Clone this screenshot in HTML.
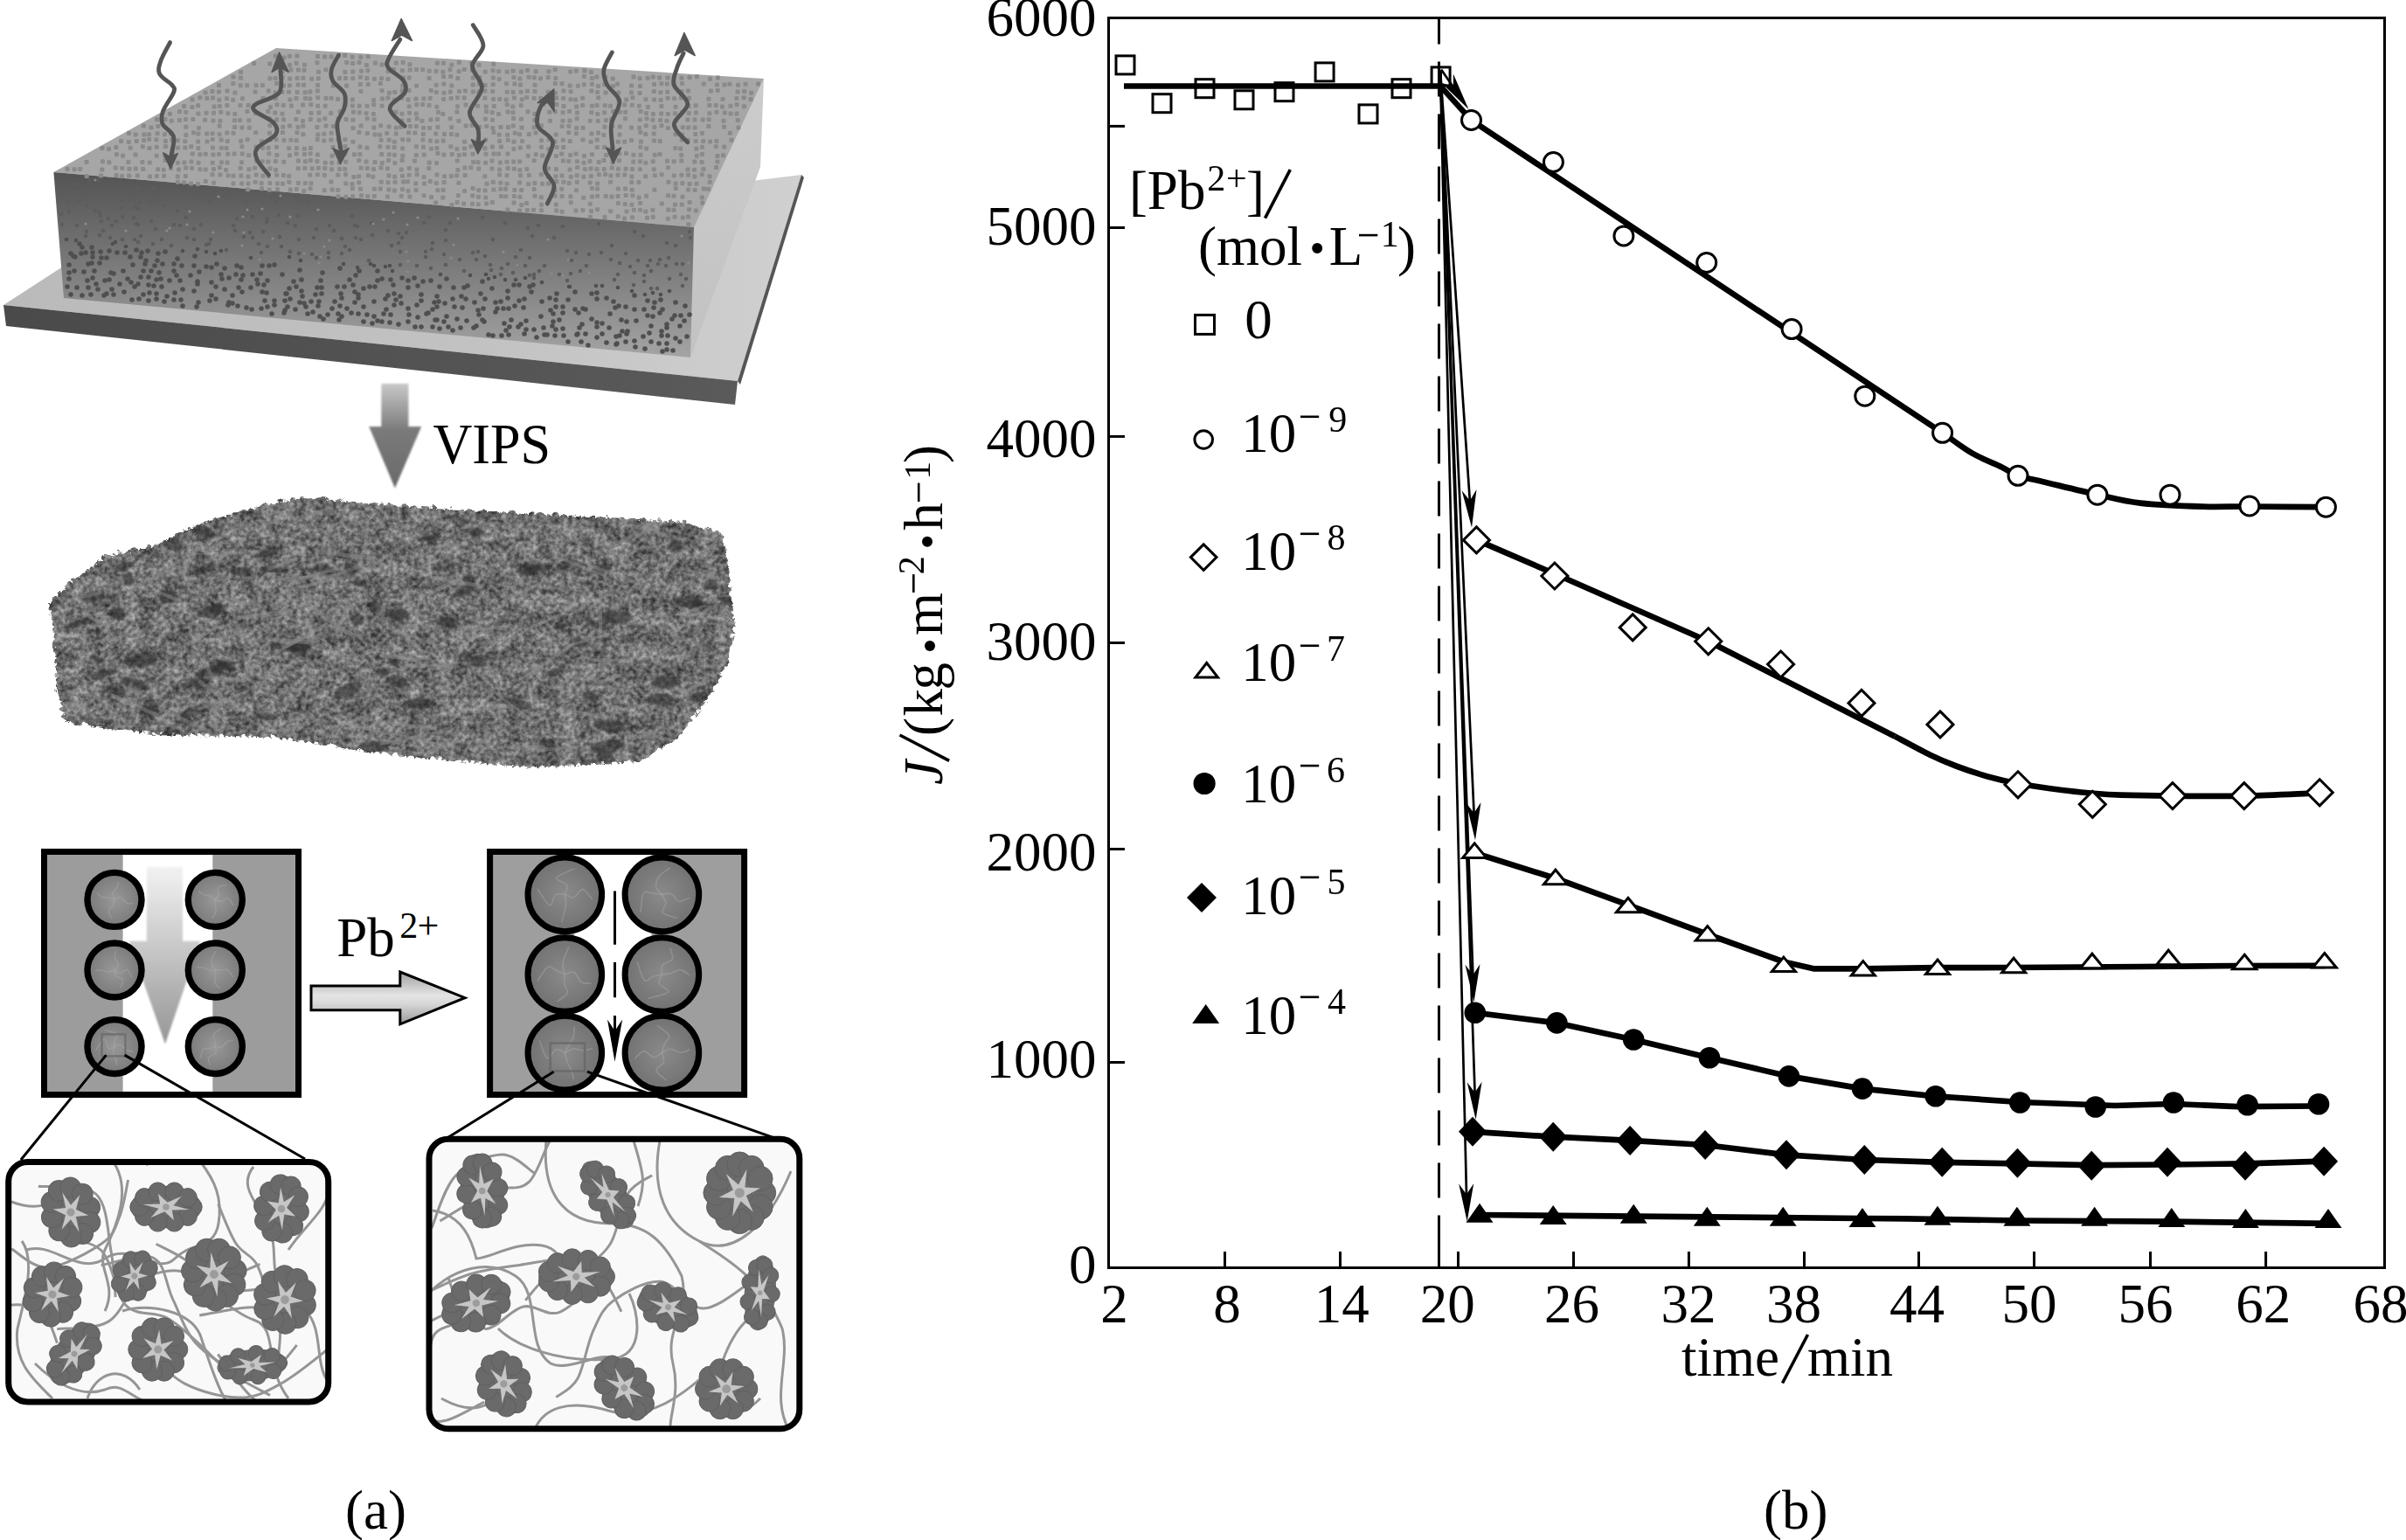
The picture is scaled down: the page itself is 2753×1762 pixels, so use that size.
<!DOCTYPE html>
<html><head><meta charset="utf-8"><style>html,body{margin:0;padding:0;background:#fff;}svg{display:block;}</style></head>
<body><svg width="2753" height="1762" viewBox="0 0 2753 1762">
<rect width="2753" height="1762" fill="#fff"/>
<defs>
<linearGradient id="plateTop" x1="0" y1="0" x2="1" y2="0"><stop offset="0" stop-color="#bababa"/><stop offset="0.6" stop-color="#c2c2c2"/><stop offset="1" stop-color="#d0d0d0"/></linearGradient>
<linearGradient id="plateFront" x1="0" y1="0" x2="1" y2="0"><stop offset="0" stop-color="#4a4a4a"/><stop offset="1" stop-color="#5a5a5a"/></linearGradient>
<linearGradient id="memFront" x1="0" y1="0" x2="0" y2="1"><stop offset="0" stop-color="#545454"/><stop offset="0.15" stop-color="#5e5e5e"/><stop offset="0.45" stop-color="#767676"/><stop offset="1" stop-color="#a4a4a4"/></linearGradient>
<linearGradient id="memSide" x1="0" y1="0" x2="0" y2="1"><stop offset="0" stop-color="#cccccc"/><stop offset="1" stop-color="#c2c2c2"/></linearGradient>
<linearGradient id="vipsArr" x1="0" y1="0" x2="0" y2="1"><stop offset="0" stop-color="#c8c8c8"/><stop offset="0.45" stop-color="#7a7a7a"/><stop offset="1" stop-color="#6a6a6a"/></linearGradient>
<linearGradient id="chanArr" x1="0" y1="0" x2="0" y2="1"><stop offset="0" stop-color="#f2f2f2"/><stop offset="0.5" stop-color="#c4c4c4"/><stop offset="1" stop-color="#959595"/></linearGradient>
<linearGradient id="pbArr" x1="0" y1="0" x2="0" y2="1"><stop offset="0" stop-color="#a0a0a0"/><stop offset="0.45" stop-color="#e4e4e4"/><stop offset="0.6" stop-color="#d8d8d8"/><stop offset="1" stop-color="#9a9a9a"/></linearGradient>
<radialGradient id="gel" cx="0.5" cy="0.5" r="0.5"><stop offset="0" stop-color="#989898"/><stop offset="1" stop-color="#7a7a7a"/></radialGradient><radialGradient id="gel2" cx="0.5" cy="0.5" r="0.5"><stop offset="0" stop-color="#8a8a8a"/><stop offset="1" stop-color="#727272"/></radialGradient>
<filter id="noise" x="0" y="0" width="100%" height="100%" color-interpolation-filters="sRGB"><feTurbulence type="fractalNoise" baseFrequency="0.09" numOctaves="3" seed="3"/><feColorMatrix type="matrix" values="0 0 0 0 0  0 0 0 0 0  0 0 0 0 0  0 0 0 -2.2 1.25"/></filter>
<filter id="grain" x="0" y="0" width="100%" height="100%" color-interpolation-filters="sRGB"><feTurbulence type="fractalNoise" baseFrequency="0.2" numOctaves="2" seed="5"/><feColorMatrix type="matrix" values="1.6 0 0 0 -0.3  1.6 0 0 0 -0.3  1.6 0 0 0 -0.3  0 0 0 0 1"/></filter>
<filter id="mottle" x="0" y="0" width="100%" height="100%" color-interpolation-filters="sRGB"><feTurbulence type="fractalNoise" baseFrequency="0.05" numOctaves="2" seed="11"/><feColorMatrix type="matrix" values="2.2 0 0 0 -0.6  2.2 0 0 0 -0.6  2.2 0 0 0 -0.6  0 0 0 0 1"/></filter>
<filter id="rough" x="-5%" y="-5%" width="110%" height="110%" color-interpolation-filters="sRGB"><feTurbulence type="turbulence" baseFrequency="0.12" numOctaves="1" seed="2" result="t"/><feDisplacementMap in="SourceGraphic" in2="t" scale="9" xChannelSelector="R" yChannelSelector="G"/></filter>
<filter id="blur07"><feGaussianBlur stdDeviation="0.7"/></filter>
<filter id="blur1"><feGaussianBlur stdDeviation="1"/></filter>
<clipPath id="spongeClip"><path id="spongeP" d="M52,687 L82,659 L117,634 L170,622 L229,594 L316,571 L344,566 L449,575 L554,582 L658,587 L781,594 L823,608 L830,645 L837,715 L830,757 L805,798 L774,840 L728,868 L606,875 L449,861 L309,840 L170,837 L72,823 L61,784 L58,715 Z"/></clipPath>
</defs>
<polygon points="4.0,349.0 75.0,303.0 917.0,200.0 844.0,436.0" fill="url(#plateTop)"/>
<polygon points="4.0,349.0 844.0,436.0 841.0,463.0 7.0,373.0" fill="url(#plateFront)"/>
<polygon points="917.0,200.0 920.0,203.0 847.0,440.0 844.0,436.0" fill="#555"/>
<polygon points="794.0,260.0 874.0,90.0 870.0,191.0 790.0,409.0" fill="url(#memSide)"/>
<polygon points="61.4,197.0 316.0,55.0 874.0,90.0 794.0,260.0" fill="#a6a6a6"/>
<polygon points="61.4,197.0 794.0,260.0 790.0,409.0 73.0,341.0" fill="url(#memFront)"/>
<g fill="#8a8a8a" filter="url(#blur07)"><rect x="312.8" y="61.5" width="5" height="5" rx="1.2"/><rect x="322.5" y="63.6" width="5" height="5" rx="1.2"/><rect x="328.8" y="61.7" width="5" height="5" rx="1.2"/><rect x="337.4" y="61.5" width="5" height="5" rx="1.2"/><rect x="360.9" y="62.1" width="5" height="5" rx="1.2"/><rect x="369.1" y="62.4" width="5" height="5" rx="1.2"/><rect x="376.6" y="62.5" width="5" height="5" rx="1.2"/><rect x="384.8" y="61.3" width="5" height="5" rx="1.2"/><rect x="392.1" y="61.1" width="5" height="5" rx="1.2"/><rect x="400.7" y="62.8" width="5" height="5" rx="1.2"/><rect x="410.3" y="63.0" width="5" height="5" rx="1.2"/><rect x="418.6" y="62.2" width="5" height="5" rx="1.2"/><rect x="288.1" y="70.0" width="5" height="5" rx="1.2"/><rect x="306.2" y="70.5" width="5" height="5" rx="1.2"/><rect x="328.9" y="71.9" width="5" height="5" rx="1.2"/><rect x="336.6" y="69.7" width="5" height="5" rx="1.2"/><rect x="346.0" y="71.8" width="5" height="5" rx="1.2"/><rect x="360.4" y="69.2" width="5" height="5" rx="1.2"/><rect x="394.2" y="69.1" width="5" height="5" rx="1.2"/><rect x="401.1" y="70.1" width="5" height="5" rx="1.2"/><rect x="408.5" y="69.0" width="5" height="5" rx="1.2"/><rect x="417.1" y="71.9" width="5" height="5" rx="1.2"/><rect x="426.9" y="69.6" width="5" height="5" rx="1.2"/><rect x="434.5" y="71.5" width="5" height="5" rx="1.2"/><rect x="440.1" y="70.4" width="5" height="5" rx="1.2"/><rect x="450.8" y="69.6" width="5" height="5" rx="1.2"/><rect x="458.7" y="69.1" width="5" height="5" rx="1.2"/><rect x="466.4" y="71.3" width="5" height="5" rx="1.2"/><rect x="497.9" y="69.8" width="5" height="5" rx="1.2"/><rect x="504.9" y="69.8" width="5" height="5" rx="1.2"/><rect x="514.3" y="71.7" width="5" height="5" rx="1.2"/><rect x="522.8" y="69.1" width="5" height="5" rx="1.2"/><rect x="537.2" y="69.8" width="5" height="5" rx="1.2"/><rect x="545.5" y="71.8" width="5" height="5" rx="1.2"/><rect x="562.3" y="70.8" width="5" height="5" rx="1.2"/><rect x="273.1" y="79.9" width="5" height="5" rx="1.2"/><rect x="320.5" y="79.7" width="5" height="5" rx="1.2"/><rect x="330.4" y="77.4" width="5" height="5" rx="1.2"/><rect x="338.8" y="77.6" width="5" height="5" rx="1.2"/><rect x="345.5" y="78.0" width="5" height="5" rx="1.2"/><rect x="362.0" y="79.7" width="5" height="5" rx="1.2"/><rect x="370.4" y="77.3" width="5" height="5" rx="1.2"/><rect x="392.3" y="80.0" width="5" height="5" rx="1.2"/><rect x="401.2" y="79.4" width="5" height="5" rx="1.2"/><rect x="411.0" y="78.7" width="5" height="5" rx="1.2"/><rect x="418.3" y="78.3" width="5" height="5" rx="1.2"/><rect x="441.8" y="79.0" width="5" height="5" rx="1.2"/><rect x="448.0" y="77.1" width="5" height="5" rx="1.2"/><rect x="457.8" y="78.3" width="5" height="5" rx="1.2"/><rect x="466.7" y="77.4" width="5" height="5" rx="1.2"/><rect x="474.0" y="77.1" width="5" height="5" rx="1.2"/><rect x="481.1" y="77.3" width="5" height="5" rx="1.2"/><rect x="488.7" y="78.8" width="5" height="5" rx="1.2"/><rect x="496.6" y="78.9" width="5" height="5" rx="1.2"/><rect x="504.4" y="79.8" width="5" height="5" rx="1.2"/><rect x="512.4" y="77.3" width="5" height="5" rx="1.2"/><rect x="522.6" y="79.3" width="5" height="5" rx="1.2"/><rect x="528.8" y="77.0" width="5" height="5" rx="1.2"/><rect x="537.7" y="78.1" width="5" height="5" rx="1.2"/><rect x="552.7" y="79.7" width="5" height="5" rx="1.2"/><rect x="561.6" y="78.2" width="5" height="5" rx="1.2"/><rect x="568.2" y="79.3" width="5" height="5" rx="1.2"/><rect x="577.7" y="79.8" width="5" height="5" rx="1.2"/><rect x="584.6" y="78.8" width="5" height="5" rx="1.2"/><rect x="593.9" y="79.4" width="5" height="5" rx="1.2"/><rect x="600.9" y="77.9" width="5" height="5" rx="1.2"/><rect x="610.7" y="79.3" width="5" height="5" rx="1.2"/><rect x="625.4" y="79.2" width="5" height="5" rx="1.2"/><rect x="632.7" y="77.3" width="5" height="5" rx="1.2"/><rect x="650.1" y="79.5" width="5" height="5" rx="1.2"/><rect x="656.8" y="78.7" width="5" height="5" rx="1.2"/><rect x="666.4" y="78.6" width="5" height="5" rx="1.2"/><rect x="673.9" y="79.9" width="5" height="5" rx="1.2"/><rect x="264.5" y="85.5" width="5" height="5" rx="1.2"/><rect x="273.0" y="86.6" width="5" height="5" rx="1.2"/><rect x="306.4" y="87.2" width="5" height="5" rx="1.2"/><rect x="312.6" y="86.9" width="5" height="5" rx="1.2"/><rect x="320.6" y="86.2" width="5" height="5" rx="1.2"/><rect x="329.2" y="87.4" width="5" height="5" rx="1.2"/><rect x="337.5" y="86.9" width="5" height="5" rx="1.2"/><rect x="344.4" y="86.8" width="5" height="5" rx="1.2"/><rect x="354.2" y="87.7" width="5" height="5" rx="1.2"/><rect x="361.7" y="87.2" width="5" height="5" rx="1.2"/><rect x="386.0" y="86.9" width="5" height="5" rx="1.2"/><rect x="392.9" y="86.9" width="5" height="5" rx="1.2"/><rect x="401.3" y="87.3" width="5" height="5" rx="1.2"/><rect x="409.9" y="85.8" width="5" height="5" rx="1.2"/><rect x="417.4" y="86.9" width="5" height="5" rx="1.2"/><rect x="426.0" y="87.8" width="5" height="5" rx="1.2"/><rect x="434.0" y="87.3" width="5" height="5" rx="1.2"/><rect x="441.5" y="87.9" width="5" height="5" rx="1.2"/><rect x="458.8" y="86.6" width="5" height="5" rx="1.2"/><rect x="465.7" y="86.6" width="5" height="5" rx="1.2"/><rect x="488.6" y="87.1" width="5" height="5" rx="1.2"/><rect x="505.1" y="85.2" width="5" height="5" rx="1.2"/><rect x="513.2" y="85.0" width="5" height="5" rx="1.2"/><rect x="521.3" y="87.1" width="5" height="5" rx="1.2"/><rect x="538.8" y="86.6" width="5" height="5" rx="1.2"/><rect x="546.4" y="86.2" width="5" height="5" rx="1.2"/><rect x="561.9" y="86.4" width="5" height="5" rx="1.2"/><rect x="568.7" y="87.9" width="5" height="5" rx="1.2"/><rect x="585.4" y="85.9" width="5" height="5" rx="1.2"/><rect x="592.4" y="87.5" width="5" height="5" rx="1.2"/><rect x="602.6" y="85.8" width="5" height="5" rx="1.2"/><rect x="608.8" y="86.3" width="5" height="5" rx="1.2"/><rect x="616.0" y="87.2" width="5" height="5" rx="1.2"/><rect x="624.7" y="85.9" width="5" height="5" rx="1.2"/><rect x="633.3" y="86.9" width="5" height="5" rx="1.2"/><rect x="665.9" y="85.0" width="5" height="5" rx="1.2"/><rect x="674.9" y="87.0" width="5" height="5" rx="1.2"/><rect x="680.3" y="85.4" width="5" height="5" rx="1.2"/><rect x="690.3" y="86.0" width="5" height="5" rx="1.2"/><rect x="698.7" y="87.4" width="5" height="5" rx="1.2"/><rect x="722.5" y="85.6" width="5" height="5" rx="1.2"/><rect x="729.6" y="87.2" width="5" height="5" rx="1.2"/><rect x="738.6" y="86.7" width="5" height="5" rx="1.2"/><rect x="744.7" y="85.4" width="5" height="5" rx="1.2"/><rect x="752.2" y="86.4" width="5" height="5" rx="1.2"/><rect x="761.5" y="86.5" width="5" height="5" rx="1.2"/><rect x="777.4" y="86.7" width="5" height="5" rx="1.2"/><rect x="786.5" y="86.1" width="5" height="5" rx="1.2"/><rect x="794.9" y="85.2" width="5" height="5" rx="1.2"/><rect x="810.0" y="87.8" width="5" height="5" rx="1.2"/><rect x="818.9" y="86.5" width="5" height="5" rx="1.2"/><rect x="248.0" y="95.1" width="5" height="5" rx="1.2"/><rect x="264.4" y="93.1" width="5" height="5" rx="1.2"/><rect x="272.7" y="95.2" width="5" height="5" rx="1.2"/><rect x="280.2" y="95.3" width="5" height="5" rx="1.2"/><rect x="290.6" y="95.2" width="5" height="5" rx="1.2"/><rect x="297.9" y="95.1" width="5" height="5" rx="1.2"/><rect x="314.2" y="93.0" width="5" height="5" rx="1.2"/><rect x="322.0" y="95.5" width="5" height="5" rx="1.2"/><rect x="328.9" y="95.2" width="5" height="5" rx="1.2"/><rect x="338.6" y="94.5" width="5" height="5" rx="1.2"/><rect x="345.1" y="94.7" width="5" height="5" rx="1.2"/><rect x="361.1" y="94.9" width="5" height="5" rx="1.2"/><rect x="378.8" y="95.4" width="5" height="5" rx="1.2"/><rect x="394.1" y="95.5" width="5" height="5" rx="1.2"/><rect x="409.8" y="93.9" width="5" height="5" rx="1.2"/><rect x="418.7" y="94.1" width="5" height="5" rx="1.2"/><rect x="432.8" y="93.0" width="5" height="5" rx="1.2"/><rect x="458.4" y="95.6" width="5" height="5" rx="1.2"/><rect x="474.1" y="95.7" width="5" height="5" rx="1.2"/><rect x="496.7" y="94.8" width="5" height="5" rx="1.2"/><rect x="505.4" y="93.6" width="5" height="5" rx="1.2"/><rect x="514.3" y="95.4" width="5" height="5" rx="1.2"/><rect x="538.7" y="94.6" width="5" height="5" rx="1.2"/><rect x="545.8" y="93.6" width="5" height="5" rx="1.2"/><rect x="552.5" y="95.1" width="5" height="5" rx="1.2"/><rect x="561.7" y="94.2" width="5" height="5" rx="1.2"/><rect x="577.1" y="93.3" width="5" height="5" rx="1.2"/><rect x="586.4" y="93.5" width="5" height="5" rx="1.2"/><rect x="593.0" y="94.6" width="5" height="5" rx="1.2"/><rect x="609.5" y="94.7" width="5" height="5" rx="1.2"/><rect x="632.8" y="93.1" width="5" height="5" rx="1.2"/><rect x="640.5" y="93.3" width="5" height="5" rx="1.2"/><rect x="649.7" y="95.6" width="5" height="5" rx="1.2"/><rect x="658.8" y="95.7" width="5" height="5" rx="1.2"/><rect x="665.8" y="94.2" width="5" height="5" rx="1.2"/><rect x="674.9" y="93.8" width="5" height="5" rx="1.2"/><rect x="681.9" y="95.9" width="5" height="5" rx="1.2"/><rect x="689.2" y="94.3" width="5" height="5" rx="1.2"/><rect x="698.9" y="96.0" width="5" height="5" rx="1.2"/><rect x="704.1" y="93.8" width="5" height="5" rx="1.2"/><rect x="720.1" y="95.4" width="5" height="5" rx="1.2"/><rect x="729.9" y="96.0" width="5" height="5" rx="1.2"/><rect x="746.0" y="93.9" width="5" height="5" rx="1.2"/><rect x="754.3" y="93.3" width="5" height="5" rx="1.2"/><rect x="760.8" y="93.4" width="5" height="5" rx="1.2"/><rect x="768.5" y="93.7" width="5" height="5" rx="1.2"/><rect x="778.0" y="93.0" width="5" height="5" rx="1.2"/><rect x="802.7" y="93.4" width="5" height="5" rx="1.2"/><rect x="817.9" y="94.4" width="5" height="5" rx="1.2"/><rect x="826.5" y="94.4" width="5" height="5" rx="1.2"/><rect x="832.4" y="93.7" width="5" height="5" rx="1.2"/><rect x="842.1" y="94.7" width="5" height="5" rx="1.2"/><rect x="850.6" y="93.8" width="5" height="5" rx="1.2"/><rect x="865.0" y="93.5" width="5" height="5" rx="1.2"/><rect x="232.6" y="103.5" width="5" height="5" rx="1.2"/><rect x="240.5" y="102.1" width="5" height="5" rx="1.2"/><rect x="248.0" y="102.6" width="5" height="5" rx="1.2"/><rect x="257.5" y="101.4" width="5" height="5" rx="1.2"/><rect x="266.4" y="103.6" width="5" height="5" rx="1.2"/><rect x="289.5" y="102.5" width="5" height="5" rx="1.2"/><rect x="304.7" y="101.5" width="5" height="5" rx="1.2"/><rect x="312.8" y="103.5" width="5" height="5" rx="1.2"/><rect x="320.3" y="103.1" width="5" height="5" rx="1.2"/><rect x="328.1" y="102.8" width="5" height="5" rx="1.2"/><rect x="337.6" y="103.1" width="5" height="5" rx="1.2"/><rect x="346.6" y="103.2" width="5" height="5" rx="1.2"/><rect x="352.4" y="102.5" width="5" height="5" rx="1.2"/><rect x="360.8" y="101.4" width="5" height="5" rx="1.2"/><rect x="410.3" y="102.0" width="5" height="5" rx="1.2"/><rect x="434.5" y="101.2" width="5" height="5" rx="1.2"/><rect x="442.9" y="103.8" width="5" height="5" rx="1.2"/><rect x="449.3" y="102.9" width="5" height="5" rx="1.2"/><rect x="457.6" y="101.2" width="5" height="5" rx="1.2"/><rect x="465.5" y="101.1" width="5" height="5" rx="1.2"/><rect x="490.7" y="101.1" width="5" height="5" rx="1.2"/><rect x="496.8" y="103.0" width="5" height="5" rx="1.2"/><rect x="505.6" y="103.8" width="5" height="5" rx="1.2"/><rect x="512.8" y="102.6" width="5" height="5" rx="1.2"/><rect x="522.9" y="101.9" width="5" height="5" rx="1.2"/><rect x="529.9" y="101.4" width="5" height="5" rx="1.2"/><rect x="538.9" y="102.5" width="5" height="5" rx="1.2"/><rect x="545.4" y="102.6" width="5" height="5" rx="1.2"/><rect x="552.4" y="101.4" width="5" height="5" rx="1.2"/><rect x="561.2" y="101.9" width="5" height="5" rx="1.2"/><rect x="577.8" y="102.7" width="5" height="5" rx="1.2"/><rect x="584.6" y="103.1" width="5" height="5" rx="1.2"/><rect x="593.6" y="102.8" width="5" height="5" rx="1.2"/><rect x="600.9" y="101.7" width="5" height="5" rx="1.2"/><rect x="609.5" y="102.1" width="5" height="5" rx="1.2"/><rect x="624.7" y="102.7" width="5" height="5" rx="1.2"/><rect x="632.9" y="104.0" width="5" height="5" rx="1.2"/><rect x="642.3" y="101.5" width="5" height="5" rx="1.2"/><rect x="650.6" y="102.3" width="5" height="5" rx="1.2"/><rect x="674.2" y="101.5" width="5" height="5" rx="1.2"/><rect x="681.1" y="103.0" width="5" height="5" rx="1.2"/><rect x="690.5" y="103.5" width="5" height="5" rx="1.2"/><rect x="705.4" y="103.4" width="5" height="5" rx="1.2"/><rect x="720.0" y="103.3" width="5" height="5" rx="1.2"/><rect x="729.5" y="103.9" width="5" height="5" rx="1.2"/><rect x="745.8" y="102.1" width="5" height="5" rx="1.2"/><rect x="753.4" y="103.2" width="5" height="5" rx="1.2"/><rect x="761.2" y="102.7" width="5" height="5" rx="1.2"/><rect x="777.5" y="102.3" width="5" height="5" rx="1.2"/><rect x="784.9" y="101.4" width="5" height="5" rx="1.2"/><rect x="810.9" y="101.6" width="5" height="5" rx="1.2"/><rect x="818.7" y="101.0" width="5" height="5" rx="1.2"/><rect x="841.6" y="102.6" width="5" height="5" rx="1.2"/><rect x="849.2" y="102.1" width="5" height="5" rx="1.2"/><rect x="857.1" y="103.8" width="5" height="5" rx="1.2"/><rect x="217.6" y="111.5" width="5" height="5" rx="1.2"/><rect x="226.4" y="109.2" width="5" height="5" rx="1.2"/><rect x="234.3" y="110.0" width="5" height="5" rx="1.2"/><rect x="241.1" y="109.5" width="5" height="5" rx="1.2"/><rect x="248.3" y="111.7" width="5" height="5" rx="1.2"/><rect x="257.0" y="110.3" width="5" height="5" rx="1.2"/><rect x="264.2" y="111.7" width="5" height="5" rx="1.2"/><rect x="274.9" y="110.3" width="5" height="5" rx="1.2"/><rect x="298.4" y="109.9" width="5" height="5" rx="1.2"/><rect x="312.7" y="110.2" width="5" height="5" rx="1.2"/><rect x="329.5" y="111.4" width="5" height="5" rx="1.2"/><rect x="336.5" y="110.1" width="5" height="5" rx="1.2"/><rect x="346.9" y="109.9" width="5" height="5" rx="1.2"/><rect x="352.3" y="110.6" width="5" height="5" rx="1.2"/><rect x="361.2" y="109.2" width="5" height="5" rx="1.2"/><rect x="370.5" y="110.1" width="5" height="5" rx="1.2"/><rect x="376.6" y="109.9" width="5" height="5" rx="1.2"/><rect x="384.1" y="111.0" width="5" height="5" rx="1.2"/><rect x="392.5" y="111.1" width="5" height="5" rx="1.2"/><rect x="400.8" y="111.5" width="5" height="5" rx="1.2"/><rect x="425.1" y="111.9" width="5" height="5" rx="1.2"/><rect x="434.9" y="110.5" width="5" height="5" rx="1.2"/><rect x="441.4" y="109.4" width="5" height="5" rx="1.2"/><rect x="448.8" y="111.7" width="5" height="5" rx="1.2"/><rect x="457.1" y="109.7" width="5" height="5" rx="1.2"/><rect x="464.6" y="111.6" width="5" height="5" rx="1.2"/><rect x="473.5" y="110.6" width="5" height="5" rx="1.2"/><rect x="482.3" y="110.2" width="5" height="5" rx="1.2"/><rect x="489.7" y="109.9" width="5" height="5" rx="1.2"/><rect x="505.0" y="111.0" width="5" height="5" rx="1.2"/><rect x="513.7" y="110.1" width="5" height="5" rx="1.2"/><rect x="520.9" y="109.2" width="5" height="5" rx="1.2"/><rect x="528.7" y="109.4" width="5" height="5" rx="1.2"/><rect x="552.4" y="109.8" width="5" height="5" rx="1.2"/><rect x="562.0" y="111.0" width="5" height="5" rx="1.2"/><rect x="569.2" y="111.0" width="5" height="5" rx="1.2"/><rect x="576.7" y="111.5" width="5" height="5" rx="1.2"/><rect x="585.9" y="109.5" width="5" height="5" rx="1.2"/><rect x="594.7" y="111.2" width="5" height="5" rx="1.2"/><rect x="600.1" y="109.1" width="5" height="5" rx="1.2"/><rect x="608.6" y="109.9" width="5" height="5" rx="1.2"/><rect x="616.1" y="109.9" width="5" height="5" rx="1.2"/><rect x="624.5" y="111.5" width="5" height="5" rx="1.2"/><rect x="634.1" y="109.8" width="5" height="5" rx="1.2"/><rect x="642.1" y="110.0" width="5" height="5" rx="1.2"/><rect x="650.5" y="111.3" width="5" height="5" rx="1.2"/><rect x="656.1" y="111.6" width="5" height="5" rx="1.2"/><rect x="664.1" y="109.7" width="5" height="5" rx="1.2"/><rect x="682.2" y="109.3" width="5" height="5" rx="1.2"/><rect x="705.3" y="111.8" width="5" height="5" rx="1.2"/><rect x="714.2" y="111.5" width="5" height="5" rx="1.2"/><rect x="721.4" y="109.2" width="5" height="5" rx="1.2"/><rect x="736.4" y="111.3" width="5" height="5" rx="1.2"/><rect x="746.1" y="111.4" width="5" height="5" rx="1.2"/><rect x="753.6" y="111.9" width="5" height="5" rx="1.2"/><rect x="761.6" y="109.7" width="5" height="5" rx="1.2"/><rect x="769.1" y="110.2" width="5" height="5" rx="1.2"/><rect x="776.9" y="109.4" width="5" height="5" rx="1.2"/><rect x="786.0" y="109.7" width="5" height="5" rx="1.2"/><rect x="808.4" y="110.7" width="5" height="5" rx="1.2"/><rect x="824.5" y="111.0" width="5" height="5" rx="1.2"/><rect x="840.3" y="109.9" width="5" height="5" rx="1.2"/><rect x="848.6" y="109.2" width="5" height="5" rx="1.2"/><rect x="856.6" y="111.1" width="5" height="5" rx="1.2"/><rect x="208.2" y="119.1" width="5" height="5" rx="1.2"/><rect x="217.3" y="119.9" width="5" height="5" rx="1.2"/><rect x="224.1" y="118.3" width="5" height="5" rx="1.2"/><rect x="242.6" y="119.4" width="5" height="5" rx="1.2"/><rect x="248.8" y="119.0" width="5" height="5" rx="1.2"/><rect x="257.3" y="118.0" width="5" height="5" rx="1.2"/><rect x="272.5" y="117.9" width="5" height="5" rx="1.2"/><rect x="281.7" y="118.0" width="5" height="5" rx="1.2"/><rect x="288.3" y="118.0" width="5" height="5" rx="1.2"/><rect x="306.9" y="119.9" width="5" height="5" rx="1.2"/><rect x="314.4" y="117.2" width="5" height="5" rx="1.2"/><rect x="321.8" y="117.9" width="5" height="5" rx="1.2"/><rect x="330.9" y="118.4" width="5" height="5" rx="1.2"/><rect x="344.1" y="117.6" width="5" height="5" rx="1.2"/><rect x="353.3" y="117.3" width="5" height="5" rx="1.2"/><rect x="361.1" y="118.7" width="5" height="5" rx="1.2"/><rect x="369.6" y="118.7" width="5" height="5" rx="1.2"/><rect x="392.8" y="117.3" width="5" height="5" rx="1.2"/><rect x="400.8" y="118.5" width="5" height="5" rx="1.2"/><rect x="408.7" y="118.7" width="5" height="5" rx="1.2"/><rect x="417.5" y="118.8" width="5" height="5" rx="1.2"/><rect x="425.2" y="117.2" width="5" height="5" rx="1.2"/><rect x="434.6" y="118.7" width="5" height="5" rx="1.2"/><rect x="465.7" y="119.3" width="5" height="5" rx="1.2"/><rect x="474.3" y="117.2" width="5" height="5" rx="1.2"/><rect x="481.1" y="117.0" width="5" height="5" rx="1.2"/><rect x="488.6" y="117.9" width="5" height="5" rx="1.2"/><rect x="497.3" y="119.7" width="5" height="5" rx="1.2"/><rect x="521.0" y="119.3" width="5" height="5" rx="1.2"/><rect x="530.5" y="117.4" width="5" height="5" rx="1.2"/><rect x="544.1" y="118.8" width="5" height="5" rx="1.2"/><rect x="553.6" y="119.4" width="5" height="5" rx="1.2"/><rect x="562.8" y="119.0" width="5" height="5" rx="1.2"/><rect x="577.7" y="117.3" width="5" height="5" rx="1.2"/><rect x="584.3" y="119.4" width="5" height="5" rx="1.2"/><rect x="593.7" y="117.9" width="5" height="5" rx="1.2"/><rect x="618.8" y="117.0" width="5" height="5" rx="1.2"/><rect x="634.4" y="117.1" width="5" height="5" rx="1.2"/><rect x="642.5" y="119.0" width="5" height="5" rx="1.2"/><rect x="657.2" y="119.6" width="5" height="5" rx="1.2"/><rect x="664.2" y="118.0" width="5" height="5" rx="1.2"/><rect x="674.7" y="118.8" width="5" height="5" rx="1.2"/><rect x="680.5" y="118.1" width="5" height="5" rx="1.2"/><rect x="689.7" y="118.2" width="5" height="5" rx="1.2"/><rect x="696.0" y="118.7" width="5" height="5" rx="1.2"/><rect x="712.1" y="117.4" width="5" height="5" rx="1.2"/><rect x="720.8" y="117.8" width="5" height="5" rx="1.2"/><rect x="728.8" y="118.7" width="5" height="5" rx="1.2"/><rect x="738.9" y="120.0" width="5" height="5" rx="1.2"/><rect x="754.3" y="118.9" width="5" height="5" rx="1.2"/><rect x="770.6" y="119.8" width="5" height="5" rx="1.2"/><rect x="785.5" y="118.9" width="5" height="5" rx="1.2"/><rect x="793.7" y="118.2" width="5" height="5" rx="1.2"/><rect x="809.4" y="118.1" width="5" height="5" rx="1.2"/><rect x="816.7" y="118.0" width="5" height="5" rx="1.2"/><rect x="824.0" y="119.6" width="5" height="5" rx="1.2"/><rect x="833.3" y="118.7" width="5" height="5" rx="1.2"/><rect x="840.5" y="117.2" width="5" height="5" rx="1.2"/><rect x="848.9" y="119.2" width="5" height="5" rx="1.2"/><rect x="192.0" y="127.8" width="5" height="5" rx="1.2"/><rect x="203.0" y="125.2" width="5" height="5" rx="1.2"/><rect x="210.2" y="126.0" width="5" height="5" rx="1.2"/><rect x="224.3" y="127.4" width="5" height="5" rx="1.2"/><rect x="233.6" y="126.8" width="5" height="5" rx="1.2"/><rect x="242.0" y="126.8" width="5" height="5" rx="1.2"/><rect x="250.2" y="125.8" width="5" height="5" rx="1.2"/><rect x="258.3" y="127.3" width="5" height="5" rx="1.2"/><rect x="266.3" y="127.9" width="5" height="5" rx="1.2"/><rect x="280.4" y="125.0" width="5" height="5" rx="1.2"/><rect x="290.0" y="127.3" width="5" height="5" rx="1.2"/><rect x="304.3" y="125.1" width="5" height="5" rx="1.2"/><rect x="312.2" y="126.5" width="5" height="5" rx="1.2"/><rect x="320.5" y="127.8" width="5" height="5" rx="1.2"/><rect x="338.8" y="125.5" width="5" height="5" rx="1.2"/><rect x="353.5" y="126.9" width="5" height="5" rx="1.2"/><rect x="362.4" y="126.4" width="5" height="5" rx="1.2"/><rect x="376.2" y="126.9" width="5" height="5" rx="1.2"/><rect x="386.6" y="125.2" width="5" height="5" rx="1.2"/><rect x="401.9" y="125.7" width="5" height="5" rx="1.2"/><rect x="408.8" y="126.3" width="5" height="5" rx="1.2"/><rect x="416.6" y="127.3" width="5" height="5" rx="1.2"/><rect x="424.9" y="128.0" width="5" height="5" rx="1.2"/><rect x="450.5" y="125.8" width="5" height="5" rx="1.2"/><rect x="457.5" y="127.7" width="5" height="5" rx="1.2"/><rect x="466.0" y="126.8" width="5" height="5" rx="1.2"/><rect x="473.7" y="127.6" width="5" height="5" rx="1.2"/><rect x="499.0" y="125.9" width="5" height="5" rx="1.2"/><rect x="504.3" y="127.9" width="5" height="5" rx="1.2"/><rect x="520.3" y="125.5" width="5" height="5" rx="1.2"/><rect x="554.1" y="125.1" width="5" height="5" rx="1.2"/><rect x="560.7" y="126.3" width="5" height="5" rx="1.2"/><rect x="568.1" y="128.0" width="5" height="5" rx="1.2"/><rect x="578.6" y="125.4" width="5" height="5" rx="1.2"/><rect x="584.4" y="126.3" width="5" height="5" rx="1.2"/><rect x="601.5" y="125.3" width="5" height="5" rx="1.2"/><rect x="609.5" y="127.8" width="5" height="5" rx="1.2"/><rect x="626.2" y="125.8" width="5" height="5" rx="1.2"/><rect x="632.8" y="125.2" width="5" height="5" rx="1.2"/><rect x="641.5" y="126.2" width="5" height="5" rx="1.2"/><rect x="649.1" y="125.0" width="5" height="5" rx="1.2"/><rect x="658.0" y="126.6" width="5" height="5" rx="1.2"/><rect x="674.2" y="126.2" width="5" height="5" rx="1.2"/><rect x="681.3" y="127.9" width="5" height="5" rx="1.2"/><rect x="689.2" y="126.2" width="5" height="5" rx="1.2"/><rect x="699.0" y="125.0" width="5" height="5" rx="1.2"/><rect x="706.8" y="125.8" width="5" height="5" rx="1.2"/><rect x="713.1" y="125.7" width="5" height="5" rx="1.2"/><rect x="730.7" y="125.1" width="5" height="5" rx="1.2"/><rect x="737.0" y="126.9" width="5" height="5" rx="1.2"/><rect x="744.9" y="127.9" width="5" height="5" rx="1.2"/><rect x="754.2" y="127.6" width="5" height="5" rx="1.2"/><rect x="761.8" y="128.0" width="5" height="5" rx="1.2"/><rect x="769.9" y="127.2" width="5" height="5" rx="1.2"/><rect x="778.1" y="126.2" width="5" height="5" rx="1.2"/><rect x="785.8" y="127.0" width="5" height="5" rx="1.2"/><rect x="793.9" y="126.6" width="5" height="5" rx="1.2"/><rect x="809.4" y="127.2" width="5" height="5" rx="1.2"/><rect x="817.4" y="125.7" width="5" height="5" rx="1.2"/><rect x="826.8" y="126.6" width="5" height="5" rx="1.2"/><rect x="833.6" y="127.4" width="5" height="5" rx="1.2"/><rect x="840.5" y="127.5" width="5" height="5" rx="1.2"/><rect x="176.9" y="134.2" width="5" height="5" rx="1.2"/><rect x="186.4" y="134.1" width="5" height="5" rx="1.2"/><rect x="193.7" y="135.8" width="5" height="5" rx="1.2"/><rect x="202.9" y="135.1" width="5" height="5" rx="1.2"/><rect x="210.0" y="134.0" width="5" height="5" rx="1.2"/><rect x="218.3" y="134.1" width="5" height="5" rx="1.2"/><rect x="232.1" y="134.8" width="5" height="5" rx="1.2"/><rect x="241.4" y="135.5" width="5" height="5" rx="1.2"/><rect x="249.4" y="135.7" width="5" height="5" rx="1.2"/><rect x="266.0" y="135.2" width="5" height="5" rx="1.2"/><rect x="272.1" y="135.0" width="5" height="5" rx="1.2"/><rect x="282.3" y="135.3" width="5" height="5" rx="1.2"/><rect x="305.7" y="133.2" width="5" height="5" rx="1.2"/><rect x="314.1" y="134.4" width="5" height="5" rx="1.2"/><rect x="322.1" y="134.3" width="5" height="5" rx="1.2"/><rect x="336.4" y="134.0" width="5" height="5" rx="1.2"/><rect x="344.0" y="136.0" width="5" height="5" rx="1.2"/><rect x="352.8" y="133.9" width="5" height="5" rx="1.2"/><rect x="362.6" y="134.7" width="5" height="5" rx="1.2"/><rect x="369.3" y="133.2" width="5" height="5" rx="1.2"/><rect x="384.8" y="133.6" width="5" height="5" rx="1.2"/><rect x="393.6" y="134.1" width="5" height="5" rx="1.2"/><rect x="401.5" y="134.8" width="5" height="5" rx="1.2"/><rect x="417.7" y="133.2" width="5" height="5" rx="1.2"/><rect x="425.6" y="134.2" width="5" height="5" rx="1.2"/><rect x="457.3" y="135.6" width="5" height="5" rx="1.2"/><rect x="465.3" y="134.9" width="5" height="5" rx="1.2"/><rect x="474.6" y="133.2" width="5" height="5" rx="1.2"/><rect x="480.5" y="135.8" width="5" height="5" rx="1.2"/><rect x="490.4" y="134.5" width="5" height="5" rx="1.2"/><rect x="498.0" y="133.9" width="5" height="5" rx="1.2"/><rect x="512.6" y="133.3" width="5" height="5" rx="1.2"/><rect x="522.4" y="135.9" width="5" height="5" rx="1.2"/><rect x="538.1" y="133.5" width="5" height="5" rx="1.2"/><rect x="552.9" y="133.7" width="5" height="5" rx="1.2"/><rect x="561.0" y="134.7" width="5" height="5" rx="1.2"/><rect x="585.2" y="133.1" width="5" height="5" rx="1.2"/><rect x="593.9" y="133.7" width="5" height="5" rx="1.2"/><rect x="609.3" y="135.0" width="5" height="5" rx="1.2"/><rect x="627.0" y="135.8" width="5" height="5" rx="1.2"/><rect x="641.5" y="135.8" width="5" height="5" rx="1.2"/><rect x="649.5" y="135.6" width="5" height="5" rx="1.2"/><rect x="657.6" y="133.3" width="5" height="5" rx="1.2"/><rect x="672.7" y="135.8" width="5" height="5" rx="1.2"/><rect x="681.8" y="135.9" width="5" height="5" rx="1.2"/><rect x="690.8" y="135.0" width="5" height="5" rx="1.2"/><rect x="697.0" y="134.3" width="5" height="5" rx="1.2"/><rect x="712.9" y="133.2" width="5" height="5" rx="1.2"/><rect x="729.8" y="134.4" width="5" height="5" rx="1.2"/><rect x="737.5" y="133.3" width="5" height="5" rx="1.2"/><rect x="744.4" y="134.7" width="5" height="5" rx="1.2"/><rect x="753.1" y="135.0" width="5" height="5" rx="1.2"/><rect x="760.5" y="135.8" width="5" height="5" rx="1.2"/><rect x="770.5" y="135.6" width="5" height="5" rx="1.2"/><rect x="784.4" y="134.5" width="5" height="5" rx="1.2"/><rect x="792.4" y="134.4" width="5" height="5" rx="1.2"/><rect x="801.6" y="134.5" width="5" height="5" rx="1.2"/><rect x="808.6" y="134.2" width="5" height="5" rx="1.2"/><rect x="825.5" y="135.7" width="5" height="5" rx="1.2"/><rect x="841.7" y="135.1" width="5" height="5" rx="1.2"/><rect x="161.9" y="141.6" width="5" height="5" rx="1.2"/><rect x="170.5" y="143.4" width="5" height="5" rx="1.2"/><rect x="178.2" y="142.0" width="5" height="5" rx="1.2"/><rect x="210.4" y="142.8" width="5" height="5" rx="1.2"/><rect x="224.9" y="143.9" width="5" height="5" rx="1.2"/><rect x="248.7" y="141.6" width="5" height="5" rx="1.2"/><rect x="266.1" y="143.1" width="5" height="5" rx="1.2"/><rect x="274.4" y="143.4" width="5" height="5" rx="1.2"/><rect x="282.8" y="143.5" width="5" height="5" rx="1.2"/><rect x="306.4" y="141.0" width="5" height="5" rx="1.2"/><rect x="321.3" y="142.8" width="5" height="5" rx="1.2"/><rect x="329.0" y="141.6" width="5" height="5" rx="1.2"/><rect x="338.5" y="142.9" width="5" height="5" rx="1.2"/><rect x="344.3" y="141.8" width="5" height="5" rx="1.2"/><rect x="360.4" y="143.0" width="5" height="5" rx="1.2"/><rect x="370.5" y="141.6" width="5" height="5" rx="1.2"/><rect x="378.9" y="142.1" width="5" height="5" rx="1.2"/><rect x="401.5" y="144.0" width="5" height="5" rx="1.2"/><rect x="410.5" y="141.5" width="5" height="5" rx="1.2"/><rect x="425.4" y="143.4" width="5" height="5" rx="1.2"/><rect x="433.1" y="141.3" width="5" height="5" rx="1.2"/><rect x="442.6" y="142.5" width="5" height="5" rx="1.2"/><rect x="450.8" y="143.7" width="5" height="5" rx="1.2"/><rect x="456.2" y="142.9" width="5" height="5" rx="1.2"/><rect x="466.9" y="142.1" width="5" height="5" rx="1.2"/><rect x="473.9" y="142.1" width="5" height="5" rx="1.2"/><rect x="482.0" y="143.7" width="5" height="5" rx="1.2"/><rect x="489.1" y="143.9" width="5" height="5" rx="1.2"/><rect x="498.5" y="143.1" width="5" height="5" rx="1.2"/><rect x="514.2" y="143.2" width="5" height="5" rx="1.2"/><rect x="530.7" y="141.4" width="5" height="5" rx="1.2"/><rect x="537.7" y="141.1" width="5" height="5" rx="1.2"/><rect x="546.2" y="142.9" width="5" height="5" rx="1.2"/><rect x="554.3" y="141.9" width="5" height="5" rx="1.2"/><rect x="561.3" y="143.9" width="5" height="5" rx="1.2"/><rect x="570.4" y="143.0" width="5" height="5" rx="1.2"/><rect x="578.9" y="143.1" width="5" height="5" rx="1.2"/><rect x="584.8" y="141.5" width="5" height="5" rx="1.2"/><rect x="594.5" y="143.4" width="5" height="5" rx="1.2"/><rect x="608.5" y="143.2" width="5" height="5" rx="1.2"/><rect x="616.9" y="141.2" width="5" height="5" rx="1.2"/><rect x="640.6" y="142.0" width="5" height="5" rx="1.2"/><rect x="648.3" y="141.8" width="5" height="5" rx="1.2"/><rect x="657.2" y="143.9" width="5" height="5" rx="1.2"/><rect x="664.6" y="143.7" width="5" height="5" rx="1.2"/><rect x="689.4" y="142.7" width="5" height="5" rx="1.2"/><rect x="698.3" y="141.8" width="5" height="5" rx="1.2"/><rect x="706.8" y="142.6" width="5" height="5" rx="1.2"/><rect x="720.1" y="143.5" width="5" height="5" rx="1.2"/><rect x="729.1" y="143.8" width="5" height="5" rx="1.2"/><rect x="736.7" y="141.2" width="5" height="5" rx="1.2"/><rect x="746.3" y="143.0" width="5" height="5" rx="1.2"/><rect x="754.4" y="141.3" width="5" height="5" rx="1.2"/><rect x="761.9" y="143.9" width="5" height="5" rx="1.2"/><rect x="770.1" y="143.3" width="5" height="5" rx="1.2"/><rect x="778.8" y="143.2" width="5" height="5" rx="1.2"/><rect x="785.2" y="143.4" width="5" height="5" rx="1.2"/><rect x="792.6" y="143.6" width="5" height="5" rx="1.2"/><rect x="808.4" y="142.0" width="5" height="5" rx="1.2"/><rect x="826.0" y="142.7" width="5" height="5" rx="1.2"/><rect x="842.4" y="143.5" width="5" height="5" rx="1.2"/><rect x="145.0" y="150.0" width="5" height="5" rx="1.2"/><rect x="152.7" y="151.4" width="5" height="5" rx="1.2"/><rect x="162.5" y="151.4" width="5" height="5" rx="1.2"/><rect x="168.1" y="151.3" width="5" height="5" rx="1.2"/><rect x="177.5" y="150.3" width="5" height="5" rx="1.2"/><rect x="185.9" y="151.2" width="5" height="5" rx="1.2"/><rect x="193.2" y="150.5" width="5" height="5" rx="1.2"/><rect x="210.4" y="151.9" width="5" height="5" rx="1.2"/><rect x="219.0" y="149.2" width="5" height="5" rx="1.2"/><rect x="224.4" y="150.4" width="5" height="5" rx="1.2"/><rect x="234.1" y="150.4" width="5" height="5" rx="1.2"/><rect x="240.6" y="150.2" width="5" height="5" rx="1.2"/><rect x="248.6" y="151.2" width="5" height="5" rx="1.2"/><rect x="257.3" y="149.6" width="5" height="5" rx="1.2"/><rect x="264.6" y="149.8" width="5" height="5" rx="1.2"/><rect x="290.2" y="149.2" width="5" height="5" rx="1.2"/><rect x="305.9" y="149.8" width="5" height="5" rx="1.2"/><rect x="320.9" y="149.1" width="5" height="5" rx="1.2"/><rect x="337.4" y="149.3" width="5" height="5" rx="1.2"/><rect x="344.5" y="151.3" width="5" height="5" rx="1.2"/><rect x="361.4" y="151.5" width="5" height="5" rx="1.2"/><rect x="368.3" y="150.7" width="5" height="5" rx="1.2"/><rect x="376.6" y="149.8" width="5" height="5" rx="1.2"/><rect x="408.4" y="149.0" width="5" height="5" rx="1.2"/><rect x="417.8" y="150.1" width="5" height="5" rx="1.2"/><rect x="426.5" y="151.4" width="5" height="5" rx="1.2"/><rect x="432.1" y="151.7" width="5" height="5" rx="1.2"/><rect x="440.2" y="150.0" width="5" height="5" rx="1.2"/><rect x="450.7" y="150.5" width="5" height="5" rx="1.2"/><rect x="465.1" y="149.3" width="5" height="5" rx="1.2"/><rect x="472.4" y="149.6" width="5" height="5" rx="1.2"/><rect x="481.8" y="150.9" width="5" height="5" rx="1.2"/><rect x="496.2" y="150.4" width="5" height="5" rx="1.2"/><rect x="506.0" y="151.1" width="5" height="5" rx="1.2"/><rect x="513.9" y="151.1" width="5" height="5" rx="1.2"/><rect x="520.4" y="151.7" width="5" height="5" rx="1.2"/><rect x="562.4" y="149.1" width="5" height="5" rx="1.2"/><rect x="568.7" y="151.8" width="5" height="5" rx="1.2"/><rect x="578.0" y="151.8" width="5" height="5" rx="1.2"/><rect x="586.8" y="149.8" width="5" height="5" rx="1.2"/><rect x="592.1" y="151.3" width="5" height="5" rx="1.2"/><rect x="602.9" y="151.1" width="5" height="5" rx="1.2"/><rect x="610.4" y="149.5" width="5" height="5" rx="1.2"/><rect x="633.7" y="151.5" width="5" height="5" rx="1.2"/><rect x="648.2" y="149.2" width="5" height="5" rx="1.2"/><rect x="656.9" y="150.2" width="5" height="5" rx="1.2"/><rect x="674.4" y="150.4" width="5" height="5" rx="1.2"/><rect x="682.0" y="149.6" width="5" height="5" rx="1.2"/><rect x="688.3" y="151.9" width="5" height="5" rx="1.2"/><rect x="706.5" y="151.5" width="5" height="5" rx="1.2"/><rect x="730.3" y="149.0" width="5" height="5" rx="1.2"/><rect x="736.3" y="151.1" width="5" height="5" rx="1.2"/><rect x="745.6" y="150.4" width="5" height="5" rx="1.2"/><rect x="770.5" y="151.2" width="5" height="5" rx="1.2"/><rect x="778.0" y="151.5" width="5" height="5" rx="1.2"/><rect x="793.3" y="151.1" width="5" height="5" rx="1.2"/><rect x="800.9" y="150.0" width="5" height="5" rx="1.2"/><rect x="832.8" y="149.7" width="5" height="5" rx="1.2"/><rect x="136.1" y="159.1" width="5" height="5" rx="1.2"/><rect x="144.8" y="159.9" width="5" height="5" rx="1.2"/><rect x="153.8" y="159.0" width="5" height="5" rx="1.2"/><rect x="162.1" y="157.9" width="5" height="5" rx="1.2"/><rect x="168.2" y="157.0" width="5" height="5" rx="1.2"/><rect x="176.4" y="157.3" width="5" height="5" rx="1.2"/><rect x="186.9" y="159.1" width="5" height="5" rx="1.2"/><rect x="194.3" y="157.5" width="5" height="5" rx="1.2"/><rect x="200.9" y="158.2" width="5" height="5" rx="1.2"/><rect x="209.3" y="159.2" width="5" height="5" rx="1.2"/><rect x="224.1" y="159.5" width="5" height="5" rx="1.2"/><rect x="234.6" y="159.4" width="5" height="5" rx="1.2"/><rect x="240.8" y="157.0" width="5" height="5" rx="1.2"/><rect x="250.7" y="157.5" width="5" height="5" rx="1.2"/><rect x="257.8" y="159.0" width="5" height="5" rx="1.2"/><rect x="273.1" y="159.0" width="5" height="5" rx="1.2"/><rect x="280.7" y="157.2" width="5" height="5" rx="1.2"/><rect x="297.1" y="159.2" width="5" height="5" rx="1.2"/><rect x="306.4" y="157.8" width="5" height="5" rx="1.2"/><rect x="313.6" y="157.3" width="5" height="5" rx="1.2"/><rect x="322.4" y="157.9" width="5" height="5" rx="1.2"/><rect x="330.3" y="157.7" width="5" height="5" rx="1.2"/><rect x="336.7" y="158.2" width="5" height="5" rx="1.2"/><rect x="360.7" y="157.1" width="5" height="5" rx="1.2"/><rect x="368.3" y="158.4" width="5" height="5" rx="1.2"/><rect x="376.3" y="157.4" width="5" height="5" rx="1.2"/><rect x="384.5" y="157.7" width="5" height="5" rx="1.2"/><rect x="392.4" y="157.2" width="5" height="5" rx="1.2"/><rect x="401.4" y="159.8" width="5" height="5" rx="1.2"/><rect x="433.6" y="157.7" width="5" height="5" rx="1.2"/><rect x="442.6" y="157.6" width="5" height="5" rx="1.2"/><rect x="448.8" y="159.8" width="5" height="5" rx="1.2"/><rect x="458.2" y="157.2" width="5" height="5" rx="1.2"/><rect x="465.0" y="157.6" width="5" height="5" rx="1.2"/><rect x="481.4" y="157.5" width="5" height="5" rx="1.2"/><rect x="490.0" y="158.5" width="5" height="5" rx="1.2"/><rect x="497.4" y="159.2" width="5" height="5" rx="1.2"/><rect x="504.7" y="158.5" width="5" height="5" rx="1.2"/><rect x="529.1" y="159.7" width="5" height="5" rx="1.2"/><rect x="544.2" y="157.7" width="5" height="5" rx="1.2"/><rect x="553.3" y="157.4" width="5" height="5" rx="1.2"/><rect x="569.2" y="159.0" width="5" height="5" rx="1.2"/><rect x="578.8" y="157.7" width="5" height="5" rx="1.2"/><rect x="585.5" y="159.8" width="5" height="5" rx="1.2"/><rect x="595.0" y="158.9" width="5" height="5" rx="1.2"/><rect x="617.0" y="158.2" width="5" height="5" rx="1.2"/><rect x="626.0" y="157.1" width="5" height="5" rx="1.2"/><rect x="632.5" y="159.5" width="5" height="5" rx="1.2"/><rect x="641.8" y="157.8" width="5" height="5" rx="1.2"/><rect x="649.7" y="159.1" width="5" height="5" rx="1.2"/><rect x="664.4" y="157.4" width="5" height="5" rx="1.2"/><rect x="673.7" y="159.7" width="5" height="5" rx="1.2"/><rect x="680.7" y="157.5" width="5" height="5" rx="1.2"/><rect x="704.8" y="159.8" width="5" height="5" rx="1.2"/><rect x="712.2" y="159.7" width="5" height="5" rx="1.2"/><rect x="720.1" y="157.9" width="5" height="5" rx="1.2"/><rect x="730.9" y="159.6" width="5" height="5" rx="1.2"/><rect x="746.0" y="158.5" width="5" height="5" rx="1.2"/><rect x="752.7" y="159.0" width="5" height="5" rx="1.2"/><rect x="777.7" y="157.5" width="5" height="5" rx="1.2"/><rect x="784.8" y="157.7" width="5" height="5" rx="1.2"/><rect x="793.6" y="159.0" width="5" height="5" rx="1.2"/><rect x="802.2" y="158.9" width="5" height="5" rx="1.2"/><rect x="810.0" y="159.4" width="5" height="5" rx="1.2"/><rect x="817.4" y="159.0" width="5" height="5" rx="1.2"/><rect x="834.4" y="157.7" width="5" height="5" rx="1.2"/><rect x="114.5" y="166.9" width="5" height="5" rx="1.2"/><rect x="122.1" y="167.9" width="5" height="5" rx="1.2"/><rect x="130.3" y="165.9" width="5" height="5" rx="1.2"/><rect x="146.6" y="166.8" width="5" height="5" rx="1.2"/><rect x="160.8" y="165.2" width="5" height="5" rx="1.2"/><rect x="168.5" y="167.1" width="5" height="5" rx="1.2"/><rect x="176.7" y="165.8" width="5" height="5" rx="1.2"/><rect x="187.0" y="165.1" width="5" height="5" rx="1.2"/><rect x="194.8" y="167.9" width="5" height="5" rx="1.2"/><rect x="201.0" y="166.6" width="5" height="5" rx="1.2"/><rect x="209.3" y="166.4" width="5" height="5" rx="1.2"/><rect x="216.2" y="165.3" width="5" height="5" rx="1.2"/><rect x="224.3" y="166.9" width="5" height="5" rx="1.2"/><rect x="241.0" y="166.5" width="5" height="5" rx="1.2"/><rect x="250.8" y="166.7" width="5" height="5" rx="1.2"/><rect x="256.5" y="167.1" width="5" height="5" rx="1.2"/><rect x="274.4" y="165.3" width="5" height="5" rx="1.2"/><rect x="290.4" y="165.7" width="5" height="5" rx="1.2"/><rect x="298.0" y="166.7" width="5" height="5" rx="1.2"/><rect x="304.6" y="166.7" width="5" height="5" rx="1.2"/><rect x="313.9" y="165.7" width="5" height="5" rx="1.2"/><rect x="328.1" y="167.2" width="5" height="5" rx="1.2"/><rect x="336.9" y="166.9" width="5" height="5" rx="1.2"/><rect x="345.8" y="167.7" width="5" height="5" rx="1.2"/><rect x="352.9" y="167.0" width="5" height="5" rx="1.2"/><rect x="378.4" y="165.9" width="5" height="5" rx="1.2"/><rect x="386.2" y="165.2" width="5" height="5" rx="1.2"/><rect x="392.3" y="165.1" width="5" height="5" rx="1.2"/><rect x="409.4" y="165.6" width="5" height="5" rx="1.2"/><rect x="417.5" y="166.6" width="5" height="5" rx="1.2"/><rect x="432.3" y="165.2" width="5" height="5" rx="1.2"/><rect x="441.5" y="165.8" width="5" height="5" rx="1.2"/><rect x="448.7" y="166.0" width="5" height="5" rx="1.2"/><rect x="458.1" y="167.3" width="5" height="5" rx="1.2"/><rect x="473.9" y="165.3" width="5" height="5" rx="1.2"/><rect x="481.9" y="165.8" width="5" height="5" rx="1.2"/><rect x="490.9" y="167.7" width="5" height="5" rx="1.2"/><rect x="497.4" y="166.9" width="5" height="5" rx="1.2"/><rect x="513.3" y="165.3" width="5" height="5" rx="1.2"/><rect x="520.3" y="167.9" width="5" height="5" rx="1.2"/><rect x="528.9" y="167.3" width="5" height="5" rx="1.2"/><rect x="536.3" y="165.2" width="5" height="5" rx="1.2"/><rect x="545.6" y="167.5" width="5" height="5" rx="1.2"/><rect x="552.5" y="167.3" width="5" height="5" rx="1.2"/><rect x="561.0" y="165.4" width="5" height="5" rx="1.2"/><rect x="570.9" y="165.4" width="5" height="5" rx="1.2"/><rect x="585.4" y="167.9" width="5" height="5" rx="1.2"/><rect x="592.9" y="166.4" width="5" height="5" rx="1.2"/><rect x="602.2" y="165.4" width="5" height="5" rx="1.2"/><rect x="617.0" y="165.7" width="5" height="5" rx="1.2"/><rect x="625.4" y="168.0" width="5" height="5" rx="1.2"/><rect x="634.6" y="166.0" width="5" height="5" rx="1.2"/><rect x="642.2" y="166.0" width="5" height="5" rx="1.2"/><rect x="680.8" y="166.1" width="5" height="5" rx="1.2"/><rect x="689.1" y="166.1" width="5" height="5" rx="1.2"/><rect x="696.7" y="167.7" width="5" height="5" rx="1.2"/><rect x="730.4" y="165.8" width="5" height="5" rx="1.2"/><rect x="737.1" y="167.5" width="5" height="5" rx="1.2"/><rect x="770.2" y="167.0" width="5" height="5" rx="1.2"/><rect x="776.1" y="167.6" width="5" height="5" rx="1.2"/><rect x="794.3" y="167.6" width="5" height="5" rx="1.2"/><rect x="801.0" y="165.7" width="5" height="5" rx="1.2"/><rect x="816.7" y="165.2" width="5" height="5" rx="1.2"/><rect x="826.2" y="165.6" width="5" height="5" rx="1.2"/><rect x="131.0" y="174.3" width="5" height="5" rx="1.2"/><rect x="138.1" y="175.8" width="5" height="5" rx="1.2"/><rect x="152.6" y="174.6" width="5" height="5" rx="1.2"/><rect x="176.6" y="175.7" width="5" height="5" rx="1.2"/><rect x="186.3" y="175.6" width="5" height="5" rx="1.2"/><rect x="194.8" y="173.6" width="5" height="5" rx="1.2"/><rect x="217.7" y="173.4" width="5" height="5" rx="1.2"/><rect x="226.4" y="174.3" width="5" height="5" rx="1.2"/><rect x="232.8" y="173.8" width="5" height="5" rx="1.2"/><rect x="241.5" y="174.4" width="5" height="5" rx="1.2"/><rect x="248.0" y="174.0" width="5" height="5" rx="1.2"/><rect x="258.2" y="173.7" width="5" height="5" rx="1.2"/><rect x="265.6" y="173.5" width="5" height="5" rx="1.2"/><rect x="274.7" y="173.6" width="5" height="5" rx="1.2"/><rect x="282.2" y="175.2" width="5" height="5" rx="1.2"/><rect x="305.3" y="173.3" width="5" height="5" rx="1.2"/><rect x="314.4" y="175.0" width="5" height="5" rx="1.2"/><rect x="329.0" y="175.3" width="5" height="5" rx="1.2"/><rect x="336.6" y="173.5" width="5" height="5" rx="1.2"/><rect x="345.9" y="173.9" width="5" height="5" rx="1.2"/><rect x="352.7" y="173.3" width="5" height="5" rx="1.2"/><rect x="360.9" y="174.5" width="5" height="5" rx="1.2"/><rect x="377.5" y="175.8" width="5" height="5" rx="1.2"/><rect x="384.6" y="174.8" width="5" height="5" rx="1.2"/><rect x="392.5" y="173.2" width="5" height="5" rx="1.2"/><rect x="402.9" y="174.2" width="5" height="5" rx="1.2"/><rect x="409.3" y="174.1" width="5" height="5" rx="1.2"/><rect x="434.2" y="174.1" width="5" height="5" rx="1.2"/><rect x="442.8" y="174.2" width="5" height="5" rx="1.2"/><rect x="448.9" y="174.7" width="5" height="5" rx="1.2"/><rect x="458.2" y="175.8" width="5" height="5" rx="1.2"/><rect x="473.8" y="175.0" width="5" height="5" rx="1.2"/><rect x="482.8" y="174.6" width="5" height="5" rx="1.2"/><rect x="498.4" y="173.1" width="5" height="5" rx="1.2"/><rect x="505.4" y="174.5" width="5" height="5" rx="1.2"/><rect x="514.7" y="174.0" width="5" height="5" rx="1.2"/><rect x="522.8" y="174.9" width="5" height="5" rx="1.2"/><rect x="529.0" y="174.2" width="5" height="5" rx="1.2"/><rect x="538.4" y="173.8" width="5" height="5" rx="1.2"/><rect x="553.6" y="173.8" width="5" height="5" rx="1.2"/><rect x="562.5" y="173.5" width="5" height="5" rx="1.2"/><rect x="568.1" y="173.6" width="5" height="5" rx="1.2"/><rect x="578.4" y="173.4" width="5" height="5" rx="1.2"/><rect x="601.7" y="175.8" width="5" height="5" rx="1.2"/><rect x="610.8" y="174.3" width="5" height="5" rx="1.2"/><rect x="618.2" y="175.6" width="5" height="5" rx="1.2"/><rect x="633.8" y="175.9" width="5" height="5" rx="1.2"/><rect x="640.2" y="173.4" width="5" height="5" rx="1.2"/><rect x="650.1" y="174.9" width="5" height="5" rx="1.2"/><rect x="656.5" y="173.5" width="5" height="5" rx="1.2"/><rect x="666.0" y="175.9" width="5" height="5" rx="1.2"/><rect x="674.9" y="174.3" width="5" height="5" rx="1.2"/><rect x="691.0" y="175.1" width="5" height="5" rx="1.2"/><rect x="696.5" y="173.5" width="5" height="5" rx="1.2"/><rect x="706.2" y="173.2" width="5" height="5" rx="1.2"/><rect x="714.0" y="173.1" width="5" height="5" rx="1.2"/><rect x="722.4" y="174.7" width="5" height="5" rx="1.2"/><rect x="730.6" y="174.8" width="5" height="5" rx="1.2"/><rect x="746.7" y="174.7" width="5" height="5" rx="1.2"/><rect x="752.5" y="174.1" width="5" height="5" rx="1.2"/><rect x="777.2" y="175.0" width="5" height="5" rx="1.2"/><rect x="794.9" y="175.8" width="5" height="5" rx="1.2"/><rect x="800.9" y="174.1" width="5" height="5" rx="1.2"/><rect x="818.5" y="176.0" width="5" height="5" rx="1.2"/><rect x="825.0" y="175.3" width="5" height="5" rx="1.2"/><rect x="96.6" y="183.0" width="5" height="5" rx="1.2"/><rect x="115.0" y="182.3" width="5" height="5" rx="1.2"/><rect x="122.4" y="183.3" width="5" height="5" rx="1.2"/><rect x="144.4" y="183.0" width="5" height="5" rx="1.2"/><rect x="160.4" y="182.9" width="5" height="5" rx="1.2"/><rect x="168.7" y="183.4" width="5" height="5" rx="1.2"/><rect x="186.7" y="181.1" width="5" height="5" rx="1.2"/><rect x="201.0" y="183.8" width="5" height="5" rx="1.2"/><rect x="208.4" y="183.4" width="5" height="5" rx="1.2"/><rect x="216.6" y="182.5" width="5" height="5" rx="1.2"/><rect x="224.5" y="183.8" width="5" height="5" rx="1.2"/><rect x="240.7" y="183.7" width="5" height="5" rx="1.2"/><rect x="250.9" y="183.3" width="5" height="5" rx="1.2"/><rect x="257.6" y="183.6" width="5" height="5" rx="1.2"/><rect x="274.0" y="183.2" width="5" height="5" rx="1.2"/><rect x="290.8" y="181.5" width="5" height="5" rx="1.2"/><rect x="297.7" y="182.2" width="5" height="5" rx="1.2"/><rect x="304.4" y="182.4" width="5" height="5" rx="1.2"/><rect x="312.8" y="182.1" width="5" height="5" rx="1.2"/><rect x="322.3" y="182.8" width="5" height="5" rx="1.2"/><rect x="338.9" y="181.4" width="5" height="5" rx="1.2"/><rect x="346.9" y="182.2" width="5" height="5" rx="1.2"/><rect x="352.9" y="181.1" width="5" height="5" rx="1.2"/><rect x="360.4" y="181.9" width="5" height="5" rx="1.2"/><rect x="369.7" y="183.8" width="5" height="5" rx="1.2"/><rect x="377.1" y="183.8" width="5" height="5" rx="1.2"/><rect x="385.6" y="183.6" width="5" height="5" rx="1.2"/><rect x="393.1" y="182.8" width="5" height="5" rx="1.2"/><rect x="408.2" y="181.0" width="5" height="5" rx="1.2"/><rect x="416.6" y="182.5" width="5" height="5" rx="1.2"/><rect x="426.5" y="183.0" width="5" height="5" rx="1.2"/><rect x="434.8" y="184.0" width="5" height="5" rx="1.2"/><rect x="442.1" y="181.0" width="5" height="5" rx="1.2"/><rect x="449.3" y="183.9" width="5" height="5" rx="1.2"/><rect x="457.7" y="181.0" width="5" height="5" rx="1.2"/><rect x="472.0" y="181.6" width="5" height="5" rx="1.2"/><rect x="488.8" y="183.6" width="5" height="5" rx="1.2"/><rect x="497.0" y="183.9" width="5" height="5" rx="1.2"/><rect x="520.8" y="181.4" width="5" height="5" rx="1.2"/><rect x="539.0" y="182.9" width="5" height="5" rx="1.2"/><rect x="544.5" y="183.2" width="5" height="5" rx="1.2"/><rect x="553.1" y="183.7" width="5" height="5" rx="1.2"/><rect x="560.4" y="181.5" width="5" height="5" rx="1.2"/><rect x="569.8" y="183.4" width="5" height="5" rx="1.2"/><rect x="577.5" y="182.7" width="5" height="5" rx="1.2"/><rect x="585.2" y="182.6" width="5" height="5" rx="1.2"/><rect x="592.2" y="182.3" width="5" height="5" rx="1.2"/><rect x="608.7" y="181.3" width="5" height="5" rx="1.2"/><rect x="641.8" y="181.5" width="5" height="5" rx="1.2"/><rect x="648.2" y="182.0" width="5" height="5" rx="1.2"/><rect x="657.9" y="182.3" width="5" height="5" rx="1.2"/><rect x="665.5" y="183.8" width="5" height="5" rx="1.2"/><rect x="672.5" y="181.9" width="5" height="5" rx="1.2"/><rect x="682.7" y="183.1" width="5" height="5" rx="1.2"/><rect x="688.5" y="181.1" width="5" height="5" rx="1.2"/><rect x="698.5" y="182.9" width="5" height="5" rx="1.2"/><rect x="705.9" y="181.2" width="5" height="5" rx="1.2"/><rect x="722.2" y="182.5" width="5" height="5" rx="1.2"/><rect x="730.0" y="182.3" width="5" height="5" rx="1.2"/><rect x="736.3" y="183.7" width="5" height="5" rx="1.2"/><rect x="744.7" y="182.2" width="5" height="5" rx="1.2"/><rect x="761.0" y="181.8" width="5" height="5" rx="1.2"/><rect x="768.7" y="182.2" width="5" height="5" rx="1.2"/><rect x="777.3" y="181.5" width="5" height="5" rx="1.2"/><rect x="792.3" y="182.5" width="5" height="5" rx="1.2"/><rect x="800.6" y="183.0" width="5" height="5" rx="1.2"/><rect x="818.4" y="182.4" width="5" height="5" rx="1.2"/><rect x="74.6" y="190.9" width="5" height="5" rx="1.2"/><rect x="82.6" y="191.2" width="5" height="5" rx="1.2"/><rect x="89.1" y="191.0" width="5" height="5" rx="1.2"/><rect x="114.4" y="191.6" width="5" height="5" rx="1.2"/><rect x="129.7" y="189.6" width="5" height="5" rx="1.2"/><rect x="137.4" y="190.0" width="5" height="5" rx="1.2"/><rect x="145.5" y="190.8" width="5" height="5" rx="1.2"/><rect x="152.8" y="190.5" width="5" height="5" rx="1.2"/><rect x="161.3" y="191.0" width="5" height="5" rx="1.2"/><rect x="178.1" y="191.3" width="5" height="5" rx="1.2"/><rect x="184.7" y="191.8" width="5" height="5" rx="1.2"/><rect x="193.1" y="189.9" width="5" height="5" rx="1.2"/><rect x="202.1" y="191.5" width="5" height="5" rx="1.2"/><rect x="210.2" y="189.6" width="5" height="5" rx="1.2"/><rect x="217.1" y="189.9" width="5" height="5" rx="1.2"/><rect x="226.3" y="191.2" width="5" height="5" rx="1.2"/><rect x="232.7" y="191.4" width="5" height="5" rx="1.2"/><rect x="242.0" y="190.9" width="5" height="5" rx="1.2"/><rect x="248.8" y="189.2" width="5" height="5" rx="1.2"/><rect x="256.1" y="191.9" width="5" height="5" rx="1.2"/><rect x="272.7" y="190.0" width="5" height="5" rx="1.2"/><rect x="282.4" y="191.2" width="5" height="5" rx="1.2"/><rect x="289.1" y="189.8" width="5" height="5" rx="1.2"/><rect x="306.6" y="190.3" width="5" height="5" rx="1.2"/><rect x="312.9" y="191.9" width="5" height="5" rx="1.2"/><rect x="338.7" y="190.3" width="5" height="5" rx="1.2"/><rect x="346.3" y="190.1" width="5" height="5" rx="1.2"/><rect x="354.7" y="190.3" width="5" height="5" rx="1.2"/><rect x="361.8" y="189.8" width="5" height="5" rx="1.2"/><rect x="369.2" y="190.1" width="5" height="5" rx="1.2"/><rect x="377.1" y="191.3" width="5" height="5" rx="1.2"/><rect x="386.0" y="190.9" width="5" height="5" rx="1.2"/><rect x="392.1" y="191.0" width="5" height="5" rx="1.2"/><rect x="410.7" y="189.7" width="5" height="5" rx="1.2"/><rect x="417.7" y="190.0" width="5" height="5" rx="1.2"/><rect x="425.0" y="190.9" width="5" height="5" rx="1.2"/><rect x="433.5" y="189.4" width="5" height="5" rx="1.2"/><rect x="440.9" y="190.2" width="5" height="5" rx="1.2"/><rect x="456.7" y="191.6" width="5" height="5" rx="1.2"/><rect x="465.8" y="190.1" width="5" height="5" rx="1.2"/><rect x="474.4" y="191.4" width="5" height="5" rx="1.2"/><rect x="488.2" y="190.1" width="5" height="5" rx="1.2"/><rect x="521.3" y="192.0" width="5" height="5" rx="1.2"/><rect x="529.4" y="189.6" width="5" height="5" rx="1.2"/><rect x="536.3" y="189.3" width="5" height="5" rx="1.2"/><rect x="545.3" y="190.5" width="5" height="5" rx="1.2"/><rect x="560.5" y="190.5" width="5" height="5" rx="1.2"/><rect x="569.1" y="191.6" width="5" height="5" rx="1.2"/><rect x="578.6" y="190.1" width="5" height="5" rx="1.2"/><rect x="585.8" y="190.7" width="5" height="5" rx="1.2"/><rect x="592.3" y="191.9" width="5" height="5" rx="1.2"/><rect x="600.3" y="191.0" width="5" height="5" rx="1.2"/><rect x="625.1" y="190.2" width="5" height="5" rx="1.2"/><rect x="634.0" y="191.0" width="5" height="5" rx="1.2"/><rect x="649.4" y="191.5" width="5" height="5" rx="1.2"/><rect x="658.2" y="189.1" width="5" height="5" rx="1.2"/><rect x="666.9" y="191.0" width="5" height="5" rx="1.2"/><rect x="673.5" y="190.4" width="5" height="5" rx="1.2"/><rect x="680.5" y="190.9" width="5" height="5" rx="1.2"/><rect x="688.8" y="190.9" width="5" height="5" rx="1.2"/><rect x="697.8" y="189.5" width="5" height="5" rx="1.2"/><rect x="704.9" y="190.7" width="5" height="5" rx="1.2"/><rect x="713.5" y="190.8" width="5" height="5" rx="1.2"/><rect x="720.9" y="191.0" width="5" height="5" rx="1.2"/><rect x="729.9" y="191.3" width="5" height="5" rx="1.2"/><rect x="745.7" y="191.3" width="5" height="5" rx="1.2"/><rect x="762.0" y="189.3" width="5" height="5" rx="1.2"/><rect x="784.5" y="191.5" width="5" height="5" rx="1.2"/><rect x="792.0" y="191.7" width="5" height="5" rx="1.2"/><rect x="802.5" y="191.1" width="5" height="5" rx="1.2"/><rect x="817.0" y="189.1" width="5" height="5" rx="1.2"/><rect x="96.7" y="199.1" width="5" height="5" rx="1.2"/><rect x="113.1" y="198.5" width="5" height="5" rx="1.2"/><rect x="130.6" y="198.1" width="5" height="5" rx="1.2"/><rect x="137.0" y="199.2" width="5" height="5" rx="1.2"/><rect x="145.2" y="198.6" width="5" height="5" rx="1.2"/><rect x="154.8" y="198.4" width="5" height="5" rx="1.2"/><rect x="169.1" y="199.4" width="5" height="5" rx="1.2"/><rect x="176.8" y="198.9" width="5" height="5" rx="1.2"/><rect x="185.1" y="198.7" width="5" height="5" rx="1.2"/><rect x="200.8" y="199.5" width="5" height="5" rx="1.2"/><rect x="209.8" y="198.9" width="5" height="5" rx="1.2"/><rect x="240.6" y="197.3" width="5" height="5" rx="1.2"/><rect x="249.5" y="197.4" width="5" height="5" rx="1.2"/><rect x="258.6" y="198.2" width="5" height="5" rx="1.2"/><rect x="264.5" y="198.7" width="5" height="5" rx="1.2"/><rect x="273.4" y="198.6" width="5" height="5" rx="1.2"/><rect x="281.5" y="199.5" width="5" height="5" rx="1.2"/><rect x="290.8" y="197.6" width="5" height="5" rx="1.2"/><rect x="298.3" y="198.7" width="5" height="5" rx="1.2"/><rect x="304.7" y="199.3" width="5" height="5" rx="1.2"/><rect x="314.2" y="197.7" width="5" height="5" rx="1.2"/><rect x="321.9" y="198.1" width="5" height="5" rx="1.2"/><rect x="328.2" y="198.9" width="5" height="5" rx="1.2"/><rect x="352.2" y="197.7" width="5" height="5" rx="1.2"/><rect x="360.8" y="197.3" width="5" height="5" rx="1.2"/><rect x="368.8" y="197.9" width="5" height="5" rx="1.2"/><rect x="384.3" y="197.7" width="5" height="5" rx="1.2"/><rect x="393.0" y="197.3" width="5" height="5" rx="1.2"/><rect x="402.3" y="200.0" width="5" height="5" rx="1.2"/><rect x="408.1" y="199.3" width="5" height="5" rx="1.2"/><rect x="418.8" y="198.2" width="5" height="5" rx="1.2"/><rect x="424.2" y="199.8" width="5" height="5" rx="1.2"/><rect x="442.5" y="198.4" width="5" height="5" rx="1.2"/><rect x="449.2" y="199.7" width="5" height="5" rx="1.2"/><rect x="458.0" y="198.7" width="5" height="5" rx="1.2"/><rect x="465.7" y="197.7" width="5" height="5" rx="1.2"/><rect x="474.6" y="197.2" width="5" height="5" rx="1.2"/><rect x="482.6" y="199.9" width="5" height="5" rx="1.2"/><rect x="497.4" y="197.4" width="5" height="5" rx="1.2"/><rect x="506.1" y="199.2" width="5" height="5" rx="1.2"/><rect x="513.9" y="199.0" width="5" height="5" rx="1.2"/><rect x="520.1" y="198.3" width="5" height="5" rx="1.2"/><rect x="529.8" y="198.0" width="5" height="5" rx="1.2"/><rect x="552.3" y="199.2" width="5" height="5" rx="1.2"/><rect x="569.1" y="197.5" width="5" height="5" rx="1.2"/><rect x="577.5" y="198.2" width="5" height="5" rx="1.2"/><rect x="593.1" y="198.3" width="5" height="5" rx="1.2"/><rect x="602.9" y="198.0" width="5" height="5" rx="1.2"/><rect x="616.8" y="197.3" width="5" height="5" rx="1.2"/><rect x="625.3" y="199.6" width="5" height="5" rx="1.2"/><rect x="633.3" y="199.3" width="5" height="5" rx="1.2"/><rect x="640.5" y="198.6" width="5" height="5" rx="1.2"/><rect x="650.8" y="199.7" width="5" height="5" rx="1.2"/><rect x="657.7" y="198.2" width="5" height="5" rx="1.2"/><rect x="665.3" y="199.7" width="5" height="5" rx="1.2"/><rect x="673.8" y="199.1" width="5" height="5" rx="1.2"/><rect x="682.8" y="197.3" width="5" height="5" rx="1.2"/><rect x="690.1" y="197.1" width="5" height="5" rx="1.2"/><rect x="696.4" y="198.4" width="5" height="5" rx="1.2"/><rect x="704.5" y="197.7" width="5" height="5" rx="1.2"/><rect x="712.3" y="197.6" width="5" height="5" rx="1.2"/><rect x="720.4" y="199.5" width="5" height="5" rx="1.2"/><rect x="736.1" y="199.2" width="5" height="5" rx="1.2"/><rect x="746.8" y="198.2" width="5" height="5" rx="1.2"/><rect x="754.6" y="197.3" width="5" height="5" rx="1.2"/><rect x="768.8" y="198.5" width="5" height="5" rx="1.2"/><rect x="777.3" y="197.8" width="5" height="5" rx="1.2"/><rect x="784.9" y="197.8" width="5" height="5" rx="1.2"/><rect x="792.3" y="199.4" width="5" height="5" rx="1.2"/><rect x="800.7" y="197.3" width="5" height="5" rx="1.2"/><rect x="809.5" y="199.2" width="5" height="5" rx="1.2"/><rect x="200.9" y="205.8" width="5" height="5" rx="1.2"/><rect x="208.0" y="206.3" width="5" height="5" rx="1.2"/><rect x="216.0" y="207.6" width="5" height="5" rx="1.2"/><rect x="224.0" y="207.9" width="5" height="5" rx="1.2"/><rect x="232.8" y="205.1" width="5" height="5" rx="1.2"/><rect x="242.1" y="206.7" width="5" height="5" rx="1.2"/><rect x="264.4" y="207.5" width="5" height="5" rx="1.2"/><rect x="274.1" y="207.4" width="5" height="5" rx="1.2"/><rect x="281.6" y="207.4" width="5" height="5" rx="1.2"/><rect x="289.6" y="205.8" width="5" height="5" rx="1.2"/><rect x="296.6" y="207.1" width="5" height="5" rx="1.2"/><rect x="306.3" y="206.9" width="5" height="5" rx="1.2"/><rect x="314.8" y="207.4" width="5" height="5" rx="1.2"/><rect x="321.0" y="207.8" width="5" height="5" rx="1.2"/><rect x="328.3" y="206.0" width="5" height="5" rx="1.2"/><rect x="338.8" y="206.9" width="5" height="5" rx="1.2"/><rect x="346.8" y="207.3" width="5" height="5" rx="1.2"/><rect x="353.4" y="207.3" width="5" height="5" rx="1.2"/><rect x="376.4" y="205.4" width="5" height="5" rx="1.2"/><rect x="393.3" y="207.4" width="5" height="5" rx="1.2"/><rect x="400.5" y="207.9" width="5" height="5" rx="1.2"/><rect x="408.2" y="206.4" width="5" height="5" rx="1.2"/><rect x="433.8" y="205.7" width="5" height="5" rx="1.2"/><rect x="441.5" y="206.2" width="5" height="5" rx="1.2"/><rect x="449.5" y="206.0" width="5" height="5" rx="1.2"/><rect x="459.0" y="205.6" width="5" height="5" rx="1.2"/><rect x="464.0" y="205.3" width="5" height="5" rx="1.2"/><rect x="473.3" y="207.5" width="5" height="5" rx="1.2"/><rect x="482.9" y="207.5" width="5" height="5" rx="1.2"/><rect x="489.7" y="205.0" width="5" height="5" rx="1.2"/><rect x="496.8" y="206.9" width="5" height="5" rx="1.2"/><rect x="505.6" y="206.1" width="5" height="5" rx="1.2"/><rect x="522.4" y="206.8" width="5" height="5" rx="1.2"/><rect x="554.5" y="207.7" width="5" height="5" rx="1.2"/><rect x="561.7" y="206.1" width="5" height="5" rx="1.2"/><rect x="570.3" y="206.8" width="5" height="5" rx="1.2"/><rect x="577.6" y="207.8" width="5" height="5" rx="1.2"/><rect x="592.1" y="206.4" width="5" height="5" rx="1.2"/><rect x="602.2" y="207.9" width="5" height="5" rx="1.2"/><rect x="609.4" y="206.9" width="5" height="5" rx="1.2"/><rect x="618.1" y="207.8" width="5" height="5" rx="1.2"/><rect x="625.0" y="207.6" width="5" height="5" rx="1.2"/><rect x="634.4" y="205.1" width="5" height="5" rx="1.2"/><rect x="642.4" y="205.7" width="5" height="5" rx="1.2"/><rect x="648.7" y="207.1" width="5" height="5" rx="1.2"/><rect x="657.8" y="206.0" width="5" height="5" rx="1.2"/><rect x="672.7" y="206.5" width="5" height="5" rx="1.2"/><rect x="681.0" y="207.4" width="5" height="5" rx="1.2"/><rect x="696.1" y="205.8" width="5" height="5" rx="1.2"/><rect x="720.2" y="206.0" width="5" height="5" rx="1.2"/><rect x="728.4" y="205.9" width="5" height="5" rx="1.2"/><rect x="762.4" y="205.7" width="5" height="5" rx="1.2"/><rect x="770.6" y="207.5" width="5" height="5" rx="1.2"/><rect x="778.3" y="207.3" width="5" height="5" rx="1.2"/><rect x="786.5" y="208.0" width="5" height="5" rx="1.2"/><rect x="794.5" y="207.8" width="5" height="5" rx="1.2"/><rect x="809.7" y="205.8" width="5" height="5" rx="1.2"/><rect x="281.1" y="214.2" width="5" height="5" rx="1.2"/><rect x="297.1" y="213.3" width="5" height="5" rx="1.2"/><rect x="305.6" y="214.7" width="5" height="5" rx="1.2"/><rect x="314.9" y="214.2" width="5" height="5" rx="1.2"/><rect x="329.8" y="214.6" width="5" height="5" rx="1.2"/><rect x="336.8" y="213.9" width="5" height="5" rx="1.2"/><rect x="345.3" y="215.9" width="5" height="5" rx="1.2"/><rect x="352.6" y="213.2" width="5" height="5" rx="1.2"/><rect x="368.7" y="215.3" width="5" height="5" rx="1.2"/><rect x="377.6" y="214.6" width="5" height="5" rx="1.2"/><rect x="384.2" y="215.0" width="5" height="5" rx="1.2"/><rect x="400.9" y="213.2" width="5" height="5" rx="1.2"/><rect x="410.0" y="213.7" width="5" height="5" rx="1.2"/><rect x="425.9" y="213.8" width="5" height="5" rx="1.2"/><rect x="432.7" y="213.6" width="5" height="5" rx="1.2"/><rect x="442.4" y="214.4" width="5" height="5" rx="1.2"/><rect x="449.0" y="215.4" width="5" height="5" rx="1.2"/><rect x="458.0" y="214.2" width="5" height="5" rx="1.2"/><rect x="464.6" y="215.9" width="5" height="5" rx="1.2"/><rect x="473.6" y="214.9" width="5" height="5" rx="1.2"/><rect x="498.3" y="215.2" width="5" height="5" rx="1.2"/><rect x="504.7" y="215.1" width="5" height="5" rx="1.2"/><rect x="529.1" y="216.0" width="5" height="5" rx="1.2"/><rect x="538.6" y="213.1" width="5" height="5" rx="1.2"/><rect x="545.2" y="215.3" width="5" height="5" rx="1.2"/><rect x="552.6" y="215.4" width="5" height="5" rx="1.2"/><rect x="562.3" y="214.5" width="5" height="5" rx="1.2"/><rect x="570.3" y="213.7" width="5" height="5" rx="1.2"/><rect x="576.0" y="213.8" width="5" height="5" rx="1.2"/><rect x="586.3" y="214.9" width="5" height="5" rx="1.2"/><rect x="594.2" y="215.0" width="5" height="5" rx="1.2"/><rect x="608.6" y="213.9" width="5" height="5" rx="1.2"/><rect x="632.4" y="215.3" width="5" height="5" rx="1.2"/><rect x="640.3" y="213.8" width="5" height="5" rx="1.2"/><rect x="656.9" y="215.2" width="5" height="5" rx="1.2"/><rect x="674.9" y="213.0" width="5" height="5" rx="1.2"/><rect x="681.0" y="213.6" width="5" height="5" rx="1.2"/><rect x="704.8" y="213.6" width="5" height="5" rx="1.2"/><rect x="713.1" y="213.4" width="5" height="5" rx="1.2"/><rect x="720.8" y="214.7" width="5" height="5" rx="1.2"/><rect x="746.4" y="214.7" width="5" height="5" rx="1.2"/><rect x="770.7" y="213.1" width="5" height="5" rx="1.2"/><rect x="785.1" y="214.5" width="5" height="5" rx="1.2"/><rect x="792.6" y="214.9" width="5" height="5" rx="1.2"/><rect x="802.9" y="213.6" width="5" height="5" rx="1.2"/><rect x="808.1" y="213.8" width="5" height="5" rx="1.2"/><rect x="384.4" y="222.3" width="5" height="5" rx="1.2"/><rect x="393.3" y="222.7" width="5" height="5" rx="1.2"/><rect x="401.2" y="222.3" width="5" height="5" rx="1.2"/><rect x="410.9" y="221.3" width="5" height="5" rx="1.2"/><rect x="418.2" y="222.2" width="5" height="5" rx="1.2"/><rect x="425.8" y="222.1" width="5" height="5" rx="1.2"/><rect x="440.9" y="222.4" width="5" height="5" rx="1.2"/><rect x="456.7" y="221.8" width="5" height="5" rx="1.2"/><rect x="466.4" y="222.4" width="5" height="5" rx="1.2"/><rect x="482.6" y="221.3" width="5" height="5" rx="1.2"/><rect x="491.0" y="223.1" width="5" height="5" rx="1.2"/><rect x="504.2" y="223.4" width="5" height="5" rx="1.2"/><rect x="521.8" y="221.3" width="5" height="5" rx="1.2"/><rect x="538.2" y="221.4" width="5" height="5" rx="1.2"/><rect x="545.0" y="222.7" width="5" height="5" rx="1.2"/><rect x="553.3" y="223.4" width="5" height="5" rx="1.2"/><rect x="570.9" y="222.0" width="5" height="5" rx="1.2"/><rect x="576.3" y="222.2" width="5" height="5" rx="1.2"/><rect x="585.9" y="222.0" width="5" height="5" rx="1.2"/><rect x="592.4" y="222.7" width="5" height="5" rx="1.2"/><rect x="609.5" y="221.8" width="5" height="5" rx="1.2"/><rect x="616.8" y="223.3" width="5" height="5" rx="1.2"/><rect x="632.5" y="221.6" width="5" height="5" rx="1.2"/><rect x="640.6" y="222.0" width="5" height="5" rx="1.2"/><rect x="650.3" y="222.2" width="5" height="5" rx="1.2"/><rect x="665.3" y="223.8" width="5" height="5" rx="1.2"/><rect x="674.9" y="222.6" width="5" height="5" rx="1.2"/><rect x="681.1" y="221.8" width="5" height="5" rx="1.2"/><rect x="690.7" y="222.1" width="5" height="5" rx="1.2"/><rect x="697.4" y="222.6" width="5" height="5" rx="1.2"/><rect x="704.5" y="222.0" width="5" height="5" rx="1.2"/><rect x="713.6" y="221.0" width="5" height="5" rx="1.2"/><rect x="721.3" y="221.2" width="5" height="5" rx="1.2"/><rect x="728.6" y="223.5" width="5" height="5" rx="1.2"/><rect x="737.0" y="221.7" width="5" height="5" rx="1.2"/><rect x="762.0" y="221.3" width="5" height="5" rx="1.2"/><rect x="768.5" y="221.8" width="5" height="5" rx="1.2"/><rect x="778.5" y="222.8" width="5" height="5" rx="1.2"/><rect x="800.8" y="223.5" width="5" height="5" rx="1.2"/><rect x="496.2" y="229.4" width="5" height="5" rx="1.2"/><rect x="514.5" y="231.9" width="5" height="5" rx="1.2"/><rect x="520.7" y="229.1" width="5" height="5" rx="1.2"/><rect x="528.2" y="230.6" width="5" height="5" rx="1.2"/><rect x="538.0" y="230.7" width="5" height="5" rx="1.2"/><rect x="544.9" y="231.2" width="5" height="5" rx="1.2"/><rect x="554.1" y="230.4" width="5" height="5" rx="1.2"/><rect x="560.9" y="229.1" width="5" height="5" rx="1.2"/><rect x="585.5" y="229.5" width="5" height="5" rx="1.2"/><rect x="594.2" y="232.0" width="5" height="5" rx="1.2"/><rect x="600.0" y="230.1" width="5" height="5" rx="1.2"/><rect x="617.0" y="231.7" width="5" height="5" rx="1.2"/><rect x="633.8" y="231.5" width="5" height="5" rx="1.2"/><rect x="650.8" y="229.3" width="5" height="5" rx="1.2"/><rect x="672.8" y="230.7" width="5" height="5" rx="1.2"/><rect x="704.8" y="230.1" width="5" height="5" rx="1.2"/><rect x="712.7" y="231.1" width="5" height="5" rx="1.2"/><rect x="720.3" y="231.8" width="5" height="5" rx="1.2"/><rect x="730.1" y="230.0" width="5" height="5" rx="1.2"/><rect x="754.8" y="230.6" width="5" height="5" rx="1.2"/><rect x="770.0" y="231.5" width="5" height="5" rx="1.2"/><rect x="777.7" y="231.5" width="5" height="5" rx="1.2"/><rect x="786.6" y="229.1" width="5" height="5" rx="1.2"/><rect x="801.3" y="229.6" width="5" height="5" rx="1.2"/><rect x="578.4" y="237.4" width="5" height="5" rx="1.2"/><rect x="592.1" y="238.5" width="5" height="5" rx="1.2"/><rect x="600.8" y="238.1" width="5" height="5" rx="1.2"/><rect x="608.0" y="237.8" width="5" height="5" rx="1.2"/><rect x="617.0" y="238.2" width="5" height="5" rx="1.2"/><rect x="634.2" y="238.5" width="5" height="5" rx="1.2"/><rect x="640.7" y="239.7" width="5" height="5" rx="1.2"/><rect x="656.4" y="238.5" width="5" height="5" rx="1.2"/><rect x="664.4" y="238.0" width="5" height="5" rx="1.2"/><rect x="674.0" y="238.9" width="5" height="5" rx="1.2"/><rect x="681.1" y="237.2" width="5" height="5" rx="1.2"/><rect x="696.2" y="239.3" width="5" height="5" rx="1.2"/><rect x="714.5" y="239.5" width="5" height="5" rx="1.2"/><rect x="722.8" y="237.8" width="5" height="5" rx="1.2"/><rect x="730.0" y="237.7" width="5" height="5" rx="1.2"/><rect x="736.3" y="239.4" width="5" height="5" rx="1.2"/><rect x="744.4" y="237.8" width="5" height="5" rx="1.2"/><rect x="762.3" y="237.6" width="5" height="5" rx="1.2"/><rect x="768.5" y="237.7" width="5" height="5" rx="1.2"/><rect x="786.0" y="237.3" width="5" height="5" rx="1.2"/><rect x="793.8" y="238.6" width="5" height="5" rx="1.2"/><rect x="672.9" y="245.8" width="5" height="5" rx="1.2"/><rect x="689.5" y="246.1" width="5" height="5" rx="1.2"/><rect x="704.7" y="245.2" width="5" height="5" rx="1.2"/><rect x="712.1" y="247.6" width="5" height="5" rx="1.2"/><rect x="721.0" y="246.3" width="5" height="5" rx="1.2"/><rect x="738.0" y="246.8" width="5" height="5" rx="1.2"/><rect x="744.7" y="245.8" width="5" height="5" rx="1.2"/><rect x="761.7" y="247.8" width="5" height="5" rx="1.2"/><rect x="769.6" y="245.8" width="5" height="5" rx="1.2"/><rect x="778.8" y="246.5" width="5" height="5" rx="1.2"/><rect x="785.1" y="245.6" width="5" height="5" rx="1.2"/><rect x="785.3" y="254.3" width="5" height="5" rx="1.2"/></g>
<g filter="url(#blur07)"><circle cx="88" cy="211" r="2.3" fill="#5c5c5c"/><circle cx="102" cy="206" r="2.3" fill="#5c5c5c"/><circle cx="109" cy="206" r="1.6" fill="#8a8a8a"/><circle cx="113" cy="207" r="2.3" fill="#5c5c5c"/><circle cx="89" cy="218" r="2.3" fill="#5c5c5c"/><circle cx="156" cy="215" r="2.3" fill="#5c5c5c"/><circle cx="159" cy="216" r="2.3" fill="#5c5c5c"/><circle cx="176" cy="215" r="2.3" fill="#5c5c5c"/><circle cx="204" cy="218" r="2.3" fill="#5c5c5c"/><circle cx="68" cy="225" r="2.3" fill="#5c5c5c"/><circle cx="90" cy="222" r="2.3" fill="#5c5c5c"/><circle cx="99" cy="225" r="2.3" fill="#5c5c5c"/><circle cx="127" cy="224" r="2.3" fill="#5c5c5c"/><circle cx="152" cy="226" r="2.3" fill="#5c5c5c"/><circle cx="207" cy="222" r="2.3" fill="#5c5c5c"/><circle cx="230" cy="226" r="2.3" fill="#5c5c5c"/><circle cx="243" cy="224" r="2.3" fill="#5c5c5c"/><circle cx="250" cy="225" r="1.6" fill="#8a8a8a"/><circle cx="260" cy="226" r="2.3" fill="#5c5c5c"/><circle cx="311" cy="226" r="2.3" fill="#5c5c5c"/><circle cx="321" cy="224" r="1.6" fill="#8a8a8a"/><circle cx="77" cy="232" r="2.3" fill="#5c5c5c"/><circle cx="90" cy="230" r="2.3" fill="#5c5c5c"/><circle cx="99" cy="235" r="2.3" fill="#5c5c5c"/><circle cx="140" cy="230" r="2.3" fill="#5c5c5c"/><circle cx="160" cy="232" r="2.3" fill="#5c5c5c"/><circle cx="172" cy="232" r="2.3" fill="#5c5c5c"/><circle cx="182" cy="229" r="2.3" fill="#5c5c5c"/><circle cx="188" cy="235" r="2.3" fill="#5c5c5c"/><circle cx="239" cy="231" r="2.3" fill="#5c5c5c"/><circle cx="283" cy="232" r="2.3" fill="#5c5c5c"/><circle cx="316" cy="231" r="2.3" fill="#5c5c5c"/><circle cx="342" cy="230" r="2.3" fill="#5c5c5c"/><circle cx="352" cy="232" r="2.3" fill="#5c5c5c"/><circle cx="79" cy="242" r="2.3" fill="#5c5c5c"/><circle cx="109" cy="241" r="2.3" fill="#5c5c5c"/><circle cx="114" cy="243" r="2.3" fill="#5c5c5c"/><circle cx="138" cy="238" r="2.3" fill="#5c5c5c"/><circle cx="155" cy="237" r="2.3" fill="#5c5c5c"/><circle cx="158" cy="239" r="2.3" fill="#5c5c5c"/><circle cx="203" cy="241" r="2.3" fill="#5c5c5c"/><circle cx="217" cy="242" r="1.6" fill="#8a8a8a"/><circle cx="283" cy="240" r="1.6" fill="#8a8a8a"/><circle cx="300" cy="239" r="1.6" fill="#8a8a8a"/><circle cx="364" cy="240" r="1.6" fill="#8a8a8a"/><circle cx="450" cy="243" r="1.6" fill="#8a8a8a"/><circle cx="70" cy="245" r="2.3" fill="#5c5c5c"/><circle cx="115" cy="247" r="2.3" fill="#5c5c5c"/><circle cx="124" cy="250" r="2.3" fill="#5c5c5c"/><circle cx="140" cy="248" r="2.3" fill="#5c5c5c"/><circle cx="153" cy="249" r="2.3" fill="#5c5c5c"/><circle cx="213" cy="249" r="2.3" fill="#5c5c5c"/><circle cx="271" cy="250" r="2.3" fill="#5c5c5c"/><circle cx="278" cy="248" r="1.6" fill="#8a8a8a"/><circle cx="289" cy="248" r="2.3" fill="#5c5c5c"/><circle cx="306" cy="250" r="2.3" fill="#5c5c5c"/><circle cx="319" cy="246" r="2.3" fill="#5c5c5c"/><circle cx="332" cy="248" r="1.6" fill="#8a8a8a"/><circle cx="341" cy="247" r="2.3" fill="#5c5c5c"/><circle cx="403" cy="247" r="2.3" fill="#5c5c5c"/><circle cx="439" cy="251" r="1.6" fill="#8a8a8a"/><circle cx="478" cy="249" r="1.6" fill="#8a8a8a"/><circle cx="491" cy="248" r="2.3" fill="#5c5c5c"/><circle cx="524" cy="250" r="1.6" fill="#8a8a8a"/><circle cx="552" cy="249" r="2.3" fill="#5c5c5c"/><circle cx="71" cy="257" r="2.3" fill="#5c5c5c"/><circle cx="88" cy="258" r="2.3" fill="#5c5c5c"/><circle cx="98" cy="256" r="1.6" fill="#8a8a8a"/><circle cx="116" cy="253" r="2.3" fill="#5c5c5c"/><circle cx="128" cy="258" r="2.3" fill="#5c5c5c"/><circle cx="133" cy="253" r="2.3" fill="#5c5c5c"/><circle cx="156" cy="256" r="2.3" fill="#5c5c5c"/><circle cx="158" cy="257" r="2.3" fill="#5c5c5c"/><circle cx="173" cy="253" r="2.3" fill="#5c5c5c"/><circle cx="199" cy="257" r="2.3" fill="#5c5c5c"/><circle cx="206" cy="258" r="2.3" fill="#5c5c5c"/><circle cx="214" cy="257" r="1.6" fill="#8a8a8a"/><circle cx="230" cy="257" r="2.3" fill="#5c5c5c"/><circle cx="267" cy="258" r="2.3" fill="#5c5c5c"/><circle cx="305" cy="254" r="2.3" fill="#5c5c5c"/><circle cx="329" cy="255" r="2.3" fill="#5c5c5c"/><circle cx="338" cy="258" r="2.3" fill="#5c5c5c"/><circle cx="377" cy="258" r="2.3" fill="#5c5c5c"/><circle cx="406" cy="258" r="2.3" fill="#5c5c5c"/><circle cx="409" cy="259" r="2.3" fill="#5c5c5c"/><circle cx="425" cy="255" r="2.3" fill="#5c5c5c"/><circle cx="427" cy="256" r="1.6" fill="#8a8a8a"/><circle cx="466" cy="257" r="1.6" fill="#8a8a8a"/><circle cx="485" cy="255" r="2.3" fill="#5c5c5c"/><circle cx="515" cy="255" r="2.3" fill="#5c5c5c"/><circle cx="578" cy="255" r="2.3" fill="#5c5c5c"/><circle cx="616" cy="258" r="2.3" fill="#5c5c5c"/><circle cx="644" cy="259" r="2.3" fill="#5c5c5c"/><circle cx="685" cy="256" r="2.3" fill="#5c5c5c"/><circle cx="99" cy="265" r="2.3" fill="#5c5c5c"/><circle cx="118" cy="264" r="2.3" fill="#5c5c5c"/><circle cx="144" cy="264" r="1.6" fill="#8a8a8a"/><circle cx="178" cy="262" r="2.3" fill="#5c5c5c"/><circle cx="191" cy="264" r="1.6" fill="#8a8a8a"/><circle cx="194" cy="261" r="1.6" fill="#8a8a8a"/><circle cx="222" cy="262" r="2.3" fill="#5c5c5c"/><circle cx="244" cy="266" r="1.6" fill="#8a8a8a"/><circle cx="269" cy="264" r="2.3" fill="#5c5c5c"/><circle cx="279" cy="266" r="1.6" fill="#8a8a8a"/><circle cx="286" cy="266" r="2.3" fill="#5c5c5c"/><circle cx="301" cy="265" r="2.3" fill="#5c5c5c"/><circle cx="362" cy="262" r="2.3" fill="#5c5c5c"/><circle cx="382" cy="264" r="2.3" fill="#5c5c5c"/><circle cx="444" cy="264" r="2.3" fill="#5c5c5c"/><circle cx="456" cy="267" r="2.3" fill="#5c5c5c"/><circle cx="465" cy="266" r="2.3" fill="#5c5c5c"/><circle cx="510" cy="263" r="2.3" fill="#5c5c5c"/><circle cx="604" cy="261" r="2.3" fill="#5c5c5c"/><circle cx="726" cy="265" r="2.3" fill="#5c5c5c"/><circle cx="789" cy="265" r="2.3" fill="#5c5c5c"/><circle cx="76" cy="274" r="2.3" fill="#505050"/><circle cx="87" cy="275" r="2.3" fill="#505050"/><circle cx="98" cy="270" r="2.3" fill="#5c5c5c"/><circle cx="114" cy="269" r="2.3" fill="#5c5c5c"/><circle cx="126" cy="272" r="2.3" fill="#5c5c5c"/><circle cx="140" cy="274" r="2.3" fill="#5c5c5c"/><circle cx="154" cy="274" r="2.3" fill="#5c5c5c"/><circle cx="161" cy="270" r="2.3" fill="#5c5c5c"/><circle cx="185" cy="274" r="2.3" fill="#5c5c5c"/><circle cx="214" cy="272" r="2.3" fill="#5c5c5c"/><circle cx="222" cy="274" r="2.3" fill="#5c5c5c"/><circle cx="241" cy="274" r="2.3" fill="#5c5c5c"/><circle cx="279" cy="271" r="2.3" fill="#5c5c5c"/><circle cx="289" cy="272" r="2.3" fill="#5c5c5c"/><circle cx="312" cy="273" r="1.6" fill="#8a8a8a"/><circle cx="320" cy="271" r="2.3" fill="#5c5c5c"/><circle cx="342" cy="274" r="2.3" fill="#5c5c5c"/><circle cx="359" cy="272" r="2.3" fill="#5c5c5c"/><circle cx="377" cy="275" r="1.6" fill="#8a8a8a"/><circle cx="391" cy="273" r="2.3" fill="#5c5c5c"/><circle cx="407" cy="272" r="2.3" fill="#5c5c5c"/><circle cx="413" cy="274" r="2.3" fill="#5c5c5c"/><circle cx="426" cy="269" r="2.3" fill="#5c5c5c"/><circle cx="460" cy="272" r="2.3" fill="#5c5c5c"/><circle cx="510" cy="275" r="2.3" fill="#5c5c5c"/><circle cx="564" cy="274" r="2.3" fill="#5c5c5c"/><circle cx="609" cy="270" r="2.3" fill="#5c5c5c"/><circle cx="627" cy="274" r="1.6" fill="#8a8a8a"/><circle cx="634" cy="272" r="2.3" fill="#5c5c5c"/><circle cx="736" cy="270" r="2.3" fill="#5c5c5c"/><circle cx="780" cy="270" r="1.6" fill="#8a8a8a"/><circle cx="790" cy="272" r="2.3" fill="#5c5c5c"/><circle cx="91" cy="279" r="2.8" fill="#505050"/><circle cx="94" cy="283" r="2.8" fill="#505050"/><circle cx="105" cy="283" r="2.8" fill="#505050"/><circle cx="129" cy="279" r="2.3" fill="#505050"/><circle cx="132" cy="277" r="2.3" fill="#505050"/><circle cx="144" cy="282" r="2.3" fill="#505050"/><circle cx="158" cy="277" r="2.3" fill="#5c5c5c"/><circle cx="175" cy="279" r="2.3" fill="#5c5c5c"/><circle cx="196" cy="281" r="2.3" fill="#5c5c5c"/><circle cx="236" cy="280" r="2.3" fill="#5c5c5c"/><circle cx="239" cy="279" r="2.3" fill="#5c5c5c"/><circle cx="277" cy="281" r="1.6" fill="#8a8a8a"/><circle cx="296" cy="279" r="2.3" fill="#5c5c5c"/><circle cx="306" cy="282" r="2.3" fill="#5c5c5c"/><circle cx="322" cy="282" r="2.3" fill="#5c5c5c"/><circle cx="371" cy="282" r="1.6" fill="#8a8a8a"/><circle cx="395" cy="282" r="2.3" fill="#5c5c5c"/><circle cx="448" cy="281" r="2.3" fill="#5c5c5c"/><circle cx="456" cy="278" r="2.3" fill="#5c5c5c"/><circle cx="495" cy="278" r="2.3" fill="#5c5c5c"/><circle cx="519" cy="280" r="1.6" fill="#8a8a8a"/><circle cx="700" cy="281" r="2.3" fill="#5c5c5c"/><circle cx="763" cy="278" r="2.3" fill="#5c5c5c"/><circle cx="773" cy="281" r="2.3" fill="#5c5c5c"/><circle cx="81" cy="290" r="2.8" fill="#505050"/><circle cx="93" cy="290" r="2.8" fill="#505050"/><circle cx="98" cy="289" r="2.8" fill="#505050"/><circle cx="106" cy="289" r="2.8" fill="#505050"/><circle cx="115" cy="288" r="2.8" fill="#505050"/><circle cx="125" cy="287" r="2.8" fill="#505050"/><circle cx="134" cy="289" r="2.8" fill="#505050"/><circle cx="143" cy="289" r="2.8" fill="#505050"/><circle cx="156" cy="286" r="2.8" fill="#505050"/><circle cx="162" cy="289" r="2.8" fill="#505050"/><circle cx="169" cy="287" r="2.8" fill="#505050"/><circle cx="181" cy="290" r="2.8" fill="#505050"/><circle cx="189" cy="288" r="2.8" fill="#505050"/><circle cx="209" cy="287" r="2.3" fill="#505050"/><circle cx="226" cy="285" r="2.3" fill="#505050"/><circle cx="236" cy="288" r="2.3" fill="#505050"/><circle cx="246" cy="290" r="2.3" fill="#505050"/><circle cx="253" cy="287" r="2.3" fill="#505050"/><circle cx="259" cy="286" r="2.3" fill="#5c5c5c"/><circle cx="299" cy="289" r="2.3" fill="#5c5c5c"/><circle cx="332" cy="288" r="2.3" fill="#5c5c5c"/><circle cx="342" cy="290" r="2.3" fill="#5c5c5c"/><circle cx="348" cy="290" r="1.6" fill="#8a8a8a"/><circle cx="357" cy="291" r="2.3" fill="#5c5c5c"/><circle cx="376" cy="289" r="2.3" fill="#5c5c5c"/><circle cx="391" cy="290" r="2.3" fill="#5c5c5c"/><circle cx="400" cy="286" r="2.3" fill="#5c5c5c"/><circle cx="458" cy="288" r="2.3" fill="#5c5c5c"/><circle cx="465" cy="288" r="1.6" fill="#8a8a8a"/><circle cx="487" cy="288" r="2.3" fill="#5c5c5c"/><circle cx="494" cy="285" r="2.3" fill="#5c5c5c"/><circle cx="508" cy="291" r="2.3" fill="#5c5c5c"/><circle cx="541" cy="289" r="2.3" fill="#5c5c5c"/><circle cx="547" cy="288" r="2.3" fill="#5c5c5c"/><circle cx="576" cy="288" r="1.6" fill="#8a8a8a"/><circle cx="596" cy="286" r="2.3" fill="#5c5c5c"/><circle cx="649" cy="287" r="2.3" fill="#5c5c5c"/><circle cx="659" cy="289" r="2.3" fill="#5c5c5c"/><circle cx="674" cy="291" r="2.3" fill="#5c5c5c"/><circle cx="688" cy="289" r="2.3" fill="#5c5c5c"/><circle cx="716" cy="290" r="2.3" fill="#5c5c5c"/><circle cx="84" cy="293" r="2.8" fill="#505050"/><circle cx="86" cy="294" r="2.8" fill="#505050"/><circle cx="106" cy="294" r="2.8" fill="#505050"/><circle cx="116" cy="295" r="2.8" fill="#505050"/><circle cx="122" cy="295" r="2.8" fill="#505050"/><circle cx="149" cy="294" r="2.8" fill="#505050"/><circle cx="161" cy="294" r="2.8" fill="#505050"/><circle cx="167" cy="298" r="2.8" fill="#505050"/><circle cx="180" cy="298" r="2.8" fill="#505050"/><circle cx="203" cy="296" r="2.8" fill="#505050"/><circle cx="223" cy="293" r="2.8" fill="#505050"/><circle cx="287" cy="295" r="2.3" fill="#505050"/><circle cx="297" cy="297" r="1.6" fill="#8a8a8a"/><circle cx="331" cy="294" r="2.3" fill="#505050"/><circle cx="344" cy="298" r="2.3" fill="#505050"/><circle cx="362" cy="295" r="2.3" fill="#5c5c5c"/><circle cx="367" cy="294" r="1.6" fill="#8a8a8a"/><circle cx="376" cy="295" r="2.3" fill="#5c5c5c"/><circle cx="422" cy="298" r="2.3" fill="#5c5c5c"/><circle cx="467" cy="299" r="1.6" fill="#8a8a8a"/><circle cx="487" cy="294" r="2.3" fill="#5c5c5c"/><circle cx="516" cy="295" r="1.6" fill="#8a8a8a"/><circle cx="526" cy="297" r="2.3" fill="#5c5c5c"/><circle cx="545" cy="297" r="2.3" fill="#5c5c5c"/><circle cx="555" cy="293" r="2.3" fill="#5c5c5c"/><circle cx="590" cy="294" r="2.3" fill="#5c5c5c"/><circle cx="606" cy="295" r="2.3" fill="#5c5c5c"/><circle cx="650" cy="297" r="1.6" fill="#8a8a8a"/><circle cx="654" cy="298" r="2.3" fill="#5c5c5c"/><circle cx="699" cy="297" r="2.3" fill="#5c5c5c"/><circle cx="730" cy="298" r="2.3" fill="#5c5c5c"/><circle cx="744" cy="298" r="2.3" fill="#5c5c5c"/><circle cx="755" cy="297" r="2.3" fill="#5c5c5c"/><circle cx="765" cy="295" r="2.3" fill="#5c5c5c"/><circle cx="79" cy="303" r="2.8" fill="#505050"/><circle cx="101" cy="302" r="2.8" fill="#505050"/><circle cx="105" cy="301" r="2.8" fill="#505050"/><circle cx="114" cy="301" r="2.8" fill="#505050"/><circle cx="152" cy="303" r="2.8" fill="#505050"/><circle cx="166" cy="302" r="2.8" fill="#505050"/><circle cx="177" cy="304" r="2.8" fill="#505050"/><circle cx="186" cy="302" r="2.8" fill="#505050"/><circle cx="199" cy="302" r="2.8" fill="#505050"/><circle cx="208" cy="304" r="2.8" fill="#505050"/><circle cx="222" cy="304" r="2.8" fill="#505050"/><circle cx="236" cy="305" r="2.8" fill="#505050"/><circle cx="242" cy="306" r="2.8" fill="#505050"/><circle cx="248" cy="302" r="2.8" fill="#505050"/><circle cx="257" cy="307" r="2.8" fill="#505050"/><circle cx="271" cy="304" r="2.8" fill="#505050"/><circle cx="276" cy="306" r="2.8" fill="#505050"/><circle cx="300" cy="304" r="2.8" fill="#505050"/><circle cx="308" cy="304" r="2.8" fill="#505050"/><circle cx="314" cy="303" r="2.8" fill="#505050"/><circle cx="365" cy="301" r="1.6" fill="#8a8a8a"/><circle cx="389" cy="307" r="2.8" fill="#505050"/><circle cx="393" cy="302" r="2.3" fill="#505050"/><circle cx="409" cy="306" r="2.3" fill="#505050"/><circle cx="424" cy="302" r="2.3" fill="#505050"/><circle cx="428" cy="304" r="2.3" fill="#505050"/><circle cx="441" cy="305" r="2.3" fill="#505050"/><circle cx="446" cy="304" r="2.3" fill="#505050"/><circle cx="458" cy="303" r="2.3" fill="#5c5c5c"/><circle cx="477" cy="304" r="2.3" fill="#5c5c5c"/><circle cx="493" cy="307" r="2.3" fill="#5c5c5c"/><circle cx="510" cy="303" r="2.3" fill="#5c5c5c"/><circle cx="561" cy="303" r="2.3" fill="#5c5c5c"/><circle cx="574" cy="307" r="2.3" fill="#5c5c5c"/><circle cx="581" cy="302" r="2.3" fill="#5c5c5c"/><circle cx="592" cy="303" r="1.6" fill="#8a8a8a"/><circle cx="601" cy="304" r="2.3" fill="#5c5c5c"/><circle cx="623" cy="304" r="2.3" fill="#5c5c5c"/><circle cx="671" cy="304" r="2.3" fill="#5c5c5c"/><circle cx="709" cy="301" r="2.3" fill="#5c5c5c"/><circle cx="721" cy="305" r="2.3" fill="#5c5c5c"/><circle cx="741" cy="304" r="2.3" fill="#5c5c5c"/><circle cx="753" cy="302" r="2.3" fill="#5c5c5c"/><circle cx="762" cy="304" r="2.3" fill="#5c5c5c"/><circle cx="774" cy="302" r="2.3" fill="#5c5c5c"/><circle cx="781" cy="302" r="2.3" fill="#5c5c5c"/><circle cx="788" cy="301" r="1.6" fill="#8a8a8a"/><circle cx="79" cy="312" r="2.8" fill="#505050"/><circle cx="85" cy="310" r="2.8" fill="#505050"/><circle cx="96" cy="311" r="2.8" fill="#505050"/><circle cx="108" cy="310" r="2.8" fill="#505050"/><circle cx="127" cy="312" r="2.8" fill="#505050"/><circle cx="130" cy="313" r="2.8" fill="#505050"/><circle cx="141" cy="310" r="2.8" fill="#505050"/><circle cx="164" cy="310" r="2.8" fill="#505050"/><circle cx="173" cy="310" r="2.8" fill="#505050"/><circle cx="182" cy="312" r="2.8" fill="#505050"/><circle cx="199" cy="310" r="2.8" fill="#505050"/><circle cx="202" cy="315" r="2.8" fill="#505050"/><circle cx="218" cy="315" r="2.8" fill="#505050"/><circle cx="228" cy="311" r="2.8" fill="#505050"/><circle cx="253" cy="314" r="2.8" fill="#505050"/><circle cx="270" cy="314" r="2.8" fill="#505050"/><circle cx="278" cy="315" r="2.8" fill="#505050"/><circle cx="289" cy="314" r="2.8" fill="#505050"/><circle cx="298" cy="313" r="2.8" fill="#505050"/><circle cx="323" cy="314" r="2.8" fill="#505050"/><circle cx="343" cy="309" r="2.8" fill="#505050"/><circle cx="369" cy="312" r="2.8" fill="#505050"/><circle cx="407" cy="315" r="2.8" fill="#505050"/><circle cx="411" cy="310" r="2.8" fill="#505050"/><circle cx="432" cy="310" r="2.8" fill="#505050"/><circle cx="449" cy="310" r="2.3" fill="#505050"/><circle cx="466" cy="311" r="1.6" fill="#8a8a8a"/><circle cx="504" cy="314" r="2.3" fill="#505050"/><circle cx="531" cy="310" r="2.3" fill="#5c5c5c"/><circle cx="538" cy="315" r="2.3" fill="#505050"/><circle cx="556" cy="314" r="2.3" fill="#505050"/><circle cx="562" cy="309" r="2.3" fill="#5c5c5c"/><circle cx="573" cy="314" r="2.3" fill="#5c5c5c"/><circle cx="587" cy="312" r="2.3" fill="#5c5c5c"/><circle cx="606" cy="315" r="2.3" fill="#5c5c5c"/><circle cx="611" cy="314" r="2.3" fill="#5c5c5c"/><circle cx="617" cy="310" r="2.3" fill="#5c5c5c"/><circle cx="631" cy="313" r="1.6" fill="#8a8a8a"/><circle cx="640" cy="314" r="2.3" fill="#5c5c5c"/><circle cx="644" cy="315" r="1.6" fill="#8a8a8a"/><circle cx="653" cy="313" r="2.3" fill="#5c5c5c"/><circle cx="664" cy="310" r="2.3" fill="#5c5c5c"/><circle cx="674" cy="312" r="1.6" fill="#8a8a8a"/><circle cx="707" cy="314" r="2.3" fill="#5c5c5c"/><circle cx="726" cy="312" r="2.3" fill="#5c5c5c"/><circle cx="737" cy="315" r="2.3" fill="#5c5c5c"/><circle cx="745" cy="310" r="2.3" fill="#5c5c5c"/><circle cx="779" cy="314" r="2.3" fill="#5c5c5c"/><circle cx="79" cy="319" r="2.8" fill="#505050"/><circle cx="100" cy="321" r="2.8" fill="#505050"/><circle cx="106" cy="318" r="2.8" fill="#505050"/><circle cx="120" cy="321" r="2.8" fill="#505050"/><circle cx="125" cy="320" r="2.8" fill="#505050"/><circle cx="146" cy="319" r="2.8" fill="#505050"/><circle cx="150" cy="323" r="2.8" fill="#505050"/><circle cx="161" cy="317" r="2.8" fill="#505050"/><circle cx="170" cy="317" r="2.8" fill="#505050"/><circle cx="179" cy="320" r="2.8" fill="#505050"/><circle cx="184" cy="319" r="2.8" fill="#505050"/><circle cx="194" cy="321" r="2.8" fill="#505050"/><circle cx="206" cy="321" r="2.8" fill="#505050"/><circle cx="226" cy="322" r="2.8" fill="#505050"/><circle cx="242" cy="323" r="2.8" fill="#505050"/><circle cx="254" cy="319" r="2.8" fill="#505050"/><circle cx="262" cy="318" r="2.8" fill="#505050"/><circle cx="276" cy="320" r="2.8" fill="#505050"/><circle cx="294" cy="320" r="2.8" fill="#505050"/><circle cx="306" cy="321" r="2.8" fill="#505050"/><circle cx="336" cy="322" r="2.8" fill="#505050"/><circle cx="345" cy="320" r="2.8" fill="#505050"/><circle cx="367" cy="321" r="2.8" fill="#505050"/><circle cx="400" cy="320" r="2.8" fill="#505050"/><circle cx="432" cy="321" r="2.8" fill="#505050"/><circle cx="437" cy="319" r="2.8" fill="#505050"/><circle cx="447" cy="320" r="2.8" fill="#505050"/><circle cx="460" cy="318" r="2.8" fill="#505050"/><circle cx="467" cy="321" r="2.8" fill="#505050"/><circle cx="474" cy="318" r="2.8" fill="#505050"/><circle cx="484" cy="322" r="2.8" fill="#505050"/><circle cx="493" cy="321" r="2.8" fill="#505050"/><circle cx="511" cy="319" r="2.8" fill="#505050"/><circle cx="552" cy="322" r="2.8" fill="#505050"/><circle cx="559" cy="319" r="2.3" fill="#505050"/><circle cx="566" cy="317" r="2.3" fill="#505050"/><circle cx="578" cy="320" r="2.3" fill="#505050"/><circle cx="590" cy="320" r="2.3" fill="#505050"/><circle cx="601" cy="318" r="2.3" fill="#505050"/><circle cx="611" cy="318" r="2.3" fill="#5c5c5c"/><circle cx="620" cy="323" r="2.3" fill="#505050"/><circle cx="649" cy="321" r="2.3" fill="#5c5c5c"/><circle cx="703" cy="320" r="2.3" fill="#5c5c5c"/><circle cx="737" cy="322" r="2.3" fill="#5c5c5c"/><circle cx="766" cy="319" r="2.3" fill="#5c5c5c"/><circle cx="785" cy="319" r="2.3" fill="#5c5c5c"/><circle cx="77" cy="328" r="2.8" fill="#505050"/><circle cx="88" cy="329" r="2.8" fill="#505050"/><circle cx="101" cy="329" r="2.8" fill="#505050"/><circle cx="110" cy="325" r="2.8" fill="#505050"/><circle cx="112" cy="331" r="2.8" fill="#505050"/><circle cx="128" cy="331" r="2.8" fill="#505050"/><circle cx="137" cy="325" r="2.8" fill="#505050"/><circle cx="154" cy="328" r="2.8" fill="#505050"/><circle cx="158" cy="325" r="2.8" fill="#505050"/><circle cx="170" cy="326" r="2.8" fill="#505050"/><circle cx="176" cy="327" r="2.8" fill="#505050"/><circle cx="185" cy="328" r="2.8" fill="#505050"/><circle cx="209" cy="331" r="2.8" fill="#505050"/><circle cx="226" cy="325" r="2.8" fill="#505050"/><circle cx="247" cy="328" r="2.8" fill="#505050"/><circle cx="257" cy="331" r="2.8" fill="#505050"/><circle cx="273" cy="329" r="2.8" fill="#505050"/><circle cx="287" cy="329" r="2.8" fill="#505050"/><circle cx="295" cy="325" r="2.8" fill="#505050"/><circle cx="302" cy="326" r="2.8" fill="#505050"/><circle cx="331" cy="330" r="2.8" fill="#505050"/><circle cx="339" cy="328" r="2.8" fill="#505050"/><circle cx="363" cy="329" r="2.8" fill="#505050"/><circle cx="368" cy="329" r="2.8" fill="#505050"/><circle cx="386" cy="328" r="2.8" fill="#505050"/><circle cx="394" cy="328" r="2.8" fill="#505050"/><circle cx="404" cy="326" r="2.8" fill="#505050"/><circle cx="416" cy="330" r="2.8" fill="#505050"/><circle cx="423" cy="328" r="2.8" fill="#505050"/><circle cx="429" cy="328" r="2.8" fill="#505050"/><circle cx="450" cy="326" r="2.8" fill="#505050"/><circle cx="467" cy="329" r="2.8" fill="#505050"/><circle cx="478" cy="327" r="2.8" fill="#505050"/><circle cx="503" cy="328" r="2.8" fill="#505050"/><circle cx="519" cy="329" r="2.8" fill="#505050"/><circle cx="531" cy="329" r="2.8" fill="#505050"/><circle cx="535" cy="327" r="2.8" fill="#505050"/><circle cx="563" cy="330" r="2.8" fill="#505050"/><circle cx="588" cy="326" r="2.8" fill="#505050"/><circle cx="594" cy="326" r="2.8" fill="#505050"/><circle cx="606" cy="328" r="2.8" fill="#505050"/><circle cx="610" cy="326" r="2.8" fill="#505050"/><circle cx="651" cy="328" r="2.3" fill="#505050"/><circle cx="652" cy="328" r="2.3" fill="#505050"/><circle cx="682" cy="327" r="2.3" fill="#505050"/><circle cx="689" cy="327" r="2.3" fill="#505050"/><circle cx="707" cy="329" r="2.3" fill="#505050"/><circle cx="725" cy="326" r="2.3" fill="#5c5c5c"/><circle cx="745" cy="330" r="2.3" fill="#5c5c5c"/><circle cx="752" cy="330" r="2.3" fill="#5c5c5c"/><circle cx="781" cy="327" r="2.3" fill="#5c5c5c"/><circle cx="81" cy="337" r="2.8" fill="#505050"/><circle cx="94" cy="338" r="2.8" fill="#505050"/><circle cx="104" cy="337" r="2.8" fill="#505050"/><circle cx="119" cy="338" r="2.8" fill="#505050"/><circle cx="122" cy="336" r="2.8" fill="#505050"/><circle cx="130" cy="337" r="2.8" fill="#505050"/><circle cx="142" cy="334" r="2.8" fill="#505050"/><circle cx="164" cy="337" r="2.8" fill="#505050"/><circle cx="171" cy="335" r="2.8" fill="#505050"/><circle cx="179" cy="336" r="2.8" fill="#505050"/><circle cx="191" cy="339" r="2.8" fill="#505050"/><circle cx="200" cy="335" r="2.8" fill="#505050"/><circle cx="222" cy="333" r="2.8" fill="#505050"/><circle cx="242" cy="338" r="2.8" fill="#505050"/><circle cx="266" cy="338" r="2.8" fill="#505050"/><circle cx="277" cy="334" r="2.8" fill="#505050"/><circle cx="300" cy="334" r="2.8" fill="#505050"/><circle cx="305" cy="335" r="2.8" fill="#505050"/><circle cx="327" cy="336" r="2.8" fill="#505050"/><circle cx="328" cy="336" r="2.8" fill="#505050"/><circle cx="345" cy="333" r="2.8" fill="#505050"/><circle cx="346" cy="339" r="2.8" fill="#505050"/><circle cx="361" cy="337" r="2.8" fill="#505050"/><circle cx="368" cy="336" r="2.8" fill="#505050"/><circle cx="390" cy="336" r="2.8" fill="#505050"/><circle cx="406" cy="334" r="2.8" fill="#505050"/><circle cx="410" cy="337" r="2.8" fill="#505050"/><circle cx="444" cy="338" r="2.8" fill="#505050"/><circle cx="451" cy="336" r="2.8" fill="#505050"/><circle cx="458" cy="339" r="2.8" fill="#505050"/><circle cx="482" cy="337" r="2.8" fill="#505050"/><circle cx="500" cy="339" r="2.8" fill="#505050"/><circle cx="528" cy="339" r="2.8" fill="#505050"/><circle cx="550" cy="336" r="2.8" fill="#505050"/><circle cx="581" cy="333" r="2.8" fill="#505050"/><circle cx="608" cy="334" r="2.8" fill="#505050"/><circle cx="637" cy="336" r="2.8" fill="#505050"/><circle cx="658" cy="334" r="2.8" fill="#505050"/><circle cx="677" cy="336" r="2.8" fill="#505050"/><circle cx="683" cy="335" r="2.8" fill="#505050"/><circle cx="723" cy="333" r="2.3" fill="#505050"/><circle cx="726" cy="338" r="2.8" fill="#505050"/><circle cx="738" cy="337" r="2.3" fill="#505050"/><circle cx="747" cy="335" r="2.3" fill="#505050"/><circle cx="756" cy="337" r="2.3" fill="#505050"/><circle cx="766" cy="333" r="2.3" fill="#505050"/><circle cx="151" cy="343" r="2.8" fill="#505050"/><circle cx="159" cy="342" r="2.8" fill="#505050"/><circle cx="170" cy="344" r="2.8" fill="#505050"/><circle cx="179" cy="342" r="2.8" fill="#505050"/><circle cx="188" cy="345" r="2.8" fill="#505050"/><circle cx="199" cy="343" r="2.8" fill="#505050"/><circle cx="207" cy="343" r="2.8" fill="#505050"/><circle cx="227" cy="346" r="2.8" fill="#505050"/><circle cx="240" cy="344" r="2.8" fill="#505050"/><circle cx="247" cy="342" r="2.8" fill="#505050"/><circle cx="262" cy="346" r="2.8" fill="#505050"/><circle cx="266" cy="347" r="2.8" fill="#505050"/><circle cx="303" cy="344" r="2.8" fill="#505050"/><circle cx="314" cy="344" r="2.8" fill="#505050"/><circle cx="326" cy="344" r="2.8" fill="#505050"/><circle cx="332" cy="342" r="2.8" fill="#505050"/><circle cx="343" cy="346" r="2.8" fill="#505050"/><circle cx="348" cy="347" r="2.8" fill="#505050"/><circle cx="356" cy="345" r="2.8" fill="#505050"/><circle cx="365" cy="345" r="2.8" fill="#505050"/><circle cx="383" cy="345" r="2.8" fill="#505050"/><circle cx="391" cy="341" r="2.8" fill="#505050"/><circle cx="406" cy="346" r="2.8" fill="#505050"/><circle cx="410" cy="341" r="2.8" fill="#505050"/><circle cx="428" cy="345" r="2.8" fill="#505050"/><circle cx="441" cy="342" r="2.8" fill="#505050"/><circle cx="453" cy="343" r="2.8" fill="#505050"/><circle cx="459" cy="347" r="2.8" fill="#505050"/><circle cx="482" cy="344" r="2.8" fill="#505050"/><circle cx="497" cy="346" r="2.8" fill="#505050"/><circle cx="502" cy="345" r="2.8" fill="#505050"/><circle cx="509" cy="347" r="2.8" fill="#505050"/><circle cx="518" cy="342" r="2.8" fill="#505050"/><circle cx="533" cy="342" r="2.8" fill="#505050"/><circle cx="543" cy="346" r="2.8" fill="#505050"/><circle cx="555" cy="342" r="2.8" fill="#505050"/><circle cx="567" cy="346" r="2.8" fill="#505050"/><circle cx="573" cy="345" r="2.8" fill="#505050"/><circle cx="581" cy="341" r="2.8" fill="#505050"/><circle cx="594" cy="344" r="2.8" fill="#505050"/><circle cx="600" cy="342" r="2.8" fill="#505050"/><circle cx="620" cy="345" r="2.8" fill="#505050"/><circle cx="629" cy="341" r="2.8" fill="#505050"/><circle cx="636" cy="343" r="2.8" fill="#505050"/><circle cx="650" cy="343" r="2.8" fill="#505050"/><circle cx="683" cy="342" r="2.8" fill="#505050"/><circle cx="694" cy="341" r="2.8" fill="#505050"/><circle cx="702" cy="345" r="2.8" fill="#505050"/><circle cx="741" cy="344" r="2.8" fill="#505050"/><circle cx="749" cy="346" r="2.8" fill="#505050"/><circle cx="756" cy="343" r="2.8" fill="#505050"/><circle cx="773" cy="346" r="2.8" fill="#505050"/><circle cx="209" cy="350" r="2.8" fill="#505050"/><circle cx="225" cy="351" r="2.8" fill="#505050"/><circle cx="261" cy="349" r="2.8" fill="#505050"/><circle cx="272" cy="350" r="2.8" fill="#505050"/><circle cx="282" cy="352" r="2.8" fill="#505050"/><circle cx="288" cy="354" r="2.8" fill="#505050"/><circle cx="299" cy="353" r="2.8" fill="#505050"/><circle cx="306" cy="351" r="2.8" fill="#505050"/><circle cx="314" cy="349" r="2.8" fill="#505050"/><circle cx="326" cy="355" r="2.8" fill="#505050"/><circle cx="329" cy="351" r="2.8" fill="#505050"/><circle cx="338" cy="354" r="2.8" fill="#505050"/><circle cx="350" cy="351" r="2.8" fill="#505050"/><circle cx="364" cy="350" r="2.8" fill="#505050"/><circle cx="380" cy="353" r="2.8" fill="#505050"/><circle cx="389" cy="350" r="2.8" fill="#505050"/><circle cx="397" cy="353" r="2.8" fill="#505050"/><circle cx="416" cy="351" r="2.8" fill="#505050"/><circle cx="442" cy="354" r="2.8" fill="#505050"/><circle cx="451" cy="349" r="2.8" fill="#505050"/><circle cx="467" cy="353" r="2.8" fill="#505050"/><circle cx="477" cy="349" r="2.8" fill="#505050"/><circle cx="495" cy="354" r="2.8" fill="#505050"/><circle cx="500" cy="351" r="2.8" fill="#505050"/><circle cx="520" cy="351" r="2.8" fill="#505050"/><circle cx="529" cy="352" r="2.8" fill="#505050"/><circle cx="547" cy="355" r="2.8" fill="#505050"/><circle cx="553" cy="353" r="2.8" fill="#505050"/><circle cx="569" cy="353" r="2.8" fill="#505050"/><circle cx="576" cy="353" r="2.8" fill="#505050"/><circle cx="582" cy="353" r="2.8" fill="#505050"/><circle cx="589" cy="350" r="2.8" fill="#505050"/><circle cx="599" cy="352" r="2.8" fill="#505050"/><circle cx="630" cy="355" r="2.8" fill="#505050"/><circle cx="636" cy="351" r="2.8" fill="#505050"/><circle cx="644" cy="351" r="2.8" fill="#505050"/><circle cx="658" cy="354" r="2.8" fill="#505050"/><circle cx="667" cy="353" r="2.8" fill="#505050"/><circle cx="670" cy="354" r="2.8" fill="#505050"/><circle cx="704" cy="352" r="2.8" fill="#505050"/><circle cx="708" cy="350" r="2.8" fill="#505050"/><circle cx="716" cy="351" r="2.8" fill="#505050"/><circle cx="726" cy="354" r="2.8" fill="#505050"/><circle cx="737" cy="354" r="2.8" fill="#505050"/><circle cx="748" cy="352" r="2.8" fill="#505050"/><circle cx="758" cy="354" r="2.8" fill="#505050"/><circle cx="784" cy="350" r="2.8" fill="#505050"/><circle cx="311" cy="359" r="2.8" fill="#505050"/><circle cx="325" cy="358" r="2.8" fill="#505050"/><circle cx="352" cy="359" r="2.8" fill="#505050"/><circle cx="358" cy="357" r="2.8" fill="#505050"/><circle cx="366" cy="362" r="2.8" fill="#505050"/><circle cx="375" cy="360" r="2.8" fill="#505050"/><circle cx="387" cy="359" r="2.8" fill="#505050"/><circle cx="391" cy="362" r="2.8" fill="#505050"/><circle cx="402" cy="358" r="2.8" fill="#505050"/><circle cx="410" cy="359" r="2.8" fill="#505050"/><circle cx="420" cy="360" r="2.8" fill="#505050"/><circle cx="428" cy="362" r="2.8" fill="#505050"/><circle cx="439" cy="359" r="2.8" fill="#505050"/><circle cx="447" cy="360" r="2.8" fill="#505050"/><circle cx="468" cy="360" r="2.8" fill="#505050"/><circle cx="478" cy="363" r="2.8" fill="#505050"/><circle cx="488" cy="359" r="2.8" fill="#505050"/><circle cx="490" cy="358" r="2.8" fill="#505050"/><circle cx="511" cy="362" r="2.8" fill="#505050"/><circle cx="548" cy="360" r="2.8" fill="#505050"/><circle cx="567" cy="357" r="2.8" fill="#505050"/><circle cx="619" cy="362" r="2.8" fill="#505050"/><circle cx="633" cy="359" r="2.8" fill="#505050"/><circle cx="644" cy="358" r="2.8" fill="#505050"/><circle cx="662" cy="358" r="2.8" fill="#505050"/><circle cx="698" cy="359" r="2.8" fill="#505050"/><circle cx="741" cy="361" r="2.8" fill="#505050"/><circle cx="747" cy="362" r="2.8" fill="#505050"/><circle cx="755" cy="358" r="2.8" fill="#505050"/><circle cx="772" cy="361" r="2.8" fill="#505050"/><circle cx="779" cy="361" r="2.8" fill="#505050"/><circle cx="789" cy="360" r="2.8" fill="#505050"/><circle cx="370" cy="365" r="2.8" fill="#505050"/><circle cx="388" cy="366" r="2.8" fill="#505050"/><circle cx="416" cy="368" r="2.8" fill="#505050"/><circle cx="426" cy="370" r="2.8" fill="#505050"/><circle cx="432" cy="367" r="2.8" fill="#505050"/><circle cx="437" cy="368" r="2.8" fill="#505050"/><circle cx="446" cy="369" r="2.8" fill="#505050"/><circle cx="456" cy="371" r="2.8" fill="#505050"/><circle cx="467" cy="368" r="2.8" fill="#505050"/><circle cx="498" cy="366" r="2.8" fill="#505050"/><circle cx="500" cy="366" r="2.8" fill="#505050"/><circle cx="508" cy="368" r="2.8" fill="#505050"/><circle cx="523" cy="365" r="2.8" fill="#505050"/><circle cx="534" cy="367" r="2.8" fill="#505050"/><circle cx="552" cy="366" r="2.8" fill="#505050"/><circle cx="554" cy="368" r="2.8" fill="#505050"/><circle cx="577" cy="370" r="2.8" fill="#505050"/><circle cx="585" cy="366" r="2.8" fill="#505050"/><circle cx="596" cy="371" r="2.8" fill="#505050"/><circle cx="602" cy="367" r="2.8" fill="#505050"/><circle cx="633" cy="368" r="2.8" fill="#505050"/><circle cx="640" cy="366" r="2.8" fill="#505050"/><circle cx="666" cy="371" r="2.8" fill="#505050"/><circle cx="677" cy="365" r="2.8" fill="#505050"/><circle cx="683" cy="369" r="2.8" fill="#505050"/><circle cx="689" cy="370" r="2.8" fill="#505050"/><circle cx="711" cy="366" r="2.8" fill="#505050"/><circle cx="717" cy="368" r="2.8" fill="#505050"/><circle cx="728" cy="367" r="2.8" fill="#505050"/><circle cx="763" cy="371" r="2.8" fill="#505050"/><circle cx="769" cy="365" r="2.8" fill="#505050"/><circle cx="783" cy="367" r="2.8" fill="#505050"/><circle cx="475" cy="374" r="2.8" fill="#505050"/><circle cx="482" cy="374" r="2.8" fill="#505050"/><circle cx="495" cy="374" r="2.8" fill="#505050"/><circle cx="503" cy="376" r="2.8" fill="#505050"/><circle cx="513" cy="374" r="2.8" fill="#505050"/><circle cx="518" cy="378" r="2.8" fill="#505050"/><circle cx="527" cy="375" r="2.8" fill="#505050"/><circle cx="542" cy="375" r="2.8" fill="#505050"/><circle cx="545" cy="373" r="2.8" fill="#505050"/><circle cx="579" cy="378" r="2.8" fill="#505050"/><circle cx="583" cy="374" r="2.8" fill="#505050"/><circle cx="593" cy="374" r="2.8" fill="#505050"/><circle cx="602" cy="377" r="2.8" fill="#505050"/><circle cx="611" cy="377" r="2.8" fill="#505050"/><circle cx="622" cy="375" r="2.8" fill="#505050"/><circle cx="632" cy="373" r="2.8" fill="#505050"/><circle cx="636" cy="377" r="2.8" fill="#505050"/><circle cx="644" cy="376" r="2.8" fill="#505050"/><circle cx="663" cy="375" r="2.8" fill="#505050"/><circle cx="683" cy="374" r="2.8" fill="#505050"/><circle cx="697" cy="375" r="2.8" fill="#505050"/><circle cx="712" cy="379" r="2.8" fill="#505050"/><circle cx="718" cy="379" r="2.8" fill="#505050"/><circle cx="745" cy="373" r="2.8" fill="#505050"/><circle cx="757" cy="379" r="2.8" fill="#505050"/><circle cx="763" cy="375" r="2.8" fill="#505050"/><circle cx="778" cy="373" r="2.8" fill="#505050"/><circle cx="559" cy="383" r="2.8" fill="#505050"/><circle cx="564" cy="384" r="2.8" fill="#505050"/><circle cx="574" cy="384" r="2.8" fill="#505050"/><circle cx="582" cy="383" r="2.8" fill="#505050"/><circle cx="600" cy="382" r="2.8" fill="#505050"/><circle cx="614" cy="386" r="2.8" fill="#505050"/><circle cx="623" cy="383" r="2.8" fill="#505050"/><circle cx="626" cy="383" r="2.8" fill="#505050"/><circle cx="635" cy="384" r="2.8" fill="#505050"/><circle cx="645" cy="384" r="2.8" fill="#505050"/><circle cx="660" cy="383" r="2.8" fill="#505050"/><circle cx="661" cy="382" r="2.8" fill="#505050"/><circle cx="670" cy="382" r="2.8" fill="#505050"/><circle cx="683" cy="386" r="2.8" fill="#505050"/><circle cx="689" cy="382" r="2.8" fill="#505050"/><circle cx="705" cy="385" r="2.8" fill="#505050"/><circle cx="709" cy="384" r="2.8" fill="#505050"/><circle cx="717" cy="382" r="2.8" fill="#505050"/><circle cx="736" cy="385" r="2.8" fill="#505050"/><circle cx="743" cy="381" r="2.8" fill="#505050"/><circle cx="757" cy="384" r="2.8" fill="#505050"/><circle cx="764" cy="384" r="2.8" fill="#505050"/><circle cx="773" cy="387" r="2.8" fill="#505050"/><circle cx="786" cy="385" r="2.8" fill="#505050"/><circle cx="650" cy="391" r="2.8" fill="#505050"/><circle cx="665" cy="391" r="2.8" fill="#505050"/><circle cx="673" cy="395" r="2.8" fill="#505050"/><circle cx="694" cy="392" r="2.8" fill="#505050"/><circle cx="705" cy="394" r="2.8" fill="#505050"/><circle cx="706" cy="393" r="2.8" fill="#505050"/><circle cx="716" cy="391" r="2.8" fill="#505050"/><circle cx="726" cy="390" r="2.8" fill="#505050"/><circle cx="745" cy="391" r="2.8" fill="#505050"/><circle cx="754" cy="393" r="2.8" fill="#505050"/><circle cx="763" cy="393" r="2.8" fill="#505050"/><circle cx="778" cy="391" r="2.8" fill="#505050"/><circle cx="727" cy="397" r="2.8" fill="#505050"/><circle cx="738" cy="399" r="2.8" fill="#505050"/><circle cx="758" cy="402" r="2.8" fill="#505050"/><circle cx="763" cy="400" r="2.8" fill="#505050"/><circle cx="770" cy="401" r="2.8" fill="#505050"/></g>
<path d="M194.6,48.6 C192.8,52.1 185.9,63.8 183.9,69.8 C181.9,75.8 180.4,79.8 182.6,84.5 C184.8,89.2 194.5,94.2 197.2,97.8 C199.9,101.3 200.4,100.9 198.6,105.8 C196.8,110.7 188.7,121.0 186.6,127.0 C184.5,133.0 183.9,136.8 185.9,141.7 C187.9,146.6 196.9,150.2 198.6,156.3 C200.3,162.4 196.3,174.4 195.9,178.0" fill="none" stroke="#555" stroke-width="4.8" stroke-linecap="round" stroke-linejoin="round"/>
<polygon points="195.2,193.0 186.7,174.9 195.0,179.7 203.2,175.6" fill="#555" stroke="#555" stroke-width="1.5" stroke-linejoin="round"/>
<path d="M307.6,200.2 C305.4,197.3 296.5,188.0 294.3,182.9 C292.1,177.8 290.8,174.5 294.3,169.6 C297.9,164.7 312.5,158.5 315.6,153.6 C318.7,148.7 317.0,144.7 313.0,140.3 C309.0,135.9 295.0,130.5 291.7,127.0 C288.4,123.5 288.4,122.6 293.0,119.1 C297.6,115.6 315.0,112.3 319.6,105.8 C324.2,99.3 320.7,84.3 320.9,80.0" fill="none" stroke="#555" stroke-width="4.8" stroke-linecap="round" stroke-linejoin="round"/>
<polygon points="319.6,60.0 311.0,82.5 320.4,76.9 330.2,82.5" fill="#555" stroke="#555" stroke-width="1.5" stroke-linejoin="round"/>
<path d="M387.4,63.2 C386.1,65.9 380.5,74.3 379.4,79.2 C378.3,84.1 378.4,87.8 380.8,92.5 C383.2,97.2 391.9,102.0 394.1,107.1 C396.3,112.2 395.4,117.5 394.1,123.0 C392.8,128.5 387.2,134.8 386.1,140.3 C385.0,145.9 386.7,151.0 387.4,156.3 C388.1,161.6 389.7,169.4 390.1,172.0" fill="none" stroke="#555" stroke-width="4.8" stroke-linecap="round" stroke-linejoin="round"/>
<polygon points="389.4,187.5 381.0,169.6 389.9,174.1 399.1,169.6" fill="#555" stroke="#555" stroke-width="1.5" stroke-linejoin="round"/>
<path d="M463.2,144.3 C460.8,141.9 451.2,133.7 448.6,129.7 C446.0,125.7 444.9,124.4 447.3,120.4 C449.7,116.4 460.8,110.5 463.2,105.8 C465.6,101.1 465.0,97.2 461.9,92.5 C458.8,87.8 447.5,82.0 444.6,77.8 C441.7,73.6 442.4,72.7 444.6,67.2 C446.8,61.7 455.7,48.7 457.9,45.0" fill="none" stroke="#555" stroke-width="4.8" stroke-linecap="round" stroke-linejoin="round"/>
<polygon points="459.2,21.5 448.3,46.5 459.7,40.2 471.5,46.5" fill="#555" stroke="#555" stroke-width="1.5" stroke-linejoin="round"/>
<path d="M541.3,28.7 C543.2,32.6 553.1,44.3 553.0,52.1 C552.9,59.9 540.8,67.5 540.5,75.5 C540.2,83.5 551.9,91.6 551.4,100.4 C550.9,109.2 538.2,120.7 537.4,128.5 C536.6,136.3 545.1,141.6 546.8,147.2 C548.5,152.8 547.4,159.5 547.5,162.0" fill="none" stroke="#555" stroke-width="4.8" stroke-linecap="round" stroke-linejoin="round"/>
<polygon points="546.8,176.0 539.4,159.6 547.4,163.7 555.7,159.6" fill="#555" stroke="#555" stroke-width="1.5" stroke-linejoin="round"/>
<path d="M626.3,232.9 C627.6,229.5 634.5,219.3 634.0,212.6 C633.5,205.8 623.4,200.7 623.1,192.4 C622.9,184.1 633.8,170.8 632.5,162.7 C631.2,154.6 617.6,150.8 615.3,144.0 C613.0,137.2 615.9,127.5 618.5,122.2 C621.1,116.9 628.8,113.7 630.9,112.0" fill="none" stroke="#555" stroke-width="4.8" stroke-linecap="round" stroke-linejoin="round"/>
<polygon points="633.8,102.0 615.3,117.5 627.0,117.4 634.1,127.5" fill="#555" stroke="#555" stroke-width="1.5" stroke-linejoin="round"/>
<path d="M700.3,59.9 C698.7,63.3 691.8,73.9 690.9,80.1 C690.0,86.3 691.8,91.3 694.8,97.3 C697.8,103.3 708.1,108.5 708.9,116.0 C709.7,123.5 700.8,133.5 699.5,142.5 C698.2,151.5 700.8,165.4 701.1,170.0" fill="none" stroke="#555" stroke-width="4.8" stroke-linecap="round" stroke-linejoin="round"/>
<polygon points="701.8,187.0 693.8,169.0 702.1,173.5 710.7,169.0" fill="#555" stroke="#555" stroke-width="1.5" stroke-linejoin="round"/>
<path d="M786.8,162.8 C784.2,159.4 771.2,149.8 771.2,142.5 C771.2,135.2 786.8,126.6 786.8,119.1 C786.8,111.6 773.3,104.0 771.2,97.3 C769.1,90.5 772.5,84.6 774.3,78.6 C776.1,72.5 780.8,63.9 782.1,61.0" fill="none" stroke="#555" stroke-width="4.8" stroke-linecap="round" stroke-linejoin="round"/>
<polygon points="782.9,37.5 772.2,63.5 783.5,57.0 795.2,63.5" fill="#555" stroke="#555" stroke-width="1.5" stroke-linejoin="round"/>
<polygon points="436.3,439.0 467.4,439.0 467.4,488.0 482.2,488.0 451.9,558.5 422.2,488.0 436.3,488.0" fill="url(#vipsArr)" filter="url(#blur1)"/>
<text x="495.5" y="529.5" font-family="Liberation Serif" font-size="65" textLength="134.5" lengthAdjust="spacingAndGlyphs">VIPS</text>
<mask id="spongeMask" maskUnits="userSpaceOnUse" x="0" y="540" width="900" height="360"><path d="M52,687 L82,659 L117,634 L170,622 L229,594 L316,571 L344,566 L449,575 L554,582 L658,587 L781,594 L823,608 L830,645 L837,715 L830,757 L805,798 L774,840 L728,868 L606,875 L449,861 L309,840 L170,837 L72,823 L61,784 L58,715 Z" fill="#fff" filter="url(#rough)"/></mask>
<g mask="url(#spongeMask)">
<rect x="40" y="555" width="810" height="335" fill="#626262"/>
<g>
<rect x="40" y="555" width="810" height="335" filter="url(#grain)" opacity="0.42"/>
<rect x="40" y="555" width="810" height="335" filter="url(#mottle)" opacity="0.18"/>
<g filter="url(#blur1)"><ellipse cx="376" cy="654" rx="19.0" ry="5.4" transform="rotate(17 376 654)" fill="#2a2a2a" opacity="0.55"/><ellipse cx="252" cy="762" rx="16.4" ry="4.7" transform="rotate(-12 252 762)" fill="#2a2a2a" opacity="0.55"/><ellipse cx="121" cy="770" rx="11.7" ry="4.0" transform="rotate(-9 121 770)" fill="#2a2a2a" opacity="0.55"/><ellipse cx="304" cy="634" rx="14.3" ry="3.8" transform="rotate(-14 304 634)" fill="#2a2a2a" opacity="0.55"/><ellipse cx="337" cy="867" rx="15.9" ry="4.1" transform="rotate(17 337 867)" fill="#2a2a2a" opacity="0.55"/><ellipse cx="787" cy="689" rx="17.2" ry="6.1" transform="rotate(3 787 689)" fill="#2a2a2a" opacity="0.55"/><ellipse cx="761" cy="781" rx="15.1" ry="7.7" transform="rotate(-2 761 781)" fill="#2a2a2a" opacity="0.55"/><ellipse cx="137" cy="602" rx="16.1" ry="5.3" transform="rotate(19 137 602)" fill="#2a2a2a" opacity="0.55"/><ellipse cx="813" cy="669" rx="8.8" ry="5.9" transform="rotate(-24 813 669)" fill="#2a2a2a" opacity="0.55"/><ellipse cx="134" cy="620" rx="10.2" ry="5.2" transform="rotate(-15 134 620)" fill="#2a2a2a" opacity="0.55"/><ellipse cx="591" cy="805" rx="17.7" ry="5.7" transform="rotate(13 591 805)" fill="#2a2a2a" opacity="0.55"/><ellipse cx="676" cy="797" rx="10.4" ry="5.9" transform="rotate(16 676 797)" fill="#2a2a2a" opacity="0.55"/><ellipse cx="247" cy="697" rx="6.2" ry="6.0" transform="rotate(-19 247 697)" fill="#2a2a2a" opacity="0.55"/><ellipse cx="402" cy="651" rx="7.6" ry="7.4" transform="rotate(-9 402 651)" fill="#2a2a2a" opacity="0.55"/><ellipse cx="802" cy="799" rx="14.2" ry="5.4" transform="rotate(7 802 799)" fill="#2a2a2a" opacity="0.55"/><ellipse cx="687" cy="651" rx="13.6" ry="4.3" transform="rotate(-16 687 651)" fill="#2a2a2a" opacity="0.55"/><ellipse cx="225" cy="813" rx="19.1" ry="5.2" transform="rotate(-16 225 813)" fill="#2a2a2a" opacity="0.55"/><ellipse cx="193" cy="683" rx="11.2" ry="7.4" transform="rotate(1 193 683)" fill="#2a2a2a" opacity="0.55"/><ellipse cx="438" cy="769" rx="8.5" ry="4.9" transform="rotate(-3 438 769)" fill="#2a2a2a" opacity="0.55"/><ellipse cx="106" cy="683" rx="14.0" ry="6.0" transform="rotate(-12 106 683)" fill="#2a2a2a" opacity="0.55"/><ellipse cx="111" cy="754" rx="8.2" ry="3.0" transform="rotate(23 111 754)" fill="#2a2a2a" opacity="0.55"/><ellipse cx="626" cy="853" rx="10.5" ry="6.9" transform="rotate(18 626 853)" fill="#2a2a2a" opacity="0.55"/><ellipse cx="545" cy="609" rx="9.8" ry="4.9" transform="rotate(-3 545 609)" fill="#2a2a2a" opacity="0.55"/><ellipse cx="502" cy="650" rx="9.1" ry="3.1" transform="rotate(-5 502 650)" fill="#2a2a2a" opacity="0.55"/><ellipse cx="147" cy="663" rx="6.3" ry="7.2" transform="rotate(-14 147 663)" fill="#2a2a2a" opacity="0.55"/><ellipse cx="451" cy="756" rx="6.6" ry="5.7" transform="rotate(15 451 756)" fill="#2a2a2a" opacity="0.55"/><ellipse cx="241" cy="770" rx="16.1" ry="5.8" transform="rotate(-7 241 770)" fill="#2a2a2a" opacity="0.55"/><ellipse cx="454" cy="780" rx="12.1" ry="6.7" transform="rotate(12 454 780)" fill="#2a2a2a" opacity="0.55"/><ellipse cx="641" cy="717" rx="8.0" ry="3.9" transform="rotate(-10 641 717)" fill="#2a2a2a" opacity="0.55"/><ellipse cx="493" cy="616" rx="10.3" ry="3.7" transform="rotate(2 493 616)" fill="#2a2a2a" opacity="0.55"/><ellipse cx="212" cy="822" rx="6.9" ry="4.8" transform="rotate(12 212 822)" fill="#2a2a2a" opacity="0.55"/><ellipse cx="705" cy="706" rx="19.2" ry="7.4" transform="rotate(3 705 706)" fill="#2a2a2a" opacity="0.55"/><ellipse cx="313" cy="652" rx="15.6" ry="3.3" transform="rotate(7 313 652)" fill="#2a2a2a" opacity="0.55"/><ellipse cx="234" cy="651" rx="14.6" ry="5.0" transform="rotate(-22 234 651)" fill="#2a2a2a" opacity="0.55"/><ellipse cx="171" cy="813" rx="11.4" ry="6.9" transform="rotate(6 171 813)" fill="#2a2a2a" opacity="0.55"/><ellipse cx="57" cy="692" rx="14.4" ry="4.2" transform="rotate(-18 57 692)" fill="#2a2a2a" opacity="0.55"/><ellipse cx="835" cy="688" rx="15.2" ry="5.2" transform="rotate(24 835 688)" fill="#2a2a2a" opacity="0.55"/><ellipse cx="232" cy="608" rx="15.1" ry="6.5" transform="rotate(17 232 608)" fill="#2a2a2a" opacity="0.55"/><ellipse cx="141" cy="648" rx="12.6" ry="4.4" transform="rotate(-19 141 648)" fill="#2a2a2a" opacity="0.55"/><ellipse cx="165" cy="612" rx="12.0" ry="3.7" transform="rotate(-24 165 612)" fill="#2a2a2a" opacity="0.55"/><ellipse cx="129" cy="790" rx="15.0" ry="4.7" transform="rotate(15 129 790)" fill="#2a2a2a" opacity="0.55"/><ellipse cx="90" cy="713" rx="19.1" ry="3.3" transform="rotate(-18 90 713)" fill="#2a2a2a" opacity="0.55"/><ellipse cx="429" cy="695" rx="7.0" ry="7.2" transform="rotate(15 429 695)" fill="#2a2a2a" opacity="0.55"/><ellipse cx="512" cy="712" rx="13.8" ry="5.5" transform="rotate(3 512 712)" fill="#2a2a2a" opacity="0.55"/><ellipse cx="305" cy="820" rx="13.3" ry="4.2" transform="rotate(4 305 820)" fill="#2a2a2a" opacity="0.55"/><ellipse cx="662" cy="735" rx="10.5" ry="5.7" transform="rotate(10 662 735)" fill="#2a2a2a" opacity="0.55"/><ellipse cx="197" cy="839" rx="11.7" ry="5.1" transform="rotate(1 197 839)" fill="#2a2a2a" opacity="0.55"/><ellipse cx="648" cy="646" rx="8.6" ry="5.4" transform="rotate(-24 648 646)" fill="#2a2a2a" opacity="0.55"/><ellipse cx="394" cy="635" rx="8.8" ry="4.8" transform="rotate(20 394 635)" fill="#2a2a2a" opacity="0.55"/><ellipse cx="532" cy="676" rx="14.9" ry="5.5" transform="rotate(-25 532 676)" fill="#2a2a2a" opacity="0.55"/><ellipse cx="398" cy="790" rx="17.3" ry="7.8" transform="rotate(-24 398 790)" fill="#2a2a2a" opacity="0.55"/><ellipse cx="456" cy="703" rx="12.2" ry="7.1" transform="rotate(-3 456 703)" fill="#2a2a2a" opacity="0.55"/><ellipse cx="479" cy="805" rx="18.2" ry="5.9" transform="rotate(1 479 805)" fill="#2a2a2a" opacity="0.55"/><ellipse cx="134" cy="702" rx="8.7" ry="6.9" transform="rotate(9 134 702)" fill="#2a2a2a" opacity="0.55"/><ellipse cx="161" cy="756" rx="18.2" ry="7.2" transform="rotate(-6 161 756)" fill="#2a2a2a" opacity="0.55"/><ellipse cx="341" cy="743" rx="11.9" ry="7.9" transform="rotate(18 341 743)" fill="#2a2a2a" opacity="0.55"/><ellipse cx="752" cy="870" rx="7.5" ry="7.7" transform="rotate(-7 752 870)" fill="#2a2a2a" opacity="0.55"/><ellipse cx="259" cy="762" rx="11.6" ry="4.0" transform="rotate(24 259 762)" fill="#2a2a2a" opacity="0.55"/><ellipse cx="198" cy="623" rx="11.5" ry="7.1" transform="rotate(15 198 623)" fill="#2a2a2a" opacity="0.55"/><ellipse cx="409" cy="709" rx="8.0" ry="7.0" transform="rotate(13 409 709)" fill="#2a2a2a" opacity="0.55"/><ellipse cx="225" cy="781" rx="18.5" ry="4.8" transform="rotate(-13 225 781)" fill="#2a2a2a" opacity="0.55"/><ellipse cx="636" cy="768" rx="11.5" ry="3.0" transform="rotate(-9 636 768)" fill="#2a2a2a" opacity="0.55"/><ellipse cx="604" cy="651" rx="12.7" ry="6.9" transform="rotate(-8 604 651)" fill="#2a2a2a" opacity="0.55"/><ellipse cx="153" cy="782" rx="15.6" ry="6.0" transform="rotate(20 153 782)" fill="#2a2a2a" opacity="0.55"/><ellipse cx="345" cy="738" rx="12.3" ry="7.3" transform="rotate(-8 345 738)" fill="#2a2a2a" opacity="0.55"/><ellipse cx="243" cy="699" rx="17.5" ry="6.7" transform="rotate(-16 243 699)" fill="#2a2a2a" opacity="0.55"/><ellipse cx="692" cy="867" rx="10.7" ry="6.9" transform="rotate(10 692 867)" fill="#2a2a2a" opacity="0.55"/><ellipse cx="536" cy="663" rx="6.0" ry="7.3" transform="rotate(-8 536 663)" fill="#2a2a2a" opacity="0.55"/><ellipse cx="697" cy="831" rx="18.0" ry="6.7" transform="rotate(11 697 831)" fill="#2a2a2a" opacity="0.55"/><ellipse cx="695" cy="854" rx="18.9" ry="7.4" transform="rotate(-9 695 854)" fill="#2a2a2a" opacity="0.55"/><ellipse cx="773" cy="625" rx="8.6" ry="7.3" transform="rotate(2 773 625)" fill="#2a2a2a" opacity="0.55"/><ellipse cx="799" cy="689" rx="6.9" ry="3.7" transform="rotate(19 799 689)" fill="#2a2a2a" opacity="0.55"/><ellipse cx="685" cy="716" rx="15.2" ry="3.2" transform="rotate(22 685 716)" fill="#2a2a2a" opacity="0.55"/><ellipse cx="276" cy="654" rx="12.8" ry="5.4" transform="rotate(-1 276 654)" fill="#2a2a2a" opacity="0.55"/><ellipse cx="616" cy="650" rx="17.1" ry="4.6" transform="rotate(-5 616 650)" fill="#2a2a2a" opacity="0.55"/><ellipse cx="755" cy="800" rx="16.2" ry="7.0" transform="rotate(-4 755 800)" fill="#2a2a2a" opacity="0.55"/><ellipse cx="325" cy="741" rx="17.9" ry="3.9" transform="rotate(10 325 741)" fill="#2a2a2a" opacity="0.55"/><ellipse cx="425" cy="855" rx="15.9" ry="7.6" transform="rotate(-4 425 855)" fill="#2a2a2a" opacity="0.55"/><ellipse cx="415" cy="667" rx="8.9" ry="4.6" transform="rotate(-14 415 667)" fill="#2a2a2a" opacity="0.55"/><ellipse cx="543" cy="754" rx="16.3" ry="6.8" transform="rotate(24 543 754)" fill="#2a2a2a" opacity="0.55"/></g>
<line x1="467" y1="762" x2="513" y2="761" stroke="#8e8e8e" stroke-width="3.6" opacity="0.45" stroke-linecap="round"/><line x1="314" y1="732" x2="356" y2="735" stroke="#8e8e8e" stroke-width="5.0" opacity="0.45" stroke-linecap="round"/><line x1="510" y1="867" x2="545" y2="873" stroke="#8e8e8e" stroke-width="3.9" opacity="0.45" stroke-linecap="round"/><line x1="413" y1="656" x2="471" y2="618" stroke="#8e8e8e" stroke-width="4.0" opacity="0.45" stroke-linecap="round"/><line x1="325" y1="676" x2="391" y2="661" stroke="#8e8e8e" stroke-width="3.8" opacity="0.45" stroke-linecap="round"/><line x1="571" y1="746" x2="567" y2="774" stroke="#8e8e8e" stroke-width="3.0" opacity="0.45" stroke-linecap="round"/><line x1="460" y1="668" x2="472" y2="700" stroke="#8e8e8e" stroke-width="3.7" opacity="0.45" stroke-linecap="round"/><line x1="559" y1="787" x2="608" y2="824" stroke="#8e8e8e" stroke-width="3.1" opacity="0.45" stroke-linecap="round"/><line x1="574" y1="689" x2="619" y2="667" stroke="#8e8e8e" stroke-width="3.5" opacity="0.45" stroke-linecap="round"/><line x1="584" y1="855" x2="622" y2="855" stroke="#8e8e8e" stroke-width="4.5" opacity="0.45" stroke-linecap="round"/><line x1="334" y1="665" x2="385" y2="651" stroke="#8e8e8e" stroke-width="4.3" opacity="0.45" stroke-linecap="round"/><line x1="489" y1="862" x2="523" y2="848" stroke="#8e8e8e" stroke-width="4.8" opacity="0.45" stroke-linecap="round"/><line x1="722" y1="607" x2="749" y2="596" stroke="#8e8e8e" stroke-width="4.4" opacity="0.45" stroke-linecap="round"/><line x1="184" y1="811" x2="241" y2="838" stroke="#8e8e8e" stroke-width="4.6" opacity="0.45" stroke-linecap="round"/><line x1="258" y1="851" x2="285" y2="847" stroke="#8e8e8e" stroke-width="4.6" opacity="0.45" stroke-linecap="round"/><line x1="651" y1="739" x2="696" y2="725" stroke="#8e8e8e" stroke-width="3.1" opacity="0.45" stroke-linecap="round"/><line x1="618" y1="858" x2="661" y2="855" stroke="#8e8e8e" stroke-width="3.8" opacity="0.45" stroke-linecap="round"/><line x1="779" y1="650" x2="822" y2="662" stroke="#8e8e8e" stroke-width="3.6" opacity="0.45" stroke-linecap="round"/><line x1="150" y1="783" x2="144" y2="798" stroke="#8e8e8e" stroke-width="4.6" opacity="0.45" stroke-linecap="round"/><line x1="450" y1="839" x2="507" y2="853" stroke="#8e8e8e" stroke-width="3.2" opacity="0.45" stroke-linecap="round"/><line x1="146" y1="617" x2="197" y2="632" stroke="#8e8e8e" stroke-width="3.8" opacity="0.45" stroke-linecap="round"/><line x1="338" y1="831" x2="322" y2="863" stroke="#8e8e8e" stroke-width="3.8" opacity="0.45" stroke-linecap="round"/><line x1="678" y1="648" x2="722" y2="664" stroke="#8e8e8e" stroke-width="4.4" opacity="0.45" stroke-linecap="round"/><line x1="124" y1="846" x2="145" y2="856" stroke="#8e8e8e" stroke-width="4.2" opacity="0.45" stroke-linecap="round"/><line x1="228" y1="811" x2="283" y2="791" stroke="#8e8e8e" stroke-width="3.8" opacity="0.45" stroke-linecap="round"/><line x1="726" y1="655" x2="734" y2="677" stroke="#8e8e8e" stroke-width="3.3" opacity="0.45" stroke-linecap="round"/><line x1="458" y1="725" x2="479" y2="739" stroke="#8e8e8e" stroke-width="4.0" opacity="0.45" stroke-linecap="round"/><line x1="269" y1="707" x2="334" y2="700" stroke="#8e8e8e" stroke-width="4.8" opacity="0.45" stroke-linecap="round"/><line x1="366" y1="829" x2="370" y2="843" stroke="#8e8e8e" stroke-width="3.2" opacity="0.45" stroke-linecap="round"/><line x1="742" y1="840" x2="741" y2="876" stroke="#8e8e8e" stroke-width="4.8" opacity="0.45" stroke-linecap="round"/><line x1="618" y1="590" x2="674" y2="631" stroke="#8e8e8e" stroke-width="3.0" opacity="0.45" stroke-linecap="round"/><line x1="611" y1="765" x2="617" y2="776" stroke="#8e8e8e" stroke-width="4.4" opacity="0.45" stroke-linecap="round"/><line x1="652" y1="681" x2="651" y2="698" stroke="#8e8e8e" stroke-width="3.5" opacity="0.45" stroke-linecap="round"/><line x1="767" y1="594" x2="798" y2="600" stroke="#8e8e8e" stroke-width="3.2" opacity="0.45" stroke-linecap="round"/><line x1="357" y1="669" x2="413" y2="647" stroke="#8e8e8e" stroke-width="4.3" opacity="0.45" stroke-linecap="round"/><line x1="380" y1="603" x2="368" y2="628" stroke="#8e8e8e" stroke-width="3.4" opacity="0.45" stroke-linecap="round"/><line x1="802" y1="635" x2="819" y2="621" stroke="#8e8e8e" stroke-width="4.8" opacity="0.45" stroke-linecap="round"/><line x1="267" y1="687" x2="304" y2="694" stroke="#8e8e8e" stroke-width="3.9" opacity="0.45" stroke-linecap="round"/><line x1="564" y1="667" x2="590" y2="673" stroke="#8e8e8e" stroke-width="3.0" opacity="0.45" stroke-linecap="round"/><line x1="393" y1="827" x2="441" y2="839" stroke="#8e8e8e" stroke-width="3.4" opacity="0.45" stroke-linecap="round"/><line x1="363" y1="631" x2="428" y2="639" stroke="#8e8e8e" stroke-width="4.3" opacity="0.45" stroke-linecap="round"/><line x1="320" y1="789" x2="354" y2="789" stroke="#8e8e8e" stroke-width="4.6" opacity="0.45" stroke-linecap="round"/><line x1="247" y1="801" x2="246" y2="830" stroke="#8e8e8e" stroke-width="3.2" opacity="0.45" stroke-linecap="round"/><line x1="546" y1="812" x2="585" y2="808" stroke="#8e8e8e" stroke-width="4.1" opacity="0.45" stroke-linecap="round"/><line x1="819" y1="826" x2="813" y2="858" stroke="#8e8e8e" stroke-width="3.4" opacity="0.45" stroke-linecap="round"/><line x1="604" y1="773" x2="656" y2="736" stroke="#8e8e8e" stroke-width="3.7" opacity="0.45" stroke-linecap="round"/><line x1="322" y1="662" x2="383" y2="658" stroke="#8e8e8e" stroke-width="3.2" opacity="0.45" stroke-linecap="round"/><line x1="489" y1="767" x2="514" y2="761" stroke="#8e8e8e" stroke-width="4.1" opacity="0.45" stroke-linecap="round"/><line x1="117" y1="865" x2="111" y2="888" stroke="#8e8e8e" stroke-width="4.8" opacity="0.45" stroke-linecap="round"/><line x1="398" y1="695" x2="385" y2="723" stroke="#8e8e8e" stroke-width="4.3" opacity="0.45" stroke-linecap="round"/><line x1="444" y1="719" x2="500" y2="738" stroke="#8e8e8e" stroke-width="3.6" opacity="0.45" stroke-linecap="round"/><line x1="375" y1="606" x2="410" y2="585" stroke="#8e8e8e" stroke-width="3.7" opacity="0.45" stroke-linecap="round"/><line x1="309" y1="651" x2="339" y2="639" stroke="#8e8e8e" stroke-width="3.9" opacity="0.45" stroke-linecap="round"/><line x1="481" y1="679" x2="474" y2="719" stroke="#8e8e8e" stroke-width="3.0" opacity="0.45" stroke-linecap="round"/><line x1="831" y1="797" x2="862" y2="794" stroke="#8e8e8e" stroke-width="4.5" opacity="0.45" stroke-linecap="round"/><line x1="668" y1="752" x2="697" y2="759" stroke="#8e8e8e" stroke-width="3.3" opacity="0.45" stroke-linecap="round"/><line x1="99" y1="737" x2="163" y2="722" stroke="#8e8e8e" stroke-width="3.2" opacity="0.45" stroke-linecap="round"/><line x1="740" y1="838" x2="773" y2="849" stroke="#8e8e8e" stroke-width="3.9" opacity="0.45" stroke-linecap="round"/><line x1="742" y1="603" x2="771" y2="586" stroke="#8e8e8e" stroke-width="4.5" opacity="0.45" stroke-linecap="round"/><line x1="234" y1="775" x2="279" y2="779" stroke="#8e8e8e" stroke-width="4.1" opacity="0.45" stroke-linecap="round"/><line x1="492" y1="679" x2="526" y2="662" stroke="#8e8e8e" stroke-width="4.6" opacity="0.45" stroke-linecap="round"/><line x1="233" y1="755" x2="244" y2="776" stroke="#8e8e8e" stroke-width="4.5" opacity="0.45" stroke-linecap="round"/><line x1="159" y1="669" x2="201" y2="650" stroke="#8e8e8e" stroke-width="3.9" opacity="0.45" stroke-linecap="round"/><line x1="229" y1="780" x2="271" y2="811" stroke="#8e8e8e" stroke-width="4.6" opacity="0.45" stroke-linecap="round"/><line x1="541" y1="750" x2="562" y2="744" stroke="#8e8e8e" stroke-width="3.1" opacity="0.45" stroke-linecap="round"/><line x1="132" y1="821" x2="132" y2="836" stroke="#8e8e8e" stroke-width="3.8" opacity="0.45" stroke-linecap="round"/><line x1="263" y1="718" x2="290" y2="738" stroke="#8e8e8e" stroke-width="3.3" opacity="0.45" stroke-linecap="round"/><line x1="634" y1="636" x2="687" y2="657" stroke="#8e8e8e" stroke-width="4.0" opacity="0.45" stroke-linecap="round"/><line x1="638" y1="812" x2="698" y2="821" stroke="#8e8e8e" stroke-width="4.5" opacity="0.45" stroke-linecap="round"/><line x1="353" y1="693" x2="404" y2="728" stroke="#8e8e8e" stroke-width="4.8" opacity="0.45" stroke-linecap="round"/><line x1="674" y1="785" x2="709" y2="773" stroke="#8e8e8e" stroke-width="4.4" opacity="0.45" stroke-linecap="round"/><line x1="416" y1="652" x2="422" y2="668" stroke="#8e8e8e" stroke-width="4.1" opacity="0.45" stroke-linecap="round"/><line x1="98" y1="703" x2="124" y2="718" stroke="#8e8e8e" stroke-width="4.0" opacity="0.45" stroke-linecap="round"/><line x1="420" y1="595" x2="418" y2="632" stroke="#8e8e8e" stroke-width="4.6" opacity="0.45" stroke-linecap="round"/><line x1="716" y1="858" x2="696" y2="892" stroke="#8e8e8e" stroke-width="5.0" opacity="0.45" stroke-linecap="round"/><line x1="557" y1="836" x2="558" y2="856" stroke="#8e8e8e" stroke-width="5.0" opacity="0.45" stroke-linecap="round"/><line x1="605" y1="719" x2="638" y2="705" stroke="#8e8e8e" stroke-width="3.6" opacity="0.45" stroke-linecap="round"/><line x1="436" y1="750" x2="476" y2="755" stroke="#8e8e8e" stroke-width="4.0" opacity="0.45" stroke-linecap="round"/><line x1="434" y1="826" x2="498" y2="834" stroke="#8e8e8e" stroke-width="3.6" opacity="0.45" stroke-linecap="round"/><line x1="182" y1="678" x2="207" y2="688" stroke="#8e8e8e" stroke-width="4.3" opacity="0.45" stroke-linecap="round"/><line x1="226" y1="627" x2="208" y2="657" stroke="#8e8e8e" stroke-width="4.5" opacity="0.45" stroke-linecap="round"/><line x1="806" y1="865" x2="855" y2="899" stroke="#8e8e8e" stroke-width="3.3" opacity="0.45" stroke-linecap="round"/><line x1="325" y1="740" x2="371" y2="716" stroke="#8e8e8e" stroke-width="4.5" opacity="0.45" stroke-linecap="round"/><line x1="809" y1="723" x2="867" y2="756" stroke="#8e8e8e" stroke-width="3.4" opacity="0.45" stroke-linecap="round"/><line x1="355" y1="776" x2="348" y2="812" stroke="#8e8e8e" stroke-width="3.1" opacity="0.45" stroke-linecap="round"/><line x1="297" y1="605" x2="337" y2="582" stroke="#8e8e8e" stroke-width="3.8" opacity="0.45" stroke-linecap="round"/><line x1="687" y1="681" x2="687" y2="722" stroke="#8e8e8e" stroke-width="4.0" opacity="0.45" stroke-linecap="round"/><line x1="714" y1="597" x2="741" y2="587" stroke="#8e8e8e" stroke-width="4.6" opacity="0.45" stroke-linecap="round"/><line x1="573" y1="656" x2="609" y2="671" stroke="#8e8e8e" stroke-width="3.2" opacity="0.45" stroke-linecap="round"/><line x1="336" y1="597" x2="376" y2="581" stroke="#8e8e8e" stroke-width="3.7" opacity="0.45" stroke-linecap="round"/><line x1="730" y1="613" x2="751" y2="601" stroke="#8e8e8e" stroke-width="3.9" opacity="0.45" stroke-linecap="round"/><line x1="781" y1="794" x2="810" y2="777" stroke="#8e8e8e" stroke-width="4.7" opacity="0.45" stroke-linecap="round"/><line x1="230" y1="804" x2="261" y2="827" stroke="#8e8e8e" stroke-width="3.3" opacity="0.45" stroke-linecap="round"/><line x1="684" y1="755" x2="723" y2="756" stroke="#8e8e8e" stroke-width="4.0" opacity="0.45" stroke-linecap="round"/><line x1="495" y1="729" x2="490" y2="740" stroke="#8e8e8e" stroke-width="3.0" opacity="0.45" stroke-linecap="round"/><line x1="498" y1="661" x2="551" y2="671" stroke="#8e8e8e" stroke-width="4.6" opacity="0.45" stroke-linecap="round"/><line x1="826" y1="623" x2="857" y2="622" stroke="#8e8e8e" stroke-width="3.8" opacity="0.45" stroke-linecap="round"/><line x1="217" y1="737" x2="247" y2="717" stroke="#8e8e8e" stroke-width="3.9" opacity="0.45" stroke-linecap="round"/><line x1="712" y1="619" x2="744" y2="600" stroke="#8e8e8e" stroke-width="3.9" opacity="0.45" stroke-linecap="round"/><line x1="528" y1="604" x2="569" y2="598" stroke="#8e8e8e" stroke-width="3.5" opacity="0.45" stroke-linecap="round"/><line x1="823" y1="682" x2="868" y2="680" stroke="#8e8e8e" stroke-width="3.1" opacity="0.45" stroke-linecap="round"/><line x1="86" y1="846" x2="99" y2="885" stroke="#8e8e8e" stroke-width="3.6" opacity="0.45" stroke-linecap="round"/><line x1="82" y1="686" x2="115" y2="678" stroke="#8e8e8e" stroke-width="4.1" opacity="0.45" stroke-linecap="round"/><line x1="834" y1="676" x2="856" y2="684" stroke="#8e8e8e" stroke-width="4.6" opacity="0.45" stroke-linecap="round"/><line x1="345" y1="818" x2="369" y2="826" stroke="#8e8e8e" stroke-width="4.1" opacity="0.45" stroke-linecap="round"/><line x1="535" y1="720" x2="576" y2="718" stroke="#8e8e8e" stroke-width="4.7" opacity="0.45" stroke-linecap="round"/><line x1="317" y1="746" x2="352" y2="728" stroke="#8e8e8e" stroke-width="3.0" opacity="0.45" stroke-linecap="round"/><line x1="740" y1="604" x2="767" y2="613" stroke="#8e8e8e" stroke-width="3.6" opacity="0.45" stroke-linecap="round"/><line x1="436" y1="851" x2="487" y2="841" stroke="#8e8e8e" stroke-width="3.5" opacity="0.45" stroke-linecap="round"/><line x1="129" y1="796" x2="184" y2="820" stroke="#8e8e8e" stroke-width="4.4" opacity="0.45" stroke-linecap="round"/>
</g></g>
<rect x="50.5" y="974.5" width="291" height="278" fill="#9c9c9c" stroke="#000" stroke-width="7"/>
<rect x="140.6" y="978" width="102.7" height="271" fill="#fff"/>
<polygon points="167.8,992.0 209.0,992.0 209.0,1076.7 229.2,1076.7 189.0,1194.5 147.7,1076.7 167.8,1076.7" fill="url(#chanArr)" filter="url(#blur1)"/>
<circle cx="131" cy="1029.4" r="31" fill="url(#gel)" stroke="#000" stroke-width="7.4"/>
<path d="M131.0,1029.4 C132.1,1028.9 135.3,1025.9 137.7,1026.5 C140.0,1027.2 142.6,1032.1 145.0,1033.3 C147.5,1034.4 151.3,1033.3 152.5,1033.3" fill="none" stroke="#a8a8a8" stroke-width="1.6" opacity="0.45"/><path d="M131.0,1029.4 C130.6,1030.6 129.8,1034.2 128.7,1036.3 C127.6,1038.5 124.4,1039.9 124.3,1042.3 C124.2,1044.8 127.5,1049.6 128.2,1051.1" fill="none" stroke="#a8a8a8" stroke-width="1.6" opacity="0.45"/><path d="M131.0,1029.4 C129.9,1029.0 126.6,1027.2 124.2,1026.8 C121.8,1026.4 118.9,1027.7 116.7,1026.7 C114.4,1025.8 111.7,1022.2 110.7,1021.3" fill="none" stroke="#a8a8a8" stroke-width="1.6" opacity="0.45"/><path d="M131.0,1029.4 C130.6,1028.2 128.4,1024.8 128.9,1022.4 C129.4,1020.1 132.9,1017.5 134.0,1015.2 C135.2,1012.8 135.4,1009.3 135.7,1008.1" fill="none" stroke="#a8a8a8" stroke-width="1.6" opacity="0.45"/>
<circle cx="131" cy="1110" r="31" fill="url(#gel)" stroke="#000" stroke-width="7.4"/>
<path d="M131.0,1110.0 C132.0,1110.7 134.7,1114.1 137.1,1114.0 C139.5,1113.9 143.2,1108.6 145.5,1109.4 C147.9,1110.1 150.1,1117.1 151.1,1118.6" fill="none" stroke="#a8a8a8" stroke-width="1.6" opacity="0.45"/><path d="M131.0,1110.0 C131.3,1111.2 131.4,1115.2 133.0,1117.0 C134.6,1118.8 139.9,1118.6 140.7,1120.9 C141.4,1123.2 138.1,1129.2 137.5,1130.8" fill="none" stroke="#a8a8a8" stroke-width="1.6" opacity="0.45"/><path d="M131.0,1110.0 C129.8,1110.3 126.4,1111.9 124.0,1112.0 C121.6,1112.0 118.9,1110.5 116.4,1110.2 C114.0,1109.9 110.4,1110.2 109.2,1110.2" fill="none" stroke="#a8a8a8" stroke-width="1.6" opacity="0.45"/><path d="M131.0,1110.0 C131.7,1109.0 135.4,1106.7 135.5,1104.3 C135.6,1101.8 132.0,1098.1 131.5,1095.4 C131.0,1092.8 132.2,1089.4 132.4,1088.2" fill="none" stroke="#a8a8a8" stroke-width="1.6" opacity="0.45"/>
<circle cx="131" cy="1197.5" r="31" fill="url(#gel)" stroke="#000" stroke-width="7.4"/>
<path d="M131.0,1197.5 C132.2,1197.1 135.6,1194.7 138.0,1195.4 C140.3,1196.1 142.6,1200.5 144.9,1201.7 C147.3,1203.0 151.0,1202.6 152.2,1202.8" fill="none" stroke="#a8a8a8" stroke-width="1.6" opacity="0.45"/><path d="M131.0,1197.5 C130.7,1198.7 129.0,1202.1 129.2,1204.6 C129.5,1207.0 131.8,1209.5 132.6,1212.0 C133.3,1214.4 133.5,1218.0 133.7,1219.2" fill="none" stroke="#a8a8a8" stroke-width="1.6" opacity="0.45"/><path d="M131.0,1197.5 C129.8,1197.8 125.9,1200.8 123.9,1199.3 C122.0,1197.8 121.8,1188.3 119.4,1188.7 C117.0,1189.1 111.2,1199.6 109.6,1201.8" fill="none" stroke="#a8a8a8" stroke-width="1.6" opacity="0.45"/><path d="M131.0,1197.5 C131.1,1196.3 131.1,1192.6 131.6,1190.2 C132.2,1187.9 136.3,1185.3 134.4,1183.3 C132.5,1181.4 122.5,1179.3 120.2,1178.5" fill="none" stroke="#a8a8a8" stroke-width="1.6" opacity="0.45"/>
<circle cx="246.3" cy="1029.4" r="31" fill="url(#gel)" stroke="#000" stroke-width="7.4"/>
<path d="M246.3,1029.4 C247.5,1029.7 250.9,1031.6 253.3,1031.4 C255.7,1031.1 258.5,1027.0 260.8,1027.8 C263.1,1028.6 266.0,1034.7 267.1,1036.1" fill="none" stroke="#a8a8a8" stroke-width="1.6" opacity="0.45"/><path d="M246.3,1029.4 C246.3,1030.6 246.3,1034.3 246.4,1036.7 C246.5,1039.1 247.4,1041.6 246.8,1044.0 C246.1,1046.3 243.2,1049.8 242.5,1050.9" fill="none" stroke="#a8a8a8" stroke-width="1.6" opacity="0.45"/><path d="M246.3,1029.4 C245.3,1028.7 242.6,1026.2 240.4,1025.2 C238.1,1024.2 235.3,1024.4 233.0,1023.4 C230.8,1022.4 228.0,1020.0 226.9,1019.3" fill="none" stroke="#a8a8a8" stroke-width="1.6" opacity="0.45"/><path d="M246.3,1029.4 C246.9,1028.4 249.6,1025.6 250.2,1023.2 C250.7,1020.9 247.8,1017.0 249.4,1015.2 C251.0,1013.3 258.0,1012.7 259.7,1012.2" fill="none" stroke="#a8a8a8" stroke-width="1.6" opacity="0.45"/>
<circle cx="246.3" cy="1110" r="31" fill="url(#gel)" stroke="#000" stroke-width="7.4"/>
<path d="M246.3,1110.0 C247.5,1110.0 251.2,1109.8 253.6,1109.8 C256.0,1109.8 258.7,1108.4 260.9,1109.8 C263.0,1111.3 265.6,1116.9 266.5,1118.3" fill="none" stroke="#a8a8a8" stroke-width="1.6" opacity="0.45"/><path d="M246.3,1110.0 C246.4,1111.2 246.7,1114.8 246.7,1117.3 C246.6,1119.7 245.0,1122.3 245.9,1124.6 C246.8,1126.9 251.0,1130.0 252.0,1131.1" fill="none" stroke="#a8a8a8" stroke-width="1.6" opacity="0.45"/><path d="M246.3,1110.0 C245.1,1109.9 241.4,1110.2 239.0,1109.7 C236.7,1109.2 234.4,1107.6 232.0,1107.1 C229.7,1106.5 225.9,1106.7 224.7,1106.6" fill="none" stroke="#a8a8a8" stroke-width="1.6" opacity="0.45"/><path d="M246.3,1110.0 C245.7,1109.0 243.2,1106.1 242.6,1103.7 C242.0,1101.4 241.9,1098.5 242.6,1095.9 C243.4,1093.3 246.3,1089.5 247.0,1088.2" fill="none" stroke="#a8a8a8" stroke-width="1.6" opacity="0.45"/>
<circle cx="246.3" cy="1197.5" r="31" fill="url(#gel)" stroke="#000" stroke-width="7.4"/>
<path d="M246.3,1197.5 C247.5,1197.6 251.3,1199.2 253.5,1198.3 C255.8,1197.3 257.4,1193.1 259.7,1191.8 C261.9,1190.5 265.7,1190.6 267.0,1190.4" fill="none" stroke="#a8a8a8" stroke-width="1.6" opacity="0.45"/><path d="M246.3,1197.5 C246.4,1198.7 248.3,1202.7 247.0,1204.7 C245.7,1206.8 239.7,1207.6 238.7,1209.9 C237.6,1212.2 240.3,1217.2 240.7,1218.6" fill="none" stroke="#a8a8a8" stroke-width="1.6" opacity="0.45"/><path d="M246.3,1197.5 C245.1,1197.9 241.7,1199.2 239.4,1199.8 C237.0,1200.3 233.9,1199.2 232.2,1201.0 C230.4,1202.9 229.6,1209.2 229.0,1210.9" fill="none" stroke="#a8a8a8" stroke-width="1.6" opacity="0.45"/><path d="M246.3,1197.5 C246.2,1196.3 245.9,1192.7 245.6,1190.3 C245.4,1187.8 243.5,1185.2 244.8,1183.0 C246.1,1180.8 252.2,1178.0 253.7,1176.9" fill="none" stroke="#a8a8a8" stroke-width="1.6" opacity="0.45"/>
<rect x="116.5" y="1183.4" width="27" height="25" fill="none" stroke="#6a6a6a" stroke-width="2.5" opacity="0.8"/>
<rect x="560.6" y="974.5" width="291" height="278" fill="#9e9e9e" stroke="#000" stroke-width="7"/>
<rect x="657" y="978" width="88.5" height="271" fill="#fff"/>
<circle cx="646.3" cy="1023.4" r="42.3" fill="url(#gel2)" stroke="#000" stroke-width="7"/>
<path d="M646.3,1023.4 C648.0,1024.0 653.0,1027.8 656.4,1026.8 C659.8,1025.9 663.2,1017.2 666.8,1017.6 C670.3,1018.0 675.9,1027.1 677.7,1029.0" fill="none" stroke="#a8a8a8" stroke-width="1.6" opacity="0.45"/><path d="M646.3,1023.4 C646.5,1025.2 647.7,1030.4 647.6,1034.0 C647.5,1037.5 646.3,1041.1 645.4,1044.7 C644.6,1048.2 643.0,1053.4 642.5,1055.1" fill="none" stroke="#a8a8a8" stroke-width="1.6" opacity="0.45"/><path d="M646.3,1023.4 C644.5,1023.4 638.6,1021.6 635.7,1023.7 C632.8,1025.7 632.4,1036.8 628.9,1035.7 C625.5,1034.6 617.3,1020.2 615.0,1017.1" fill="none" stroke="#a8a8a8" stroke-width="1.6" opacity="0.45"/><path d="M646.3,1023.4 C646.7,1021.7 650.3,1016.2 648.8,1013.1 C647.2,1009.9 635.5,1007.5 637.0,1004.3 C638.5,1001.0 654.3,995.4 657.8,993.6" fill="none" stroke="#a8a8a8" stroke-width="1.6" opacity="0.45"/>
<circle cx="646.3" cy="1115" r="42.3" fill="url(#gel2)" stroke="#000" stroke-width="7"/>
<path d="M646.3,1115.0 C648.0,1114.6 653.4,1110.8 656.6,1112.3 C659.8,1113.8 662.2,1121.9 665.6,1124.0 C668.9,1126.1 674.8,1124.7 676.7,1124.8" fill="none" stroke="#a8a8a8" stroke-width="1.6" opacity="0.45"/><path d="M646.3,1115.0 C646.2,1116.8 645.2,1122.1 645.6,1125.6 C646.1,1129.1 650.5,1132.7 649.1,1136.1 C647.8,1139.4 639.7,1144.1 637.8,1145.8" fill="none" stroke="#a8a8a8" stroke-width="1.6" opacity="0.45"/><path d="M646.3,1115.0 C644.7,1114.2 639.9,1111.9 636.7,1110.4 C633.5,1109.0 630.5,1104.4 626.9,1106.3 C623.3,1108.3 617.2,1119.6 615.2,1122.2" fill="none" stroke="#a8a8a8" stroke-width="1.6" opacity="0.45"/><path d="M646.3,1115.0 C645.9,1113.3 643.8,1108.2 643.9,1104.6 C643.9,1101.1 645.4,1097.3 646.5,1093.7 C647.7,1090.2 650.2,1085.1 650.9,1083.4" fill="none" stroke="#a8a8a8" stroke-width="1.6" opacity="0.45"/>
<circle cx="646.3" cy="1204.6" r="42.3" fill="url(#gel2)" stroke="#000" stroke-width="7"/>
<path d="M646.3,1204.6 C647.9,1203.8 652.4,1200.6 655.9,1200.1 C659.5,1199.6 663.7,1201.8 667.4,1201.8 C671.0,1201.7 676.1,1200.0 677.8,1199.7" fill="none" stroke="#a8a8a8" stroke-width="1.6" opacity="0.45"/><path d="M646.3,1204.6 C646.8,1206.3 647.8,1211.6 649.1,1214.9 C650.3,1218.2 652.5,1221.2 653.7,1224.6 C654.9,1227.9 656.0,1233.1 656.5,1234.9" fill="none" stroke="#a8a8a8" stroke-width="1.6" opacity="0.45"/><path d="M646.3,1204.6 C644.7,1203.9 639.8,1199.7 636.4,1200.7 C633.0,1201.7 629.0,1212.3 625.9,1210.7 C622.8,1209.0 619.0,1193.9 617.6,1190.6" fill="none" stroke="#a8a8a8" stroke-width="1.6" opacity="0.45"/><path d="M646.3,1204.6 C647.1,1203.0 649.7,1198.4 651.3,1195.2 C653.0,1192.1 655.2,1189.2 656.2,1185.8 C657.2,1182.3 657.1,1176.5 657.3,1174.6" fill="none" stroke="#a8a8a8" stroke-width="1.6" opacity="0.45"/>
<circle cx="757.4" cy="1023.4" r="42.3" fill="url(#gel2)" stroke="#000" stroke-width="7"/>
<path d="M757.4,1023.4 C759.2,1023.3 764.7,1021.5 768.0,1022.8 C771.3,1024.1 773.6,1030.6 777.2,1031.3 C780.7,1032.0 787.1,1027.6 789.1,1026.9" fill="none" stroke="#a8a8a8" stroke-width="1.6" opacity="0.45"/><path d="M757.4,1023.4 C758.1,1025.0 761.6,1029.6 761.8,1033.1 C762.0,1036.6 756.4,1041.8 758.5,1044.6 C760.7,1047.5 771.9,1049.4 774.5,1050.3" fill="none" stroke="#a8a8a8" stroke-width="1.6" opacity="0.45"/><path d="M757.4,1023.4 C755.6,1023.2 750.4,1022.5 746.8,1022.2 C743.3,1022.0 738.5,1018.1 736.2,1021.8 C733.9,1025.4 733.6,1040.4 733.1,1044.1" fill="none" stroke="#a8a8a8" stroke-width="1.6" opacity="0.45"/><path d="M757.4,1023.4 C756.3,1022.0 751.3,1018.6 750.7,1015.1 C750.2,1011.6 751.6,1006.0 754.3,1002.4 C757.0,998.7 764.8,994.5 767.0,992.9" fill="none" stroke="#a8a8a8" stroke-width="1.6" opacity="0.45"/>
<circle cx="757.4" cy="1115" r="42.3" fill="url(#gel2)" stroke="#000" stroke-width="7"/>
<path d="M757.4,1115.0 C759.2,1114.8 764.5,1114.5 767.9,1113.6 C771.4,1112.7 774.4,1109.0 777.9,1109.4 C781.5,1109.7 787.4,1114.6 789.3,1115.6" fill="none" stroke="#a8a8a8" stroke-width="1.6" opacity="0.45"/><path d="M757.4,1115.0 C756.9,1116.7 753.2,1121.9 754.4,1125.2 C755.6,1128.6 766.7,1132.2 764.5,1135.1 C762.3,1137.9 745.1,1141.3 741.2,1142.5" fill="none" stroke="#a8a8a8" stroke-width="1.6" opacity="0.45"/><path d="M757.4,1115.0 C755.7,1115.4 750.4,1116.2 747.0,1117.3 C743.6,1118.4 740.2,1124.5 737.2,1121.7 C734.2,1118.8 730.5,1103.7 729.1,1100.2" fill="none" stroke="#a8a8a8" stroke-width="1.6" opacity="0.45"/><path d="M757.4,1115.0 C757.5,1113.2 755.9,1107.3 757.9,1104.4 C759.9,1101.4 767.8,1100.7 769.3,1097.4 C770.8,1094.1 767.2,1086.6 766.8,1084.5" fill="none" stroke="#a8a8a8" stroke-width="1.6" opacity="0.45"/>
<circle cx="757.4" cy="1204.6" r="42.3" fill="url(#gel2)" stroke="#000" stroke-width="7"/>
<path d="M757.4,1204.6 C759.0,1203.8 763.4,1200.0 767.0,1200.0 C770.5,1199.9 775.0,1204.3 778.7,1204.4 C782.4,1204.6 787.4,1201.6 789.1,1201.0" fill="none" stroke="#a8a8a8" stroke-width="1.6" opacity="0.45"/><path d="M757.4,1204.6 C757.7,1206.3 760.5,1211.7 759.4,1215.0 C758.4,1218.4 750.3,1221.4 750.9,1224.9 C751.4,1228.4 760.8,1234.2 762.8,1236.1" fill="none" stroke="#a8a8a8" stroke-width="1.6" opacity="0.45"/><path d="M757.4,1204.6 C755.8,1205.4 751.5,1209.9 748.0,1209.6 C744.5,1209.3 739.8,1202.2 736.2,1202.6 C732.6,1202.9 727.9,1210.2 726.3,1211.7" fill="none" stroke="#a8a8a8" stroke-width="1.6" opacity="0.45"/><path d="M757.4,1204.6 C757.9,1202.9 759.0,1197.7 760.4,1194.4 C761.8,1191.1 767.0,1188.5 765.6,1185.0 C764.2,1181.4 754.2,1175.1 751.9,1173.2" fill="none" stroke="#a8a8a8" stroke-width="1.6" opacity="0.45"/>
<path d="M703.5 1019.4V1080.8M703.5 1101V1141.2M703.5 1162V1185" stroke="#000" stroke-width="3"/>
<polygon points="703.5,1214.7 695.0,1166.4 703.5,1179.4 712.1,1166.4" fill="#000"/>
<rect x="629.6" y="1193.5" width="39.5" height="32" fill="none" stroke="#666" stroke-width="2.5" opacity="0.8"/>
<polygon points="356.0,1128.0 457.8,1128.0 457.8,1112.0 532.0,1141.7 457.8,1171.8 457.8,1155.8 356.0,1155.8" fill="url(#pbArr)" stroke="#000" stroke-width="3" stroke-linejoin="miter"/>
<text x="385.3" y="1094.4" font-family="Liberation Serif" font-size="63">Pb</text>
<text x="457.2" y="1072.6" font-family="Liberation Serif" font-size="42">2</text>
<text x="477.5" y="1074" font-family="Liberation Serif" font-size="44">+</text>
<path d="M121.5 1207.1L23.9 1327M142.6 1207.1L349 1326M633.6 1226.2L510.9 1302.6M671.9 1226.2L897.8 1306.2" stroke="#000" stroke-width="3" fill="none"/>
<clipPath id="zb1"><rect x="9.7" y="1329.5" width="366.0" height="274.5" rx="22"/></clipPath>
<rect x="9.7" y="1329.5" width="366.0" height="274.5" rx="22" fill="#f9f9f9"/>
<g clip-path="url(#zb1)">
<path d="M13,1375 C40,1385 55,1380 65,1370" fill="none" stroke="#959595" stroke-width="3"/>
<path d="M130,1330 C150,1360 135,1400 120,1430 C110,1450 135,1470 120,1500" fill="none" stroke="#959595" stroke-width="3"/>
<path d="M230,1330 C245,1350 255,1370 250,1400 C245,1430 220,1420 200,1440 C180,1460 150,1420 120,1440 C90,1460 60,1420 30,1430" fill="none" stroke="#959595" stroke-width="3"/>
<path d="M25,1420 C40,1440 30,1480 20,1520 C15,1560 40,1580 60,1600" fill="none" stroke="#959595" stroke-width="3"/>
<path d="M290,1335 C270,1360 300,1380 310,1410 C320,1440 300,1470 350,1500 C370,1520 360,1560 375,1580" fill="none" stroke="#959595" stroke-width="3"/>
<path d="M100,1600 C110,1570 140,1560 160,1590" fill="none" stroke="#959595" stroke-width="3"/>
<path d="M140,1500 C170,1490 220,1500 230,1530 C240,1560 250,1590 260,1605" fill="none" stroke="#959595" stroke-width="3"/>
<path d="M210,1470 C230,1460 260,1500 290,1510 C320,1520 300,1560 330,1600" fill="none" stroke="#959595" stroke-width="3"/>
<path d="M330,1430 C350,1400 370,1390 378,1360" fill="none" stroke="#959595" stroke-width="3"/>
<path d="M40,1560 C60,1580 90,1600 120,1590 C140,1580 150,1600 170,1605" fill="none" stroke="#959595" stroke-width="3"/>
<path d="M60.8,1416.8 C69.8,1419.0 101.3,1417.2 115.1,1430.0 C129.0,1442.8 131.6,1480.6 144.1,1493.5 C156.7,1506.4 176.5,1500.2 190.4,1507.5 C204.4,1514.8 215.6,1526.9 227.7,1537.4 C239.7,1547.9 249.4,1560.5 262.9,1570.4 C276.5,1580.2 301.3,1592.1 309.0,1596.5" fill="none" stroke="#959595" stroke-width="3"/>
<path d="M161.9,1540.8 C170.1,1547.9 192.7,1573.5 211.5,1583.2 C230.2,1592.9 256.1,1599.1 274.4,1599.1 C292.7,1599.1 304.2,1592.6 321.2,1583.2 C338.2,1573.7 360.9,1555.2 376.2,1542.6 C391.5,1530.0 398.6,1513.9 413.2,1507.6 C427.8,1501.2 455.3,1504.9 463.8,1504.3" fill="none" stroke="#959595" stroke-width="3"/>
<path d="M249.3,1549.5 C255.7,1557.7 273.7,1585.4 288.0,1598.6 C302.3,1611.8 320.9,1624.7 335.2,1628.6 C349.5,1632.5 361.9,1628.5 373.8,1622.0 C385.7,1615.5 398.9,1603.7 406.7,1589.7 C414.6,1575.6 424.2,1550.6 420.9,1537.6 C417.6,1524.7 392.4,1516.4 386.7,1512.1" fill="none" stroke="#959595" stroke-width="3"/>
<path d="M297.5,1446.3 C288.1,1449.6 255.7,1467.1 241.4,1466.3 C227.2,1465.5 222.3,1448.5 211.8,1441.3 C201.4,1434.1 184.2,1426.3 178.6,1423.3" fill="none" stroke="#959595" stroke-width="3"/>
<path d="M132.2,1484.0 C131.3,1475.3 130.8,1451.5 127.1,1431.9 C123.3,1412.2 123.5,1378.4 109.6,1366.0 C95.8,1353.5 54.9,1358.7 43.9,1357.2" fill="none" stroke="#959595" stroke-width="3"/>
<path d="M65.3,1520.6 C75.0,1519.3 107.6,1521.6 123.5,1512.4 C139.3,1503.3 146.8,1475.5 160.5,1465.8 C174.2,1456.1 194.1,1452.3 205.9,1454.3 C217.6,1456.4 215.6,1474.7 231.1,1478.2 C246.6,1481.6 287.6,1475.5 298.9,1475.0" fill="none" stroke="#959595" stroke-width="3"/>
<path d="M228.3,1505.0 C239.0,1503.5 277.3,1494.5 292.5,1496.0 C307.7,1497.5 316.0,1500.7 319.7,1514.2 C323.5,1527.8 316.0,1566.8 315.2,1577.3" fill="none" stroke="#959595" stroke-width="3"/>
<path d="M307.6,1486.8 C305.2,1480.0 299.7,1456.6 293.4,1445.9 C287.1,1435.2 277.3,1434.2 270.0,1422.8 C262.7,1411.4 253.0,1385.1 249.6,1377.6" fill="none" stroke="#959595" stroke-width="3"/>
<path d="M339.7,1539.0 C335.1,1543.8 323.2,1562.7 311.7,1567.5 C300.1,1572.3 285.2,1573.1 270.4,1567.8 C255.7,1562.5 235.4,1549.4 223.3,1535.9 C211.2,1522.4 205.8,1502.8 197.9,1486.8 C189.9,1470.7 189.3,1445.9 175.6,1439.4 C161.9,1432.8 125.7,1446.2 115.7,1447.6" fill="none" stroke="#959595" stroke-width="3"/>
<path d="M65.5,1536.7 C63.3,1531.7 59.0,1514.1 52.1,1506.9 C45.3,1499.6 35.1,1493.9 24.3,1493.0 C13.5,1492.0 0.9,1494.8 -12.7,1501.2 C-26.3,1507.5 -42.3,1532.4 -57.2,1531.2 C-72.1,1530.1 -94.3,1509.4 -102.3,1494.5 C-110.3,1479.7 -104.8,1451.0 -105.2,1442.2" fill="none" stroke="#959595" stroke-width="3"/>
<path d="M13.1,1428.9 C20.1,1432.5 37.9,1451.5 55.3,1450.3 C72.8,1449.1 104.3,1431.4 117.9,1421.7 C131.5,1411.9 132.1,1403.5 136.9,1391.6 C141.7,1379.6 145.0,1356.9 146.6,1350.0" fill="none" stroke="#959595" stroke-width="3"/>
<path d="M167.2,1333.1 C173.9,1327.7 197.4,1311.8 207.3,1300.4 C217.3,1289.1 225.8,1277.2 226.8,1265.1 C227.8,1253.1 215.7,1234.2 213.5,1228.0" fill="none" stroke="#959595" stroke-width="3"/>
<g transform="translate(81 1387) rotate(-15)"><ellipse cx="0" cy="0" rx="29.7" ry="37.8" fill="#6c6c6c"/><circle cx="22.4" cy="0.0" r="11.9" fill="#6a6a6a" stroke="#606060" stroke-width="1"/><circle cx="18.2" cy="16.8" r="11.9" fill="#6a6a6a" stroke="#606060" stroke-width="1"/><circle cx="6.9" cy="27.2" r="11.9" fill="#6a6a6a" stroke="#606060" stroke-width="1"/><circle cx="-6.9" cy="27.2" r="11.9" fill="#6a6a6a" stroke="#606060" stroke-width="1"/><circle cx="-18.2" cy="16.8" r="11.9" fill="#6a6a6a" stroke="#606060" stroke-width="1"/><circle cx="-22.4" cy="0.0" r="11.9" fill="#6a6a6a" stroke="#606060" stroke-width="1"/><circle cx="-18.2" cy="-16.8" r="11.9" fill="#6a6a6a" stroke="#606060" stroke-width="1"/><circle cx="-6.9" cy="-27.2" r="11.9" fill="#6a6a6a" stroke="#606060" stroke-width="1"/><circle cx="6.9" cy="-27.2" r="11.9" fill="#6a6a6a" stroke="#606060" stroke-width="1"/><circle cx="18.2" cy="-16.8" r="11.9" fill="#6a6a6a" stroke="#606060" stroke-width="1"/><polygon points="18.6,8.5 4.3,6.4 3.5,24.8 -2.2,7.9 -15.1,16.3 -6.5,1.5 -18.6,-8.5 -4.3,-6.4 -3.5,-24.8 2.2,-7.9 15.1,-16.3 6.5,-1.5" fill="#c6c6c6"/><circle cx="0" cy="0" r="4.6" fill="#9c9c9c"/></g>
<g transform="translate(190 1381) rotate(0)"><ellipse cx="0" cy="0" rx="40.5" ry="24.3" fill="#6c6c6c"/><circle cx="30.6" cy="0.0" r="10.6" fill="#6a6a6a" stroke="#606060" stroke-width="1"/><circle cx="24.8" cy="10.8" r="10.6" fill="#6a6a6a" stroke="#606060" stroke-width="1"/><circle cx="9.5" cy="17.5" r="10.6" fill="#6a6a6a" stroke="#606060" stroke-width="1"/><circle cx="-9.5" cy="17.5" r="10.6" fill="#6a6a6a" stroke="#606060" stroke-width="1"/><circle cx="-24.8" cy="10.8" r="10.6" fill="#6a6a6a" stroke="#606060" stroke-width="1"/><circle cx="-30.6" cy="0.0" r="10.6" fill="#6a6a6a" stroke="#606060" stroke-width="1"/><circle cx="-24.8" cy="-10.8" r="10.6" fill="#6a6a6a" stroke="#606060" stroke-width="1"/><circle cx="-9.5" cy="-17.5" r="10.6" fill="#6a6a6a" stroke="#606060" stroke-width="1"/><circle cx="9.5" cy="-17.5" r="10.6" fill="#6a6a6a" stroke="#606060" stroke-width="1"/><circle cx="24.8" cy="-10.8" r="10.6" fill="#6a6a6a" stroke="#606060" stroke-width="1"/><polygon points="26.5,3.0 6.8,3.5 9.0,15.3 -1.6,5.3 -17.5,12.3 -8.5,1.8 -26.5,-3.0 -6.8,-3.5 -9.0,-15.3 1.6,-5.3 17.5,-12.3 8.5,-1.8" fill="#c6c6c6"/><circle cx="0" cy="0" r="3.8" fill="#9c9c9c"/></g>
<g transform="translate(322 1383) rotate(10)"><ellipse cx="0" cy="0" rx="27.0" ry="37.8" fill="#6c6c6c"/><circle cx="20.4" cy="0.0" r="11.2" fill="#6a6a6a" stroke="#606060" stroke-width="1"/><circle cx="16.5" cy="16.8" r="11.2" fill="#6a6a6a" stroke="#606060" stroke-width="1"/><circle cx="6.3" cy="27.2" r="11.2" fill="#6a6a6a" stroke="#606060" stroke-width="1"/><circle cx="-6.3" cy="27.2" r="11.2" fill="#6a6a6a" stroke="#606060" stroke-width="1"/><circle cx="-16.5" cy="16.8" r="11.2" fill="#6a6a6a" stroke="#606060" stroke-width="1"/><circle cx="-20.4" cy="0.0" r="11.2" fill="#6a6a6a" stroke="#606060" stroke-width="1"/><circle cx="-16.5" cy="-16.8" r="11.2" fill="#6a6a6a" stroke="#606060" stroke-width="1"/><circle cx="-6.3" cy="-27.2" r="11.2" fill="#6a6a6a" stroke="#606060" stroke-width="1"/><circle cx="6.3" cy="-27.2" r="11.2" fill="#6a6a6a" stroke="#606060" stroke-width="1"/><circle cx="16.5" cy="-16.8" r="11.2" fill="#6a6a6a" stroke="#606060" stroke-width="1"/><polygon points="17.5,5.9 4.3,5.8 5.1,24.2 -1.4,8.2 -12.4,18.2 -5.8,2.4 -17.5,-5.9 -4.3,-5.8 -5.1,-24.2 1.4,-8.2 12.4,-18.2 5.8,-2.4" fill="#c6c6c6"/><circle cx="0" cy="0" r="4.2" fill="#9c9c9c"/></g>
<g transform="translate(60 1481) rotate(20)"><ellipse cx="0" cy="0" rx="29.7" ry="34.2" fill="#6c6c6c"/><circle cx="22.4" cy="0.0" r="11.6" fill="#6a6a6a" stroke="#606060" stroke-width="1"/><circle cx="18.2" cy="15.2" r="11.6" fill="#6a6a6a" stroke="#606060" stroke-width="1"/><circle cx="6.9" cy="24.6" r="11.6" fill="#6a6a6a" stroke="#606060" stroke-width="1"/><circle cx="-6.9" cy="24.6" r="11.6" fill="#6a6a6a" stroke="#606060" stroke-width="1"/><circle cx="-18.2" cy="15.2" r="11.6" fill="#6a6a6a" stroke="#606060" stroke-width="1"/><circle cx="-22.4" cy="0.0" r="11.6" fill="#6a6a6a" stroke="#606060" stroke-width="1"/><circle cx="-18.2" cy="-15.2" r="11.6" fill="#6a6a6a" stroke="#606060" stroke-width="1"/><circle cx="-6.9" cy="-24.6" r="11.6" fill="#6a6a6a" stroke="#606060" stroke-width="1"/><circle cx="6.9" cy="-24.6" r="11.6" fill="#6a6a6a" stroke="#606060" stroke-width="1"/><circle cx="18.2" cy="-15.2" r="11.6" fill="#6a6a6a" stroke="#606060" stroke-width="1"/><polygon points="13.5,16.7 1.5,7.4 -5.9,21.8 -4.8,5.2 -19.3,5.1 -6.3,-2.2 -13.5,-16.7 -1.5,-7.4 5.9,-21.8 4.8,-5.2 19.3,-5.1 6.3,2.2" fill="#c6c6c6"/><circle cx="0" cy="0" r="4.6" fill="#9c9c9c"/></g>
<g transform="translate(153.8 1460) rotate(25)"><ellipse cx="0" cy="0" rx="22.5" ry="28.8" fill="#6c6c6c"/><circle cx="17.0" cy="0.0" r="9.1" fill="#6a6a6a" stroke="#606060" stroke-width="1"/><circle cx="12.0" cy="15.4" r="9.1" fill="#6a6a6a" stroke="#606060" stroke-width="1"/><circle cx="0.0" cy="21.8" r="9.1" fill="#6a6a6a" stroke="#606060" stroke-width="1"/><circle cx="-12.0" cy="15.4" r="9.1" fill="#6a6a6a" stroke="#606060" stroke-width="1"/><circle cx="-17.0" cy="0.0" r="9.1" fill="#6a6a6a" stroke="#606060" stroke-width="1"/><circle cx="-12.0" cy="-15.4" r="9.1" fill="#6a6a6a" stroke="#606060" stroke-width="1"/><circle cx="-0.0" cy="-21.8" r="9.1" fill="#6a6a6a" stroke="#606060" stroke-width="1"/><circle cx="12.0" cy="-15.4" r="9.1" fill="#6a6a6a" stroke="#606060" stroke-width="1"/><polygon points="11.8,11.9 1.8,6.0 -2.2,19.0 -3.1,5.0 -13.9,7.1 -4.9,-0.9 -11.8,-11.9 -1.8,-6.0 2.2,-19.0 3.1,-5.0 13.9,-7.1 4.9,0.9" fill="#c6c6c6"/><circle cx="0" cy="0" r="3.5" fill="#9c9c9c"/></g>
<g transform="translate(245 1458) rotate(-10)"><ellipse cx="0" cy="0" rx="32.4" ry="38.7" fill="#6c6c6c"/><circle cx="24.5" cy="0.0" r="12.8" fill="#6a6a6a" stroke="#606060" stroke-width="1"/><circle cx="20.6" cy="15.8" r="12.8" fill="#6a6a6a" stroke="#606060" stroke-width="1"/><circle cx="10.2" cy="26.6" r="12.8" fill="#6a6a6a" stroke="#606060" stroke-width="1"/><circle cx="-3.5" cy="28.9" r="12.8" fill="#6a6a6a" stroke="#606060" stroke-width="1"/><circle cx="-16.0" cy="22.1" r="12.8" fill="#6a6a6a" stroke="#606060" stroke-width="1"/><circle cx="-23.5" cy="8.2" r="12.8" fill="#6a6a6a" stroke="#606060" stroke-width="1"/><circle cx="-23.5" cy="-8.2" r="12.8" fill="#6a6a6a" stroke="#606060" stroke-width="1"/><circle cx="-16.0" cy="-22.1" r="12.8" fill="#6a6a6a" stroke="#606060" stroke-width="1"/><circle cx="-3.5" cy="-28.9" r="12.8" fill="#6a6a6a" stroke="#606060" stroke-width="1"/><circle cx="10.2" cy="-26.6" r="12.8" fill="#6a6a6a" stroke="#606060" stroke-width="1"/><circle cx="20.6" cy="-15.8" r="12.8" fill="#6a6a6a" stroke="#606060" stroke-width="1"/><polygon points="18.3,13.7 3.4,7.6 -0.8,25.8 -3.8,7.3 -19.1,12.1 -7.2,-0.3 -18.3,-13.7 -3.4,-7.6 0.8,-25.8 3.8,-7.3 19.1,-12.1 7.2,0.3" fill="#c6c6c6"/><circle cx="0" cy="0" r="5.0" fill="#9c9c9c"/></g>
<g transform="translate(326 1487) rotate(15)"><ellipse cx="0" cy="0" rx="31.5" ry="36.0" fill="#6c6c6c"/><circle cx="23.8" cy="0.0" r="12.3" fill="#6a6a6a" stroke="#606060" stroke-width="1"/><circle cx="19.3" cy="16.0" r="12.3" fill="#6a6a6a" stroke="#606060" stroke-width="1"/><circle cx="7.4" cy="25.9" r="12.3" fill="#6a6a6a" stroke="#606060" stroke-width="1"/><circle cx="-7.4" cy="25.9" r="12.3" fill="#6a6a6a" stroke="#606060" stroke-width="1"/><circle cx="-19.3" cy="16.0" r="12.3" fill="#6a6a6a" stroke="#606060" stroke-width="1"/><circle cx="-23.8" cy="0.0" r="12.3" fill="#6a6a6a" stroke="#606060" stroke-width="1"/><circle cx="-19.3" cy="-16.0" r="12.3" fill="#6a6a6a" stroke="#606060" stroke-width="1"/><circle cx="-7.4" cy="-25.9" r="12.3" fill="#6a6a6a" stroke="#606060" stroke-width="1"/><circle cx="7.4" cy="-25.9" r="12.3" fill="#6a6a6a" stroke="#606060" stroke-width="1"/><circle cx="19.3" cy="-16.0" r="12.3" fill="#6a6a6a" stroke="#606060" stroke-width="1"/><polygon points="13.3,18.6 1.1,7.9 -7.4,22.5 -5.4,5.1 -20.7,3.9 -6.5,-2.8 -13.3,-18.6 -1.1,-7.9 7.4,-22.5 5.4,-5.1 20.7,-3.9 6.5,2.8" fill="#c6c6c6"/><circle cx="0" cy="0" r="4.9" fill="#9c9c9c"/></g>
<g transform="translate(85 1549) rotate(35)"><ellipse cx="0" cy="0" rx="21.6" ry="40.5" fill="#6c6c6c"/><circle cx="16.3" cy="0.0" r="9.8" fill="#6a6a6a" stroke="#606060" stroke-width="1"/><circle cx="12.5" cy="19.7" r="9.8" fill="#6a6a6a" stroke="#606060" stroke-width="1"/><circle cx="2.8" cy="30.1" r="9.8" fill="#6a6a6a" stroke="#606060" stroke-width="1"/><circle cx="-8.2" cy="26.5" r="9.8" fill="#6a6a6a" stroke="#606060" stroke-width="1"/><circle cx="-15.3" cy="10.5" r="9.8" fill="#6a6a6a" stroke="#606060" stroke-width="1"/><circle cx="-15.3" cy="-10.5" r="9.8" fill="#6a6a6a" stroke="#606060" stroke-width="1"/><circle cx="-8.2" cy="-26.5" r="9.8" fill="#6a6a6a" stroke="#606060" stroke-width="1"/><circle cx="2.8" cy="-30.1" r="9.8" fill="#6a6a6a" stroke="#606060" stroke-width="1"/><circle cx="12.5" cy="-19.7" r="9.8" fill="#6a6a6a" stroke="#606060" stroke-width="1"/><polygon points="12.8,12.4 2.6,7.6 0.7,27.0 -2.2,8.0 -12.1,14.6 -4.8,0.4 -12.8,-12.4 -2.6,-7.6 -0.7,-27.0 2.2,-8.0 12.1,-14.6 4.8,-0.4" fill="#c6c6c6"/><circle cx="0" cy="0" r="3.4" fill="#9c9c9c"/></g>
<g transform="translate(180.8 1544) rotate(0)"><ellipse cx="0" cy="0" rx="29.7" ry="34.2" fill="#6c6c6c"/><circle cx="22.4" cy="0.0" r="11.6" fill="#6a6a6a" stroke="#606060" stroke-width="1"/><circle cx="18.2" cy="15.2" r="11.6" fill="#6a6a6a" stroke="#606060" stroke-width="1"/><circle cx="6.9" cy="24.6" r="11.6" fill="#6a6a6a" stroke="#606060" stroke-width="1"/><circle cx="-6.9" cy="24.6" r="11.6" fill="#6a6a6a" stroke="#606060" stroke-width="1"/><circle cx="-18.2" cy="15.2" r="11.6" fill="#6a6a6a" stroke="#606060" stroke-width="1"/><circle cx="-22.4" cy="0.0" r="11.6" fill="#6a6a6a" stroke="#606060" stroke-width="1"/><circle cx="-18.2" cy="-15.2" r="11.6" fill="#6a6a6a" stroke="#606060" stroke-width="1"/><circle cx="-6.9" cy="-24.6" r="11.6" fill="#6a6a6a" stroke="#606060" stroke-width="1"/><circle cx="6.9" cy="-24.6" r="11.6" fill="#6a6a6a" stroke="#606060" stroke-width="1"/><circle cx="18.2" cy="-15.2" r="11.6" fill="#6a6a6a" stroke="#606060" stroke-width="1"/><polygon points="16.4,12.8 2.9,6.8 -1.4,22.7 -3.7,6.3 -17.8,10.0 -6.6,-0.5 -16.4,-12.8 -2.9,-6.8 1.4,-22.7 3.7,-6.3 17.8,-10.0 6.6,0.5" fill="#c6c6c6"/><circle cx="0" cy="0" r="4.6" fill="#9c9c9c"/></g>
<g transform="translate(288.8 1562) rotate(-5)"><ellipse cx="0" cy="0" rx="40.5" ry="18.0" fill="#6c6c6c"/><circle cx="30.6" cy="0.0" r="8.8" fill="#6a6a6a" stroke="#606060" stroke-width="1"/><circle cx="23.4" cy="8.7" r="8.8" fill="#6a6a6a" stroke="#606060" stroke-width="1"/><circle cx="5.3" cy="13.4" r="8.8" fill="#6a6a6a" stroke="#606060" stroke-width="1"/><circle cx="-15.3" cy="11.8" r="8.8" fill="#6a6a6a" stroke="#606060" stroke-width="1"/><circle cx="-28.8" cy="4.7" r="8.8" fill="#6a6a6a" stroke="#606060" stroke-width="1"/><circle cx="-28.8" cy="-4.7" r="8.8" fill="#6a6a6a" stroke="#606060" stroke-width="1"/><circle cx="-15.3" cy="-11.8" r="8.8" fill="#6a6a6a" stroke="#606060" stroke-width="1"/><circle cx="5.3" cy="-13.4" r="8.8" fill="#6a6a6a" stroke="#606060" stroke-width="1"/><circle cx="23.4" cy="-8.7" r="8.8" fill="#6a6a6a" stroke="#606060" stroke-width="1"/><polygon points="15.8,9.7 0.9,4.0 -11.0,11.0 -7.3,2.3 -26.9,1.2 -8.2,-1.6 -15.8,-9.7 -0.9,-4.0 11.0,-11.0 7.3,-2.3 26.9,-1.2 8.2,1.6" fill="#c6c6c6"/><circle cx="0" cy="0" r="2.8" fill="#9c9c9c"/></g>
</g>
<rect x="9.7" y="1329.5" width="366.0" height="274.5" rx="22" fill="none" stroke="#000" stroke-width="7"/>
<clipPath id="zb2"><rect x="491.0" y="1303.3" width="423.79999999999995" height="331.5" rx="22"/></clipPath>
<rect x="491.0" y="1303.3" width="423.79999999999995" height="331.5" rx="22" fill="#f9f9f9"/>
<g clip-path="url(#zb2)">
<path d="M625,1305 C620,1360 640,1400 700,1400 C740,1400 760,1420 780,1460 C790,1500 760,1520 770,1560 C780,1600 760,1630 770,1640" fill="none" stroke="#959595" stroke-width="3"/>
<path d="M725,1305 C735,1340 740,1350 730,1380" fill="none" stroke="#959595" stroke-width="3"/>
<path d="M755,1305 C745,1360 760,1400 800,1420 C840,1440 880,1400 905,1340" fill="none" stroke="#959595" stroke-width="3"/>
<path d="M495,1385 C530,1390 540,1420 545,1440 C560,1440 590,1420 620,1425 C650,1430 640,1460 660,1480" fill="none" stroke="#959595" stroke-width="3"/>
<path d="M490,1480 C520,1450 560,1440 590,1460 C620,1480 600,1540 630,1560 C650,1570 690,1545 700,1555" fill="none" stroke="#959595" stroke-width="3"/>
<path d="M570,1520 C590,1540 640,1560 700,1555 C740,1550 730,1500 720,1480" fill="none" stroke="#959595" stroke-width="3"/>
<path d="M505,1600 C540,1620 560,1610 580,1590" fill="none" stroke="#959595" stroke-width="3"/>
<path d="M880,1500 C850,1500 830,1540 820,1580 C810,1620 840,1630 870,1600" fill="none" stroke="#959595" stroke-width="3"/>
<path d="M800,1420 C830,1440 870,1460 895,1520 C905,1560 880,1600 905,1640" fill="none" stroke="#959595" stroke-width="3"/>
<path d="M610,1640 C620,1610 650,1600 700,1615 C740,1625 780,1600 820,1560" fill="none" stroke="#959595" stroke-width="3"/>
<path d="M554.1,1604.1 C545.4,1607.8 516.2,1627.0 502.1,1626.4 C487.9,1625.8 477.3,1615.7 469.2,1600.3 C461.0,1585.0 455.2,1556.5 453.1,1534.3 C451.0,1512.2 455.9,1478.6 456.4,1467.4" fill="none" stroke="#959595" stroke-width="3"/>
<path d="M512.9,1461.4 C514.8,1469.2 527.0,1496.9 524.0,1508.5 C521.0,1520.0 500.5,1515.5 494.9,1530.8 C489.3,1546.0 489.8,1581.4 490.2,1600.0 C490.7,1618.6 500.9,1631.9 497.4,1642.3 C493.9,1652.7 473.8,1659.1 469.1,1662.4" fill="none" stroke="#959595" stroke-width="3"/>
<path d="M711.0,1500.7 C708.1,1495.3 701.4,1478.5 693.3,1468.5 C685.1,1458.5 678.7,1444.0 662.2,1440.5 C645.7,1437.0 615.2,1444.5 594.5,1447.4 C573.8,1450.2 557.8,1451.5 537.9,1457.8 C518.0,1464.1 492.6,1476.6 475.1,1485.2 C457.6,1493.8 440.0,1505.5 433.0,1509.6" fill="none" stroke="#959595" stroke-width="3"/>
<path d="M601.1,1487.8 C605.5,1483.3 617.7,1465.8 627.5,1460.3 C637.2,1454.8 647.9,1461.0 659.6,1455.0 C671.3,1449.0 687.9,1439.1 697.6,1424.3 C707.4,1409.6 709.9,1379.7 717.9,1366.4 C726.0,1353.2 741.4,1348.3 746.1,1344.7" fill="none" stroke="#959595" stroke-width="3"/>
<path d="M503.4,1397.0 C513.3,1391.3 545.9,1370.1 562.8,1362.6 C579.8,1355.2 592.8,1364.0 605.2,1352.4 C617.7,1340.8 623.8,1306.4 637.3,1293.2 C650.8,1279.9 678.6,1283.3 686.3,1272.9 C693.9,1262.5 683.7,1238.0 683.2,1231.0" fill="none" stroke="#959595" stroke-width="3"/>
<path d="M690.7,1460.1 C682.3,1467.0 655.7,1495.5 640.4,1501.3 C625.1,1507.1 612.7,1491.8 598.7,1495.0 C584.8,1498.1 569.1,1519.7 556.7,1520.4 C544.3,1521.1 539.1,1497.4 524.6,1499.2 C510.0,1501.1 476.5,1517.8 469.1,1531.3 C461.8,1544.9 478.5,1572.3 480.3,1580.5" fill="none" stroke="#959595" stroke-width="3"/>
<path d="M493.8,1405.2 C498.3,1395.2 507.7,1359.5 521.1,1345.5 C534.4,1331.5 558.7,1321.7 573.8,1321.1 C588.9,1320.6 605.1,1338.6 611.4,1342.1" fill="none" stroke="#959595" stroke-width="3"/>
<path d="M636.3,1598.6 C640.4,1595.1 653.7,1590.2 660.8,1577.5 C667.9,1564.8 671.9,1537.4 678.8,1522.6 C685.6,1507.7 689.1,1497.5 702.0,1488.1 C714.8,1478.8 738.8,1464.8 755.9,1466.3 C773.0,1467.8 787.5,1496.8 804.6,1497.0 C821.7,1497.3 849.3,1472.4 858.3,1467.5" fill="none" stroke="#959595" stroke-width="3"/>
<g transform="translate(551.8 1362.5) rotate(-10)"><ellipse cx="0" cy="0" rx="24.3" ry="43.2" fill="#6c6c6c"/><circle cx="18.4" cy="0.0" r="10.9" fill="#6a6a6a" stroke="#606060" stroke-width="1"/><circle cx="14.9" cy="19.2" r="10.9" fill="#6a6a6a" stroke="#606060" stroke-width="1"/><circle cx="5.7" cy="31.0" r="10.9" fill="#6a6a6a" stroke="#606060" stroke-width="1"/><circle cx="-5.7" cy="31.0" r="10.9" fill="#6a6a6a" stroke="#606060" stroke-width="1"/><circle cx="-14.9" cy="19.2" r="10.9" fill="#6a6a6a" stroke="#606060" stroke-width="1"/><circle cx="-18.4" cy="0.0" r="10.9" fill="#6a6a6a" stroke="#606060" stroke-width="1"/><circle cx="-14.9" cy="-19.2" r="10.9" fill="#6a6a6a" stroke="#606060" stroke-width="1"/><circle cx="-5.7" cy="-31.0" r="10.9" fill="#6a6a6a" stroke="#606060" stroke-width="1"/><circle cx="5.7" cy="-31.0" r="10.9" fill="#6a6a6a" stroke="#606060" stroke-width="1"/><circle cx="14.9" cy="-19.2" r="10.9" fill="#6a6a6a" stroke="#606060" stroke-width="1"/><polygon points="12.8,17.6 2.1,8.9 -2.2,28.5 -3.3,7.6 -15.0,11.0 -5.4,-1.3 -12.8,-17.6 -2.1,-8.9 2.2,-28.5 3.3,-7.6 15.0,-11.0 5.4,1.3" fill="#c6c6c6"/><circle cx="0" cy="0" r="3.8" fill="#9c9c9c"/></g>
<g transform="translate(695.6 1367) rotate(-35)"><ellipse cx="0" cy="0" rx="19.8" ry="45.0" fill="#6c6c6c"/><circle cx="15.0" cy="0.0" r="9.7" fill="#6a6a6a" stroke="#606060" stroke-width="1"/><circle cx="12.1" cy="20.0" r="9.7" fill="#6a6a6a" stroke="#606060" stroke-width="1"/><circle cx="4.6" cy="32.3" r="9.7" fill="#6a6a6a" stroke="#606060" stroke-width="1"/><circle cx="-4.6" cy="32.3" r="9.7" fill="#6a6a6a" stroke="#606060" stroke-width="1"/><circle cx="-12.1" cy="20.0" r="9.7" fill="#6a6a6a" stroke="#606060" stroke-width="1"/><circle cx="-15.0" cy="0.0" r="9.7" fill="#6a6a6a" stroke="#606060" stroke-width="1"/><circle cx="-12.1" cy="-20.0" r="9.7" fill="#6a6a6a" stroke="#606060" stroke-width="1"/><circle cx="-4.6" cy="-32.3" r="9.7" fill="#6a6a6a" stroke="#606060" stroke-width="1"/><circle cx="4.6" cy="-32.3" r="9.7" fill="#6a6a6a" stroke="#606060" stroke-width="1"/><circle cx="12.1" cy="-20.0" r="9.7" fill="#6a6a6a" stroke="#606060" stroke-width="1"/><polygon points="13.1,3.8 3.5,6.0 5.1,27.7 -0.6,9.9 -8.0,23.9 -4.1,3.9 -13.1,-3.8 -3.5,-6.0 -5.1,-27.7 0.6,-9.9 8.0,-23.9 4.1,-3.9" fill="#c6c6c6"/><circle cx="0" cy="0" r="3.1" fill="#9c9c9c"/></g>
<g transform="translate(846.3 1364.8) rotate(0)"><ellipse cx="0" cy="0" rx="36.0" ry="43.2" fill="#6c6c6c"/><circle cx="27.2" cy="0.0" r="14.2" fill="#6a6a6a" stroke="#606060" stroke-width="1"/><circle cx="23.6" cy="16.3" r="14.2" fill="#6a6a6a" stroke="#606060" stroke-width="1"/><circle cx="13.6" cy="28.3" r="14.2" fill="#6a6a6a" stroke="#606060" stroke-width="1"/><circle cx="0.0" cy="32.6" r="14.2" fill="#6a6a6a" stroke="#606060" stroke-width="1"/><circle cx="-13.6" cy="28.3" r="14.2" fill="#6a6a6a" stroke="#606060" stroke-width="1"/><circle cx="-23.6" cy="16.3" r="14.2" fill="#6a6a6a" stroke="#606060" stroke-width="1"/><circle cx="-27.2" cy="0.0" r="14.2" fill="#6a6a6a" stroke="#606060" stroke-width="1"/><circle cx="-23.6" cy="-16.3" r="14.2" fill="#6a6a6a" stroke="#606060" stroke-width="1"/><circle cx="-13.6" cy="-28.3" r="14.2" fill="#6a6a6a" stroke="#606060" stroke-width="1"/><circle cx="-0.0" cy="-32.6" r="14.2" fill="#6a6a6a" stroke="#606060" stroke-width="1"/><circle cx="13.6" cy="-28.3" r="14.2" fill="#6a6a6a" stroke="#606060" stroke-width="1"/><circle cx="23.6" cy="-16.3" r="14.2" fill="#6a6a6a" stroke="#606060" stroke-width="1"/><polygon points="15.5,21.9 1.4,9.4 -8.1,27.1 -6.1,6.2 -23.6,5.2 -7.5,-3.2 -15.5,-21.9 -1.4,-9.4 8.1,-27.1 6.1,-6.2 23.6,-5.2 7.5,3.2" fill="#c6c6c6"/><circle cx="0" cy="0" r="5.6" fill="#9c9c9c"/></g>
<g transform="translate(544.8 1491) rotate(-25)"><ellipse cx="0" cy="0" rx="40.5" ry="27.0" fill="#6c6c6c"/><circle cx="30.6" cy="0.0" r="11.4" fill="#6a6a6a" stroke="#606060" stroke-width="1"/><circle cx="24.8" cy="12.0" r="11.4" fill="#6a6a6a" stroke="#606060" stroke-width="1"/><circle cx="9.5" cy="19.4" r="11.4" fill="#6a6a6a" stroke="#606060" stroke-width="1"/><circle cx="-9.5" cy="19.4" r="11.4" fill="#6a6a6a" stroke="#606060" stroke-width="1"/><circle cx="-24.8" cy="12.0" r="11.4" fill="#6a6a6a" stroke="#606060" stroke-width="1"/><circle cx="-30.6" cy="0.0" r="11.4" fill="#6a6a6a" stroke="#606060" stroke-width="1"/><circle cx="-24.8" cy="-12.0" r="11.4" fill="#6a6a6a" stroke="#606060" stroke-width="1"/><circle cx="-9.5" cy="-19.4" r="11.4" fill="#6a6a6a" stroke="#606060" stroke-width="1"/><circle cx="9.5" cy="-19.4" r="11.4" fill="#6a6a6a" stroke="#606060" stroke-width="1"/><circle cx="24.8" cy="-12.0" r="11.4" fill="#6a6a6a" stroke="#606060" stroke-width="1"/><polygon points="23.8,8.5 4.7,5.1 0.8,18.0 -4.3,5.3 -23.0,9.5 -9.0,0.2 -23.8,-8.5 -4.7,-5.1 -0.8,-18.0 4.3,-5.3 23.0,-9.5 9.0,-0.2" fill="#c6c6c6"/><circle cx="0" cy="0" r="4.2" fill="#9c9c9c"/></g>
<g transform="translate(659.3 1460.6) rotate(0)"><ellipse cx="0" cy="0" rx="43.2" ry="27.0" fill="#6c6c6c"/><circle cx="32.6" cy="0.0" r="11.6" fill="#6a6a6a" stroke="#606060" stroke-width="1"/><circle cx="27.5" cy="11.0" r="11.6" fill="#6a6a6a" stroke="#606060" stroke-width="1"/><circle cx="13.6" cy="18.6" r="11.6" fill="#6a6a6a" stroke="#606060" stroke-width="1"/><circle cx="-4.6" cy="20.2" r="11.6" fill="#6a6a6a" stroke="#606060" stroke-width="1"/><circle cx="-21.4" cy="15.4" r="11.6" fill="#6a6a6a" stroke="#606060" stroke-width="1"/><circle cx="-31.3" cy="5.7" r="11.6" fill="#6a6a6a" stroke="#606060" stroke-width="1"/><circle cx="-31.3" cy="-5.7" r="11.6" fill="#6a6a6a" stroke="#606060" stroke-width="1"/><circle cx="-21.4" cy="-15.4" r="11.6" fill="#6a6a6a" stroke="#606060" stroke-width="1"/><circle cx="-4.6" cy="-20.2" r="11.6" fill="#6a6a6a" stroke="#606060" stroke-width="1"/><circle cx="13.6" cy="-18.6" r="11.6" fill="#6a6a6a" stroke="#606060" stroke-width="1"/><circle cx="27.5" cy="-11.0" r="11.6" fill="#6a6a6a" stroke="#606060" stroke-width="1"/><polygon points="21.5,12.0 3.0,5.7 -5.9,17.6 -6.4,4.5 -27.4,5.6 -9.4,-1.2 -21.5,-12.0 -3.0,-5.7 5.9,-17.6 6.4,-4.5 27.4,-5.6 9.4,1.2" fill="#c6c6c6"/><circle cx="0" cy="0" r="4.2" fill="#9c9c9c"/></g>
<g transform="translate(764.5 1495.7) rotate(25)"><ellipse cx="0" cy="0" rx="36.0" ry="22.5" fill="#6c6c6c"/><circle cx="27.2" cy="0.0" r="9.7" fill="#6a6a6a" stroke="#606060" stroke-width="1"/><circle cx="20.8" cy="10.9" r="9.7" fill="#6a6a6a" stroke="#606060" stroke-width="1"/><circle cx="4.7" cy="16.7" r="9.7" fill="#6a6a6a" stroke="#606060" stroke-width="1"/><circle cx="-13.6" cy="14.7" r="9.7" fill="#6a6a6a" stroke="#606060" stroke-width="1"/><circle cx="-25.6" cy="5.8" r="9.7" fill="#6a6a6a" stroke="#606060" stroke-width="1"/><circle cx="-25.6" cy="-5.8" r="9.7" fill="#6a6a6a" stroke="#606060" stroke-width="1"/><circle cx="-13.6" cy="-14.7" r="9.7" fill="#6a6a6a" stroke="#606060" stroke-width="1"/><circle cx="4.7" cy="-16.7" r="9.7" fill="#6a6a6a" stroke="#606060" stroke-width="1"/><circle cx="20.8" cy="-10.9" r="9.7" fill="#6a6a6a" stroke="#606060" stroke-width="1"/><polygon points="14.4,12.0 1.0,5.0 -9.4,13.8 -6.4,3.0 -23.8,1.8 -7.4,-2.0 -14.4,-12.0 -1.0,-5.0 9.4,-13.8 6.4,-3.0 23.8,-1.8 7.4,2.0" fill="#c6c6c6"/><circle cx="0" cy="0" r="3.5" fill="#9c9c9c"/></g>
<g transform="translate(869.7 1479.3) rotate(5)"><ellipse cx="0" cy="0" rx="18.0" ry="43.2" fill="#6c6c6c"/><circle cx="13.6" cy="0.0" r="9.0" fill="#6a6a6a" stroke="#606060" stroke-width="1"/><circle cx="10.4" cy="21.0" r="9.0" fill="#6a6a6a" stroke="#606060" stroke-width="1"/><circle cx="2.4" cy="32.1" r="9.0" fill="#6a6a6a" stroke="#606060" stroke-width="1"/><circle cx="-6.8" cy="28.3" r="9.0" fill="#6a6a6a" stroke="#606060" stroke-width="1"/><circle cx="-12.8" cy="11.2" r="9.0" fill="#6a6a6a" stroke="#606060" stroke-width="1"/><circle cx="-12.8" cy="-11.2" r="9.0" fill="#6a6a6a" stroke="#606060" stroke-width="1"/><circle cx="-6.8" cy="-28.3" r="9.0" fill="#6a6a6a" stroke="#606060" stroke-width="1"/><circle cx="2.4" cy="-32.1" r="9.0" fill="#6a6a6a" stroke="#606060" stroke-width="1"/><circle cx="10.4" cy="-21.0" r="9.0" fill="#6a6a6a" stroke="#606060" stroke-width="1"/><polygon points="11.7,6.1 3.0,6.4 3.7,27.4 -0.8,9.4 -8.1,21.3 -3.8,2.9 -11.7,-6.1 -3.0,-6.4 -3.7,-27.4 0.8,-9.4 8.1,-21.3 3.8,-2.9" fill="#c6c6c6"/><circle cx="0" cy="0" r="2.8" fill="#9c9c9c"/></g>
<g transform="translate(576.4 1583.4) rotate(-20)"><ellipse cx="0" cy="0" rx="27.0" ry="36.0" fill="#6c6c6c"/><circle cx="20.4" cy="0.0" r="11.0" fill="#6a6a6a" stroke="#606060" stroke-width="1"/><circle cx="16.5" cy="16.0" r="11.0" fill="#6a6a6a" stroke="#606060" stroke-width="1"/><circle cx="6.3" cy="25.9" r="11.0" fill="#6a6a6a" stroke="#606060" stroke-width="1"/><circle cx="-6.3" cy="25.9" r="11.0" fill="#6a6a6a" stroke="#606060" stroke-width="1"/><circle cx="-16.5" cy="16.0" r="11.0" fill="#6a6a6a" stroke="#606060" stroke-width="1"/><circle cx="-20.4" cy="0.0" r="11.0" fill="#6a6a6a" stroke="#606060" stroke-width="1"/><circle cx="-16.5" cy="-16.0" r="11.0" fill="#6a6a6a" stroke="#606060" stroke-width="1"/><circle cx="-6.3" cy="-25.9" r="11.0" fill="#6a6a6a" stroke="#606060" stroke-width="1"/><circle cx="6.3" cy="-25.9" r="11.0" fill="#6a6a6a" stroke="#606060" stroke-width="1"/><circle cx="16.5" cy="-16.0" r="11.0" fill="#6a6a6a" stroke="#606060" stroke-width="1"/><polygon points="18.0,0.6 5.1,4.2 8.6,21.1 -0.1,8.0 -9.4,20.5 -5.3,3.8 -18.0,-0.6 -5.1,-4.2 -8.6,-21.1 0.1,-8.0 9.4,-20.5 5.3,-3.8" fill="#c6c6c6"/><circle cx="0" cy="0" r="4.2" fill="#9c9c9c"/></g>
<g transform="translate(714.3 1588) rotate(-40)"><ellipse cx="0" cy="0" rx="25.2" ry="40.5" fill="#6c6c6c"/><circle cx="19.0" cy="0.0" r="10.9" fill="#6a6a6a" stroke="#606060" stroke-width="1"/><circle cx="15.4" cy="18.0" r="10.9" fill="#6a6a6a" stroke="#606060" stroke-width="1"/><circle cx="5.9" cy="29.1" r="10.9" fill="#6a6a6a" stroke="#606060" stroke-width="1"/><circle cx="-5.9" cy="29.1" r="10.9" fill="#6a6a6a" stroke="#606060" stroke-width="1"/><circle cx="-15.4" cy="18.0" r="10.9" fill="#6a6a6a" stroke="#606060" stroke-width="1"/><circle cx="-19.0" cy="0.0" r="10.9" fill="#6a6a6a" stroke="#606060" stroke-width="1"/><circle cx="-15.4" cy="-18.0" r="10.9" fill="#6a6a6a" stroke="#606060" stroke-width="1"/><circle cx="-5.9" cy="-29.1" r="10.9" fill="#6a6a6a" stroke="#606060" stroke-width="1"/><circle cx="5.9" cy="-29.1" r="10.9" fill="#6a6a6a" stroke="#606060" stroke-width="1"/><circle cx="15.4" cy="-18.0" r="10.9" fill="#6a6a6a" stroke="#606060" stroke-width="1"/><polygon points="10.0,21.8 0.6,8.9 -6.7,24.7 -4.5,5.3 -16.7,3.0 -5.1,-3.6 -10.0,-21.8 -0.6,-8.9 6.7,-24.7 4.5,-5.3 16.7,-3.0 5.1,3.6" fill="#c6c6c6"/><circle cx="0" cy="0" r="3.9" fill="#9c9c9c"/></g>
<g transform="translate(831.2 1589.2) rotate(0)"><ellipse cx="0" cy="0" rx="31.5" ry="31.5" fill="#6c6c6c"/><circle cx="23.8" cy="0.0" r="11.9" fill="#6a6a6a" stroke="#606060" stroke-width="1"/><circle cx="19.3" cy="14.0" r="11.9" fill="#6a6a6a" stroke="#606060" stroke-width="1"/><circle cx="7.4" cy="22.6" r="11.9" fill="#6a6a6a" stroke="#606060" stroke-width="1"/><circle cx="-7.4" cy="22.6" r="11.9" fill="#6a6a6a" stroke="#606060" stroke-width="1"/><circle cx="-19.3" cy="14.0" r="11.9" fill="#6a6a6a" stroke="#606060" stroke-width="1"/><circle cx="-23.8" cy="0.0" r="11.9" fill="#6a6a6a" stroke="#606060" stroke-width="1"/><circle cx="-19.3" cy="-14.0" r="11.9" fill="#6a6a6a" stroke="#606060" stroke-width="1"/><circle cx="-7.4" cy="-22.6" r="11.9" fill="#6a6a6a" stroke="#606060" stroke-width="1"/><circle cx="7.4" cy="-22.6" r="11.9" fill="#6a6a6a" stroke="#606060" stroke-width="1"/><circle cx="19.3" cy="-14.0" r="11.9" fill="#6a6a6a" stroke="#606060" stroke-width="1"/><polygon points="13.2,16.3 1.1,6.9 -7.5,19.6 -5.4,4.4 -20.7,3.3 -6.5,-2.5 -13.2,-16.3 -1.1,-6.9 7.5,-19.6 5.4,-4.4 20.7,-3.3 6.5,2.5" fill="#c6c6c6"/><circle cx="0" cy="0" r="4.9" fill="#9c9c9c"/></g>
</g>
<rect x="491.0" y="1303.3" width="423.79999999999995" height="331.5" rx="22" fill="none" stroke="#000" stroke-width="7"/>
<rect x="1268.5" y="20.5" width="1460" height="1430" fill="none" stroke="#000" stroke-width="3"/>
<line x1="1270" y1="144.4" x2="1287" y2="144.4" stroke="#000" stroke-width="3"/>
<line x1="1270" y1="260.5" x2="1287" y2="260.5" stroke="#000" stroke-width="3"/>
<line x1="1270" y1="499.4" x2="1287" y2="499.4" stroke="#000" stroke-width="3"/>
<line x1="1270" y1="735.5" x2="1287" y2="735.5" stroke="#000" stroke-width="3"/>
<line x1="1270" y1="971.5" x2="1287" y2="971.5" stroke="#000" stroke-width="3"/>
<line x1="1270" y1="1215.5" x2="1287" y2="1215.5" stroke="#000" stroke-width="3"/>
<line x1="1401.5" y1="1432" x2="1401.5" y2="1449" stroke="#000" stroke-width="3"/>
<line x1="1533.5" y1="1432" x2="1533.5" y2="1449" stroke="#000" stroke-width="3"/>
<line x1="1668.5" y1="1432" x2="1668.5" y2="1449" stroke="#000" stroke-width="3"/>
<line x1="1800.5" y1="1432" x2="1800.5" y2="1449" stroke="#000" stroke-width="3"/>
<line x1="1932.4" y1="1432" x2="1932.4" y2="1449" stroke="#000" stroke-width="3"/>
<line x1="2064.5" y1="1432" x2="2064.5" y2="1449" stroke="#000" stroke-width="3"/>
<line x1="2195.5" y1="1432" x2="2195.5" y2="1449" stroke="#000" stroke-width="3"/>
<line x1="2327.5" y1="1432" x2="2327.5" y2="1449" stroke="#000" stroke-width="3"/>
<line x1="2460.5" y1="1432" x2="2460.5" y2="1449" stroke="#000" stroke-width="3"/>
<line x1="2592.6" y1="1432" x2="2592.6" y2="1449" stroke="#000" stroke-width="3"/>
<text x="1254.5" y="41" text-anchor="end" font-family="Liberation Serif" font-size="63">6000</text>
<text x="1254.5" y="280.1" text-anchor="end" font-family="Liberation Serif" font-size="63">5000</text>
<text x="1254.5" y="522.6" text-anchor="end" font-family="Liberation Serif" font-size="63">4000</text>
<text x="1254.5" y="755.1" text-anchor="end" font-family="Liberation Serif" font-size="63">3000</text>
<text x="1254.5" y="996" text-anchor="end" font-family="Liberation Serif" font-size="63">2000</text>
<text x="1254.5" y="1232.9" text-anchor="end" font-family="Liberation Serif" font-size="63">1000</text>
<text x="1254.5" y="1468" text-anchor="end" font-family="Liberation Serif" font-size="63">0</text>
<text x="1275" y="1512.5" text-anchor="middle" font-family="Liberation Serif" font-size="63">2</text>
<text x="1404" y="1512.5" text-anchor="middle" font-family="Liberation Serif" font-size="63">8</text>
<text x="1535.3" y="1512.5" text-anchor="middle" font-family="Liberation Serif" font-size="63">14</text>
<text x="1656.3" y="1512.5" text-anchor="middle" font-family="Liberation Serif" font-size="63">20</text>
<text x="1798.4" y="1512.5" text-anchor="middle" font-family="Liberation Serif" font-size="63">26</text>
<text x="1931.9" y="1512.5" text-anchor="middle" font-family="Liberation Serif" font-size="63">32</text>
<text x="2052.5" y="1512.5" text-anchor="middle" font-family="Liberation Serif" font-size="63">38</text>
<text x="2193.5" y="1512.5" text-anchor="middle" font-family="Liberation Serif" font-size="63">44</text>
<text x="2322" y="1512.5" text-anchor="middle" font-family="Liberation Serif" font-size="63">50</text>
<text x="2455" y="1512.5" text-anchor="middle" font-family="Liberation Serif" font-size="63">56</text>
<text x="2589.8" y="1512.5" text-anchor="middle" font-family="Liberation Serif" font-size="63">62</text>
<text x="2724" y="1512.5" text-anchor="middle" font-family="Liberation Serif" font-size="63">68</text>
<path d="M1646.5 20.0V50.4 M1646.5 70.4V110.4 M1646.5 130.4V170.4 M1646.5 190.4V230.4 M1646.5 250.4V290.4 M1646.5 310.4V350.4 M1646.5 370.4V410.4 M1646.5 430.4V470.4 M1646.5 490.4V530.4 M1646.5 550.4V590.4 M1646.5 610.4V650.4 M1646.5 670.4V710.4 M1646.5 730.4V770.4 M1646.5 790.4V830.4 M1646.5 850.4V890.4 M1646.5 910.4V950.4 M1646.5 970.4V1010.4 M1646.5 1030.4V1070.4 M1646.5 1090.4V1130.4 M1646.5 1150.4V1190.4 M1646.5 1210.4V1250.4 M1646.5 1270.4V1310.4 M1646.5 1330.4V1370.4 M1646.5 1390.4V1450.0" stroke="#000" stroke-width="3" fill="none"/>
<path d="M1286.0 98.4 L1648.0 98.4 L1683.5 137.5" fill="none" stroke="#000" stroke-width="6.5" stroke-linejoin="round"/>
<path d="M1683.5,137.5 C1766.2,192.4 2090.2,407.4 2180.0,467.0 C2269.8,526.6 2209.9,486.7 2222.6,495.3 C2235.3,503.9 2245.1,511.9 2256.3,518.4 C2267.5,524.9 2281.2,529.9 2290.0,534.2 C2298.8,538.5 2301.2,541.5 2309.0,544.3 C2316.8,547.1 2321.8,547.4 2337.0,551.0 C2352.2,554.6 2381.3,561.9 2400.0,566.0 C2418.7,570.1 2428.8,573.4 2449.0,575.7 C2469.2,578.0 2500.2,579.1 2521.0,579.7 C2541.8,580.3 2550.7,579.4 2574.0,579.5 C2597.3,579.6 2646.5,580.1 2661.0,580.2" fill="none" stroke="#000" stroke-width="6.7" stroke-linejoin="round"/>
<path d="M1689.4 617.9 L1778.9 656.5 L1954.7 733.8 L2168.0 842.4" fill="none" stroke="#000" stroke-width="6.7" stroke-linejoin="round"/>
<path d="M2168.0,842.4 C2174.8,846.0 2197.3,858.3 2209.0,864.0 C2220.7,869.7 2227.4,872.4 2238.3,876.5 C2249.2,880.6 2262.5,885.2 2274.3,888.5 C2286.1,891.8 2294.8,893.9 2309.0,896.5 C2323.2,899.1 2345.5,902.2 2359.5,904.0 C2373.5,905.8 2382.0,906.5 2393.2,907.5 C2404.4,908.5 2411.4,909.2 2426.9,909.7 C2442.4,910.2 2462.4,910.5 2485.9,910.6 C2509.4,910.8 2542.1,911.1 2567.8,910.6 C2593.5,910.1 2625.6,908.5 2640.0,907.9 C2654.4,907.3 2651.8,907.0 2654.2,906.8" fill="none" stroke="#000" stroke-width="6.7" stroke-linejoin="round"/>
<path d="M1687.5 976.0 L1779.9 1005.0 L1862.9 1035.4 L1953.8 1069.0 L2041.0 1100.5 L2075.0 1108.3 L2131.8 1108.3 L2216.0 1107.2 L2304.0 1107.0 L2450.0 1106.0 L2560.0 1105.0 L2660.0 1104.9" fill="none" stroke="#000" stroke-width="6.7" stroke-linejoin="round"/>
<path d="M1687.8 1158.7 L1781.4 1170.4 L1869.2 1189.5 L1956.0 1210.3 L2046.9 1231.4 L2131.0 1245.6 L2214.8 1254.3 L2311.3 1261.0 L2420.0 1265.0 L2487.0 1263.0 L2560.0 1266.2 L2653.0 1265.5" fill="none" stroke="#000" stroke-width="6.7" stroke-linejoin="round"/>
<path d="M1685.0 1294.8 L1777.2 1300.7 L1865.1 1304.9 L1951.1 1310.0 L2044.0 1321.3 L2133.3 1327.0 L2222.2 1329.8 L2308.4 1331.4 L2393.2 1333.2 L2480.0 1332.5 L2569.0 1331.4 L2659.1 1328.7" fill="none" stroke="#000" stroke-width="6.7" stroke-linejoin="round"/>
<path d="M1693.0 1390.0 L2130.0 1394.0 L2180.0 1394.3 L2308.0 1396.5 L2480.0 1397.6 L2664.0 1399.9" fill="none" stroke="#000" stroke-width="6.7" stroke-linejoin="round"/>
<line x1="1649" y1="79.5" x2="1663.4" y2="100.3" stroke="#000" stroke-width="2.7"/>
<polygon points="1680.4,125.0 1649.0,94.4 1662.8,99.5 1663.0,84.8" fill="#000"/>
<line x1="1648" y1="80" x2="1681.9" y2="573.7" stroke="#000" stroke-width="2.7"/>
<polygon points="1684.0,603.6 1672.6,561.3 1681.9,572.7 1689.5,560.1" fill="#000"/>
<line x1="1648" y1="80" x2="1686.6" y2="931.3" stroke="#000" stroke-width="2.7"/>
<polygon points="1688.0,961.3 1677.6,918.7 1686.6,930.3 1694.5,918.0" fill="#000"/>
<line x1="1648" y1="80" x2="1685.4" y2="1116.5" stroke="#000" stroke-width="2.7"/>
<polygon points="1686.5,1146.5 1676.5,1103.8 1685.4,1115.5 1693.4,1103.2" fill="#000"/>
<line x1="1648" y1="80" x2="1687.6" y2="1251.0" stroke="#000" stroke-width="2.7"/>
<polygon points="1688.6,1281.0 1678.7,1238.3 1687.6,1250.0 1695.6,1237.7" fill="#000"/>
<line x1="1648" y1="80" x2="1678.0" y2="1367.4" stroke="#000" stroke-width="2.7"/>
<polygon points="1678.7,1397.4 1669.2,1354.6 1678.0,1366.4 1686.2,1354.2" fill="#000"/>
<rect x="1277.0" y="63.9" width="21" height="21" fill="none" stroke="#000" stroke-width="3"/>
<rect x="1319.0" y="107.7" width="21" height="21" fill="none" stroke="#000" stroke-width="3"/>
<rect x="1368.0" y="90.7" width="21" height="21" fill="none" stroke="#000" stroke-width="3"/>
<rect x="1413.0" y="103.8" width="21" height="21" fill="none" stroke="#000" stroke-width="3"/>
<rect x="1459.0" y="94.7" width="21" height="21" fill="none" stroke="#000" stroke-width="3"/>
<rect x="1505.1" y="71.9" width="21" height="21" fill="none" stroke="#000" stroke-width="3"/>
<rect x="1555.0" y="119.9" width="21" height="21" fill="none" stroke="#000" stroke-width="3"/>
<rect x="1593.0" y="90.7" width="21" height="21" fill="none" stroke="#000" stroke-width="3"/>
<rect x="1638.1" y="76.9" width="21" height="21" fill="none" stroke="#000" stroke-width="3"/>
<circle cx="1683.5" cy="137.5" r="11" fill="#fff" stroke="#000" stroke-width="3"/>
<circle cx="1777.4" cy="185.5" r="11" fill="#fff" stroke="#000" stroke-width="3"/>
<circle cx="1857.9" cy="269.9" r="11" fill="#fff" stroke="#000" stroke-width="3"/>
<circle cx="1952.7" cy="300.5" r="11" fill="#fff" stroke="#000" stroke-width="3"/>
<circle cx="2050.1" cy="376.6" r="11" fill="#fff" stroke="#000" stroke-width="3"/>
<circle cx="2133.8" cy="453.2" r="11" fill="#fff" stroke="#000" stroke-width="3"/>
<circle cx="2222.6" cy="495.3" r="11" fill="#fff" stroke="#000" stroke-width="3"/>
<circle cx="2309" cy="544.3" r="11" fill="#fff" stroke="#000" stroke-width="3"/>
<circle cx="2399.9" cy="566.2" r="11" fill="#fff" stroke="#000" stroke-width="3"/>
<circle cx="2483" cy="566.2" r="11" fill="#fff" stroke="#000" stroke-width="3"/>
<circle cx="2573.9" cy="579" r="11" fill="#fff" stroke="#000" stroke-width="3"/>
<circle cx="2661.4" cy="580.2" r="11" fill="#fff" stroke="#000" stroke-width="3"/>
<polygon points="1689.4,602.9 1704.4,617.9 1689.4,632.9 1674.4,617.9" fill="#fff" stroke="#000" stroke-width="3"/>
<polygon points="1778.9,644.0 1793.9,659.0 1778.9,674.0 1763.9,659.0" fill="#fff" stroke="#000" stroke-width="3"/>
<polygon points="1868.2,702.9 1883.2,717.9 1868.2,732.9 1853.2,717.9" fill="#fff" stroke="#000" stroke-width="3"/>
<polygon points="1954.7,718.8 1969.7,733.8 1954.7,748.8 1939.7,733.8" fill="#fff" stroke="#000" stroke-width="3"/>
<polygon points="2037.6,745.0 2052.6,760.0 2037.6,775.0 2022.6,760.0" fill="#fff" stroke="#000" stroke-width="3"/>
<polygon points="2130.0,789.4 2145.0,804.4 2130.0,819.4 2115.0,804.4" fill="#fff" stroke="#000" stroke-width="3"/>
<polygon points="2220.0,813.9 2235.0,828.9 2220.0,843.9 2205.0,828.9" fill="#fff" stroke="#000" stroke-width="3"/>
<polygon points="2309.0,882.8 2324.0,897.8 2309.0,912.8 2294.0,897.8" fill="#fff" stroke="#000" stroke-width="3"/>
<polygon points="2394.3,905.3 2409.3,920.3 2394.3,935.3 2379.3,920.3" fill="#fff" stroke="#000" stroke-width="3"/>
<polygon points="2485.9,895.6 2500.9,910.6 2485.9,925.6 2470.9,910.6" fill="#fff" stroke="#000" stroke-width="3"/>
<polygon points="2567.8,895.6 2582.8,910.6 2567.8,925.6 2552.8,910.6" fill="#fff" stroke="#000" stroke-width="3"/>
<polygon points="2654.2,891.8 2669.2,906.8 2654.2,921.8 2639.2,906.8" fill="#fff" stroke="#000" stroke-width="3"/>
<polygon points="1687.2,964.9 1700.7,981.4 1673.7,981.4" fill="#fff" stroke="#000" stroke-width="3" stroke-linejoin="miter"/>
<polygon points="1779.9,995.2 1793.4,1011.7 1766.4,1011.7" fill="#fff" stroke="#000" stroke-width="3" stroke-linejoin="miter"/>
<polygon points="1862.9,1027.3 1876.4,1043.8 1849.4,1043.8" fill="#fff" stroke="#000" stroke-width="3" stroke-linejoin="miter"/>
<polygon points="1953.8,1059.6 1967.3,1076.1 1940.3,1076.1" fill="#fff" stroke="#000" stroke-width="3" stroke-linejoin="miter"/>
<polygon points="2040.9,1095.1 2054.4,1111.6 2027.4,1111.6" fill="#fff" stroke="#000" stroke-width="3" stroke-linejoin="miter"/>
<polygon points="2131.8,1099.6 2145.3,1116.1 2118.3,1116.1" fill="#fff" stroke="#000" stroke-width="3" stroke-linejoin="miter"/>
<polygon points="2217.0,1098.0 2230.5,1114.5 2203.5,1114.5" fill="#fff" stroke="#000" stroke-width="3" stroke-linejoin="miter"/>
<polygon points="2304.1,1096.2 2317.6,1112.7 2290.6,1112.7" fill="#fff" stroke="#000" stroke-width="3" stroke-linejoin="miter"/>
<polygon points="2393.9,1091.2 2407.4,1107.7 2380.4,1107.7" fill="#fff" stroke="#000" stroke-width="3" stroke-linejoin="miter"/>
<polygon points="2481.2,1087.2 2494.7,1103.7 2467.7,1103.7" fill="#fff" stroke="#000" stroke-width="3" stroke-linejoin="miter"/>
<polygon points="2568.2,1092.3 2581.7,1108.8 2554.7,1108.8" fill="#fff" stroke="#000" stroke-width="3" stroke-linejoin="miter"/>
<polygon points="2659.8,1090.5 2673.3,1107.0 2646.3,1107.0" fill="#fff" stroke="#000" stroke-width="3" stroke-linejoin="miter"/>
<circle cx="1687.8" cy="1158.7" r="12.3" fill="#000"/>
<circle cx="1781.4" cy="1170.4" r="12.3" fill="#000"/>
<circle cx="1869.2" cy="1189.5" r="12.3" fill="#000"/>
<circle cx="1956" cy="1210.3" r="12.3" fill="#000"/>
<circle cx="2046.9" cy="1231.4" r="12.3" fill="#000"/>
<circle cx="2131" cy="1245.6" r="12.3" fill="#000"/>
<circle cx="2214.8" cy="1254.3" r="12.3" fill="#000"/>
<circle cx="2311.3" cy="1261.5" r="12.3" fill="#000"/>
<circle cx="2397.7" cy="1266.5" r="12.3" fill="#000"/>
<circle cx="2487" cy="1261.5" r="12.3" fill="#000"/>
<circle cx="2571.6" cy="1264.2" r="12.3" fill="#000"/>
<circle cx="2653" cy="1263.3" r="12.3" fill="#000"/>
<polygon points="1685.0,1277.8 1701.0,1294.8 1685.0,1311.8 1669.0,1294.8" fill="#000"/>
<polygon points="1777.2,1283.7 1793.2,1300.7 1777.2,1317.7 1761.2,1300.7" fill="#000"/>
<polygon points="1865.1,1287.9 1881.1,1304.9 1865.1,1321.9 1849.1,1304.9" fill="#000"/>
<polygon points="1951.1,1293.0 1967.1,1310.0 1951.1,1327.0 1935.1,1310.0" fill="#000"/>
<polygon points="2044.0,1304.3 2060.0,1321.3 2044.0,1338.3 2028.0,1321.3" fill="#000"/>
<polygon points="2133.3,1310.0 2149.3,1327.0 2133.3,1344.0 2117.3,1327.0" fill="#000"/>
<polygon points="2222.2,1312.8 2238.2,1329.8 2222.2,1346.8 2206.2,1329.8" fill="#000"/>
<polygon points="2308.4,1313.7 2324.4,1330.7 2308.4,1347.7 2292.4,1330.7" fill="#000"/>
<polygon points="2393.2,1316.7 2409.2,1333.7 2393.2,1350.7 2377.2,1333.7" fill="#000"/>
<polygon points="2480.0,1312.8 2496.0,1329.8 2480.0,1346.8 2464.0,1329.8" fill="#000"/>
<polygon points="2569.0,1316.7 2585.0,1333.7 2569.0,1350.7 2553.0,1333.7" fill="#000"/>
<polygon points="2659.1,1311.7 2675.1,1328.7 2659.1,1345.7 2643.1,1328.7" fill="#000"/>
<polygon points="1693.0,1376.7 1708.5,1398.7 1677.5,1398.7" fill="#000"/>
<polygon points="1777.2,1379.0 1792.7,1401.0 1761.7,1401.0" fill="#000"/>
<polygon points="1869.2,1377.8 1884.7,1399.8 1853.7,1399.8" fill="#000"/>
<polygon points="1953.3,1380.7 1968.8,1402.7 1937.8,1402.7" fill="#000"/>
<polygon points="2040.2,1380.7 2055.7,1402.7 2024.7,1402.7" fill="#000"/>
<polygon points="2131.0,1381.9 2146.5,1403.9 2115.5,1403.9" fill="#000"/>
<polygon points="2217.0,1379.7 2232.5,1401.7 2201.5,1401.7" fill="#000"/>
<polygon points="2307.9,1380.8 2323.4,1402.8 2292.4,1402.8" fill="#000"/>
<polygon points="2396.6,1380.8 2412.1,1402.8 2381.1,1402.8" fill="#000"/>
<polygon points="2484.8,1381.9 2500.3,1403.9 2469.3,1403.9" fill="#000"/>
<polygon points="2569.4,1383.0 2584.9,1405.0 2553.9,1405.0" fill="#000"/>
<polygon points="2664.0,1383.0 2679.5,1405.0 2648.5,1405.0" fill="#000"/>
<text x="1291.9" y="238.7" font-family="Liberation Serif" font-size="63">[Pb</text>
<text x="1381.2" y="217.7" font-family="Liberation Serif" font-size="42">2</text>
<text x="1403" y="218" font-family="Liberation Serif" font-size="42">+</text>
<text x="1426" y="239" font-family="Liberation Serif" font-size="63">]</text>
<line x1="1447.5" y1="249.6" x2="1476.3" y2="194.2" stroke="#000" stroke-width="3.6"/>
<text x="1371" y="303.4" font-family="Liberation Serif" font-size="63">(mol</text>
<circle cx="1507.2" cy="284" r="6"/>
<text x="1520.7" y="303.4" font-family="Liberation Serif" font-size="63">L</text>
<rect x="1555" y="267.8" width="21.3" height="2.6"/>
<text x="1579.8" y="281.8" font-family="Liberation Serif" font-size="42">1</text>
<text x="1599" y="303.4" font-family="Liberation Serif" font-size="63">)</text>
<text x="1424.2" y="387" font-family="Liberation Serif" font-size="63">0</text>
<text x="1420.2" y="517" font-family="Liberation Serif" font-size="63">10</text>
<rect x="1488" y="475.5" width="21.2" height="2.6"/>
<text x="1520.2" y="493.5" font-family="Liberation Serif" font-size="42">9</text>
<text x="1420.2" y="652" font-family="Liberation Serif" font-size="63">10</text>
<rect x="1488" y="609.5" width="21.2" height="2.6"/>
<text x="1518.6" y="628.5" font-family="Liberation Serif" font-size="42">8</text>
<text x="1420.2" y="779" font-family="Liberation Serif" font-size="63">10</text>
<rect x="1488" y="737.5" width="21.2" height="2.6"/>
<text x="1518" y="755.5" font-family="Liberation Serif" font-size="42">7</text>
<text x="1420.2" y="918" font-family="Liberation Serif" font-size="63">10</text>
<rect x="1488" y="874.8" width="21.2" height="2.6"/>
<text x="1518" y="894.5" font-family="Liberation Serif" font-size="42">6</text>
<text x="1420.2" y="1046" font-family="Liberation Serif" font-size="63">10</text>
<rect x="1488" y="1002.5" width="21.2" height="2.6"/>
<text x="1518.5" y="1022.5" font-family="Liberation Serif" font-size="42">5</text>
<text x="1420.2" y="1183" font-family="Liberation Serif" font-size="63">10</text>
<rect x="1488" y="1139.5" width="21.2" height="2.6"/>
<text x="1519" y="1159.5" font-family="Liberation Serif" font-size="42">4</text>
<rect x="1367.5" y="360.4" width="22" height="22" fill="none" stroke="#000" stroke-width="3"/>
<circle cx="1377.2" cy="503" r="10.3" fill="#fff" stroke="#000" stroke-width="3"/>
<polygon points="1377.2,622.9 1392,637.6 1377.2,652.3 1362.4,637.6" fill="#fff" stroke="#000" stroke-width="3"/>
<polygon points="1380.7,758.5 1393.5,775 1367.9,775" fill="#fff" stroke="#000" stroke-width="3"/>
<circle cx="1378.1" cy="896.5" r="12.6"/>
<polygon points="1375,1010 1392,1027 1375,1044 1358,1027"/>
<polygon points="1379.7,1149 1395.2,1171 1364.2,1171"/>
<text x="1924" y="1574.2" font-family="Liberation Serif" font-size="63">time</text>
<line x1="2039.5" y1="1582.5" x2="2068.5" y2="1527" stroke="#000" stroke-width="3.6"/>
<text x="2068" y="1574.2" font-family="Liberation Serif" font-size="63">min</text>
<g transform="translate(1077.5,898) rotate(-90)"><text x="0" y="0" font-family="Liberation Serif" font-style="italic" font-size="63">J</text><line x1="27.6" y1="8.6" x2="57" y2="-48" stroke="#000" stroke-width="3.6"/><text x="56" y="0" font-family="Liberation Serif" font-size="63">(</text><text x="78.4" y="0" font-family="Liberation Serif" font-size="63">k</text><text x="108.5" y="0" font-family="Liberation Serif" font-size="63">g</text><circle cx="159.1" cy="-13.5" r="6"/><text x="171" y="0" font-family="Liberation Serif" font-size="63">m</text><rect x="220.1" y="-33.5" width="20.8" height="2.6"/><text x="240.8" y="-20.5" font-family="Liberation Serif" font-size="42">2</text><circle cx="278.2" cy="-16.5" r="6"/><text x="291.2" y="0" font-family="Liberation Serif" font-size="63">h</text><rect x="324" y="-27.6" width="21.4" height="2.6"/><text x="349.2" y="-13.3" font-family="Liberation Serif" font-size="42">1</text><text x="368" y="0" font-family="Liberation Serif" font-size="63">)</text></g>
<text x="2018.1" y="1748.5" font-family="Liberation Serif" font-size="63">(b)</text>
<text x="395" y="1748.5" font-family="Liberation Serif" font-size="63">(a)</text>
</svg></body></html>
